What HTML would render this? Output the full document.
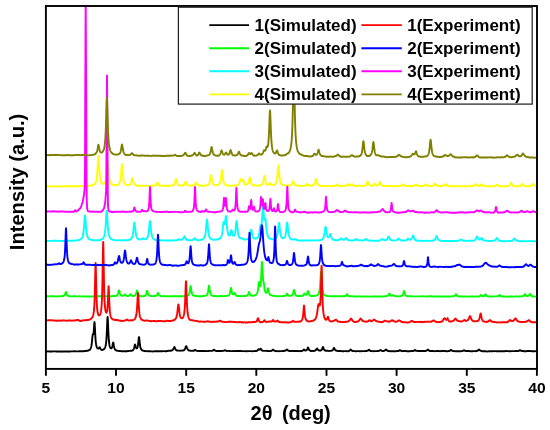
<!DOCTYPE html>
<html><head><meta charset="utf-8"><title>XRD patterns</title>
<style>html,body{margin:0;padding:0;background:#fff}body{width:550px;height:430px;overflow:hidden}</style>
</head><body>
<svg width="550" height="430" viewBox="0 0 550 430" style="display:block">
<rect width="550" height="430" fill="#fff"/>
<defs><clipPath id="pc"><rect x="44.9" y="6.0" width="493.1" height="362.9"/></clipPath></defs>
<g clip-path="url(#pc)" fill="none" stroke-width="1.9" stroke-linejoin="round" stroke-linecap="butt">
<polyline stroke="#000000" points="45.90,351.5 46.15,351.5 46.40,351.5 46.65,351.5 46.90,351.5 47.15,351.4 47.40,351.4 47.65,351.4 47.90,351.4 48.15,351.4 48.40,351.4 48.65,351.4 48.90,351.4 49.15,351.5 49.40,351.4 49.65,351.4 49.90,351.4 50.15,351.5 50.40,351.4 50.65,351.5 50.90,351.5 51.15,351.5 51.40,351.4 51.65,351.5 51.90,351.5 52.15,351.5 52.40,351.5 52.65,351.4 52.90,351.4 53.15,351.4 53.40,351.4 53.65,351.3 53.90,351.4 54.15,351.4 54.40,351.4 54.65,351.4 54.90,351.4 55.15,351.4 55.40,351.4 55.65,351.4 55.90,351.4 56.15,351.5 56.40,351.5 56.65,351.5 56.90,351.6 57.15,351.6 57.40,351.5 57.65,351.5 57.90,351.5 58.15,351.5 58.40,351.5 58.65,351.5 58.90,351.5 59.15,351.6 59.40,351.5 59.65,351.5 59.90,351.5 60.15,351.5 60.40,351.5 60.65,351.5 60.90,351.6 61.15,351.6 61.40,351.7 61.65,351.6 61.90,351.6 62.15,351.5 62.40,351.5 62.65,351.5 62.90,351.5 63.15,351.5 63.40,351.4 63.65,351.5 63.90,351.5 64.15,351.5 64.40,351.5 64.65,351.4 64.90,351.4 65.15,351.4 65.40,351.4 65.65,351.5 65.90,351.4 66.15,351.4 66.40,351.4 66.65,351.5 66.90,351.5 67.15,351.5 67.40,351.5 67.65,351.5 67.90,351.5 68.15,351.5 68.40,351.5 68.65,351.5 68.90,351.4 69.15,351.4 69.40,351.4 69.65,351.5 69.90,351.5 70.15,351.5 70.40,351.4 70.65,351.4 70.90,351.4 71.15,351.4 71.40,351.4 71.65,351.4 71.90,351.4 72.15,351.4 72.40,351.4 72.65,351.4 72.90,351.4 73.15,351.3 73.40,351.3 73.65,351.3 73.90,351.3 74.15,351.3 74.40,351.3 74.65,351.3 74.90,351.3 75.15,351.4 75.40,351.3 75.65,351.4 75.90,351.4 76.15,351.4 76.40,351.4 76.65,351.4 76.90,351.4 77.15,351.4 77.40,351.4 77.65,351.4 77.90,351.4 78.15,351.4 78.40,351.4 78.65,351.3 78.90,351.3 79.15,351.3 79.40,351.3 79.65,351.2 79.90,351.3 80.15,351.3 80.40,351.3 80.65,351.3 80.90,351.3 81.15,351.3 81.40,351.3 81.65,351.3 81.90,351.3 82.15,351.2 82.40,351.2 82.65,351.3 82.90,351.3 83.15,351.3 83.40,351.2 83.65,351.2 83.90,351.2 84.15,351.1 84.40,351.1 84.65,351.0 84.90,351.0 85.15,351.0 85.40,351.0 85.65,351.0 85.90,351.0 86.15,350.9 86.40,350.9 86.65,350.8 86.90,350.8 87.15,350.7 87.40,350.7 87.65,350.7 87.90,350.6 88.15,350.6 88.40,350.5 88.65,350.4 88.90,350.3 89.15,350.2 89.40,349.9 89.65,349.8 89.90,349.5 90.15,349.3 90.40,348.9 90.65,348.4 90.90,347.8 91.15,347.0 91.40,345.9 91.65,344.5 91.90,342.5 92.15,339.9 92.40,337.0 92.65,334.9 92.70,334.7 92.90,334.2 93.15,334.5 93.40,334.2 93.65,332.6 93.90,329.4 94.15,325.2 94.40,322.3 94.50,322.1 94.65,323.3 94.90,327.6 95.15,332.9 95.40,337.3 95.65,340.6 95.90,342.9 96.15,344.7 96.40,345.9 96.65,346.7 96.90,347.4 97.15,347.8 97.40,348.1 97.65,348.4 97.90,348.5 98.15,348.5 98.40,348.5 98.65,348.4 98.90,348.1 99.15,347.6 99.40,347.3 99.60,347.1 99.65,347.1 99.90,347.6 100.15,348.1 100.40,348.7 100.65,349.2 100.90,349.4 101.15,349.6 101.40,349.8 101.65,349.9 101.90,350.0 102.15,349.9 102.40,349.9 102.65,349.8 102.90,349.7 103.15,349.6 103.40,349.5 103.65,349.4 103.90,349.2 104.15,349.0 104.40,348.7 104.65,348.3 104.90,347.9 105.15,347.3 105.40,346.5 105.65,345.5 105.90,344.1 106.15,342.3 106.40,339.6 106.65,335.8 106.90,330.7 107.15,324.4 107.40,318.7 107.60,317.0 107.65,317.1 107.90,320.8 108.15,327.0 108.40,333.0 108.65,337.5 108.90,340.7 109.15,343.0 109.40,344.7 109.65,345.9 109.90,346.8 110.15,347.4 110.40,347.8 110.65,348.1 110.90,348.2 111.15,348.3 111.40,348.3 111.65,348.1 111.90,347.7 112.15,347.0 112.40,346.0 112.65,344.7 112.90,343.3 113.15,342.5 113.20,342.5 113.40,342.9 113.65,344.3 113.90,345.9 114.15,347.2 114.40,348.1 114.65,348.8 114.90,349.2 115.15,349.6 115.40,349.9 115.65,350.1 115.90,350.2 116.15,350.4 116.40,350.5 116.65,350.6 116.90,350.6 117.15,350.7 117.40,350.8 117.65,350.8 117.90,350.8 118.15,350.9 118.40,350.9 118.65,350.9 118.90,350.9 119.15,351.0 119.40,351.0 119.65,351.0 119.90,351.0 120.15,351.1 120.40,351.1 120.65,351.1 120.90,351.1 121.15,351.2 121.40,351.1 121.65,351.2 121.90,351.2 122.15,351.3 122.40,351.3 122.65,351.3 122.90,351.3 123.15,351.3 123.40,351.3 123.65,351.2 123.90,351.2 124.15,351.2 124.40,351.3 124.65,351.2 124.90,351.2 125.15,351.2 125.40,351.2 125.65,351.2 125.90,351.2 126.15,351.2 126.40,351.2 126.65,351.2 126.90,351.2 127.15,351.2 127.40,351.2 127.65,351.1 127.90,351.0 128.15,351.0 128.40,351.0 128.65,351.0 128.90,350.9 129.15,350.9 129.40,350.9 129.65,350.9 129.90,350.9 130.15,350.8 130.40,350.8 130.65,350.8 130.90,350.8 131.15,350.9 131.40,350.9 131.65,350.8 131.90,350.7 132.15,350.6 132.40,350.5 132.65,350.4 132.90,350.2 133.15,349.9 133.40,349.7 133.65,349.2 133.90,348.6 134.15,347.8 134.40,346.7 134.65,345.5 134.90,344.6 135.00,344.5 135.15,344.7 135.40,345.5 135.65,346.5 135.90,347.4 136.15,348.0 136.40,348.3 136.65,348.4 136.90,348.4 137.15,348.1 137.40,347.6 137.65,346.8 137.90,345.6 138.15,344.0 138.40,341.6 138.65,339.0 138.90,337.2 139.00,337.1 139.15,337.5 139.40,339.6 139.65,342.2 139.90,344.5 140.15,346.1 140.40,347.3 140.65,348.2 140.90,348.8 141.15,349.2 141.40,349.6 141.65,349.9 141.90,350.1 142.15,350.2 142.40,350.4 142.65,350.5 142.90,350.6 143.15,350.7 143.40,350.8 143.65,350.9 143.90,350.9 144.15,350.9 144.40,350.9 144.65,351.0 144.90,351.0 145.15,351.1 145.40,351.1 145.65,351.2 145.90,351.2 146.15,351.2 146.40,351.1 146.65,351.1 146.90,351.1 147.15,351.1 147.40,351.1 147.65,351.2 147.90,351.2 148.15,351.2 148.40,351.2 148.65,351.2 148.90,351.2 149.15,351.1 149.40,351.2 149.65,351.2 149.90,351.3 150.15,351.3 150.40,351.3 150.65,351.3 150.90,351.4 151.15,351.4 151.40,351.4 151.65,351.4 151.90,351.4 152.15,351.4 152.40,351.4 152.65,351.5 152.90,351.4 153.15,351.4 153.40,351.4 153.65,351.4 153.90,351.4 154.15,351.3 154.40,351.4 154.65,351.3 154.90,351.3 155.15,351.3 155.40,351.3 155.65,351.3 155.90,351.3 156.15,351.3 156.40,351.3 156.65,351.3 156.90,351.3 157.15,351.3 157.40,351.2 157.65,351.3 157.90,351.2 158.15,351.2 158.40,351.2 158.65,351.2 158.90,351.2 159.15,351.2 159.40,351.2 159.65,351.2 159.90,351.2 160.15,351.3 160.40,351.2 160.65,351.2 160.90,351.3 161.15,351.3 161.40,351.3 161.65,351.2 161.90,351.2 162.15,351.2 162.40,351.2 162.65,351.2 162.90,351.1 163.15,351.1 163.40,351.1 163.65,351.1 163.90,351.1 164.15,351.1 164.40,351.1 164.65,351.2 164.90,351.1 165.15,351.2 165.40,351.2 165.65,351.2 165.90,351.2 166.15,351.2 166.40,351.2 166.65,351.2 166.90,351.1 167.15,351.0 167.40,351.0 167.65,350.9 167.90,350.9 168.15,350.8 168.40,350.8 168.65,350.8 168.90,350.8 169.15,350.8 169.40,350.7 169.65,350.7 169.90,350.7 170.15,350.7 170.40,350.8 170.65,350.7 170.90,350.7 171.15,350.7 171.40,350.6 171.65,350.5 171.90,350.4 172.15,350.3 172.40,350.2 172.65,350.0 172.90,349.7 173.15,349.4 173.40,349.0 173.65,348.4 173.90,347.8 174.15,347.3 174.40,347.1 174.65,347.3 174.90,347.9 175.15,348.5 175.40,349.0 175.65,349.5 175.90,349.8 176.15,350.0 176.40,350.2 176.65,350.4 176.90,350.5 177.15,350.5 177.40,350.6 177.65,350.6 177.90,350.6 178.15,350.6 178.40,350.6 178.65,350.6 178.90,350.6 179.15,350.6 179.40,350.6 179.65,350.7 179.90,350.6 180.15,350.6 180.40,350.6 180.65,350.7 180.90,350.6 181.15,350.6 181.40,350.6 181.65,350.6 181.90,350.6 182.15,350.6 182.40,350.6 182.65,350.6 182.90,350.5 183.15,350.4 183.40,350.4 183.65,350.2 183.90,350.2 184.15,350.0 184.40,349.8 184.65,349.5 184.90,349.1 185.15,348.5 185.40,347.8 185.65,347.1 185.90,346.5 186.15,346.2 186.20,346.2 186.40,346.3 186.65,346.8 186.90,347.6 187.15,348.2 187.40,348.8 187.65,349.3 187.90,349.6 188.15,349.9 188.40,350.1 188.65,350.3 188.90,350.5 189.15,350.5 189.40,350.6 189.65,350.6 189.90,350.6 190.15,350.6 190.40,350.7 190.65,350.7 190.90,350.7 191.15,350.8 191.40,350.9 191.65,350.9 191.90,350.9 192.15,350.9 192.40,350.8 192.65,350.9 192.90,350.8 193.15,350.9 193.40,350.8 193.65,350.7 193.90,350.7 194.15,350.5 194.40,350.3 194.65,350.1 194.90,350.0 195.00,350.0 195.15,350.0 195.40,350.1 195.65,350.3 195.90,350.4 196.15,350.6 196.40,350.7 196.65,350.8 196.90,350.8 197.15,350.9 197.40,350.9 197.65,350.9 197.90,350.9 198.15,351.0 198.40,350.9 198.65,351.0 198.90,351.0 199.15,351.0 199.40,351.0 199.65,351.0 199.90,351.0 200.15,351.0 200.40,351.0 200.65,351.0 200.90,351.1 201.15,351.0 201.40,351.1 201.65,351.0 201.90,351.0 202.15,351.0 202.40,351.0 202.65,351.0 202.90,351.0 203.15,351.1 203.40,351.1 203.65,351.0 203.90,351.0 204.15,351.0 204.40,351.0 204.65,351.0 204.90,351.0 205.15,351.1 205.40,351.1 205.65,351.1 205.90,351.1 206.15,351.1 206.40,351.1 206.65,351.1 206.90,351.1 207.15,351.1 207.40,351.1 207.65,351.1 207.90,351.0 208.15,351.0 208.40,351.0 208.65,350.9 208.90,350.9 209.15,350.9 209.40,350.9 209.65,350.9 209.90,350.8 210.15,350.9 210.40,350.9 210.65,350.9 210.90,350.9 211.15,350.9 211.40,350.9 211.65,350.9 211.90,350.9 212.15,350.8 212.40,350.7 212.65,350.6 212.90,350.5 213.15,350.4 213.40,350.2 213.65,349.9 213.90,349.7 214.00,349.7 214.15,349.7 214.40,349.9 214.65,350.2 214.90,350.4 215.15,350.6 215.40,350.7 215.65,350.8 215.90,350.9 216.15,350.9 216.40,350.9 216.65,351.0 216.90,351.0 217.15,351.0 217.40,351.0 217.65,351.0 217.90,351.0 218.15,351.0 218.40,351.0 218.65,351.1 218.90,351.1 219.15,351.0 219.40,351.0 219.65,350.9 219.90,350.9 220.15,351.0 220.40,351.0 220.65,351.0 220.90,351.0 221.15,351.0 221.40,351.0 221.65,351.0 221.90,350.9 222.15,350.9 222.40,350.9 222.65,350.9 222.90,350.9 223.15,350.9 223.40,350.9 223.65,350.8 223.90,350.7 224.15,350.6 224.40,350.5 224.65,350.3 224.90,350.3 225.00,350.3 225.15,350.3 225.40,350.4 225.65,350.6 225.90,350.7 226.15,350.8 226.40,350.8 226.65,350.9 226.90,351.0 227.15,351.0 227.40,350.9 227.65,350.9 227.90,350.9 228.15,350.9 228.40,350.9 228.65,350.9 228.90,350.9 229.15,350.9 229.40,351.0 229.65,351.1 229.90,351.1 230.15,351.1 230.40,351.1 230.65,351.1 230.90,351.1 231.15,351.1 231.40,351.1 231.65,351.1 231.90,351.1 232.15,351.1 232.40,351.1 232.65,351.1 232.90,351.1 233.15,351.0 233.40,351.1 233.65,351.0 233.90,351.0 234.15,351.0 234.40,351.1 234.65,351.1 234.90,351.1 235.15,351.1 235.40,351.1 235.65,351.1 235.90,351.0 236.15,351.0 236.40,351.0 236.65,351.0 236.90,351.0 237.15,351.1 237.40,351.1 237.65,351.1 237.90,351.0 238.15,351.0 238.40,351.0 238.65,351.0 238.90,351.0 239.15,351.0 239.40,351.0 239.65,351.0 239.90,351.0 240.15,351.0 240.40,351.0 240.65,351.1 240.90,351.0 241.15,351.0 241.40,351.1 241.65,351.1 241.90,351.1 242.15,351.1 242.40,351.1 242.65,351.1 242.90,351.1 243.15,351.1 243.40,351.1 243.65,351.1 243.90,351.2 244.15,351.1 244.40,351.1 244.65,351.1 244.90,351.1 245.15,351.1 245.40,351.1 245.65,351.2 245.90,351.2 246.15,351.2 246.40,351.2 246.65,351.2 246.90,351.2 247.15,351.2 247.40,351.1 247.65,351.1 247.90,351.1 248.15,351.1 248.40,351.2 248.65,351.1 248.90,351.1 249.15,351.1 249.40,351.1 249.65,351.1 249.90,351.1 250.15,351.1 250.40,351.1 250.65,351.1 250.90,351.1 251.15,351.1 251.40,351.1 251.65,351.2 251.90,351.2 252.15,351.2 252.40,351.1 252.65,351.1 252.90,351.2 253.15,351.2 253.40,351.1 253.65,351.1 253.90,351.1 254.15,351.1 254.40,351.1 254.65,351.1 254.90,351.1 255.15,351.0 255.40,351.1 255.65,351.1 255.90,351.1 256.15,351.0 256.40,350.9 256.65,350.9 256.90,350.8 257.15,350.7 257.40,350.5 257.65,350.3 257.90,350.0 258.15,349.7 258.40,349.4 258.60,349.2 258.65,349.2 258.90,349.3 259.15,349.4 259.40,349.6 259.65,349.7 259.90,349.6 260.15,349.3 260.40,349.0 260.65,348.7 260.80,348.7 260.90,348.8 261.15,349.1 261.40,349.6 261.65,350.0 261.90,350.3 262.15,350.4 262.40,350.6 262.65,350.7 262.90,350.8 263.15,350.9 263.40,350.9 263.65,350.9 263.90,350.9 264.15,350.9 264.40,350.9 264.65,350.9 264.90,350.9 265.15,350.9 265.40,350.8 265.65,350.9 265.90,350.9 266.15,350.9 266.40,350.8 266.65,350.8 266.90,350.9 267.15,350.9 267.40,350.9 267.65,351.0 267.90,351.0 268.15,351.0 268.40,351.0 268.65,351.1 268.90,351.1 269.15,351.1 269.40,351.1 269.65,351.1 269.90,351.1 270.15,351.1 270.40,351.1 270.65,351.0 270.90,351.0 271.15,350.9 271.40,350.8 271.65,350.7 271.90,350.6 272.15,350.4 272.40,350.1 272.65,349.8 272.90,349.6 273.00,349.6 273.15,349.6 273.40,349.9 273.65,350.2 273.90,350.4 274.15,350.6 274.40,350.7 274.65,350.8 274.90,350.8 275.15,350.9 275.40,351.0 275.65,351.0 275.90,351.0 276.15,351.1 276.40,351.1 276.65,351.2 276.90,351.1 277.15,351.1 277.40,351.1 277.65,351.1 277.90,351.2 278.15,351.2 278.40,351.2 278.65,351.1 278.90,351.1 279.15,351.2 279.40,351.1 279.65,351.1 279.90,351.1 280.15,351.1 280.40,351.1 280.65,351.1 280.90,351.2 281.15,351.1 281.40,351.1 281.65,351.1 281.90,351.1 282.15,351.1 282.40,351.0 282.65,351.0 282.90,351.0 283.15,351.0 283.40,351.0 283.65,351.0 283.90,350.9 284.15,350.8 284.40,350.8 284.65,350.8 284.90,350.7 285.15,350.7 285.40,350.6 285.65,350.5 285.90,350.4 286.15,350.2 286.40,350.0 286.65,349.7 286.90,349.5 287.00,349.5 287.15,349.6 287.40,349.9 287.65,350.1 287.90,350.3 288.15,350.6 288.40,350.7 288.65,350.8 288.90,350.9 289.15,350.9 289.40,351.0 289.65,351.0 289.90,351.0 290.15,351.0 290.40,351.0 290.65,351.0 290.90,351.0 291.15,351.0 291.40,351.0 291.65,351.0 291.90,350.9 292.15,350.9 292.40,350.9 292.65,350.9 292.90,350.9 293.15,351.0 293.40,351.0 293.65,350.9 293.90,351.0 294.15,351.0 294.40,351.1 294.65,351.1 294.90,351.0 295.15,351.0 295.40,351.0 295.65,351.0 295.90,351.0 296.15,351.0 296.40,350.9 296.65,350.9 296.90,351.0 297.15,351.0 297.40,351.1 297.65,351.0 297.90,351.0 298.15,351.0 298.40,351.0 298.65,351.1 298.90,351.1 299.15,351.1 299.40,351.1 299.65,351.2 299.90,351.2 300.15,351.2 300.40,351.1 300.65,351.0 300.90,351.0 301.15,351.0 301.40,351.0 301.65,350.9 301.90,350.9 302.15,350.8 302.40,350.8 302.65,350.7 302.90,350.5 303.15,350.3 303.40,350.0 303.65,349.7 303.90,349.5 304.00,349.5 304.15,349.6 304.40,349.8 304.65,350.0 304.90,350.3 305.15,350.4 305.40,350.5 305.65,350.5 305.90,350.4 306.15,350.3 306.40,350.2 306.65,350.0 306.90,349.8 307.15,349.4 307.40,348.8 307.65,348.1 307.90,347.6 308.00,347.5 308.15,347.6 308.40,348.2 308.65,348.9 308.90,349.4 309.15,349.9 309.40,350.2 309.65,350.3 309.90,350.5 310.15,350.6 310.40,350.8 310.65,350.8 310.90,350.9 311.15,351.0 311.40,351.0 311.65,351.0 311.90,351.0 312.15,350.9 312.40,350.9 312.65,350.9 312.90,350.9 313.15,351.0 313.40,350.9 313.65,350.9 313.90,350.9 314.15,350.8 314.40,350.8 314.65,350.7 314.90,350.7 315.15,350.6 315.40,350.5 315.65,350.3 315.90,350.1 316.15,349.8 316.40,349.3 316.65,348.8 316.90,348.4 317.00,348.4 317.15,348.5 317.40,348.8 317.65,349.3 317.90,349.7 318.15,350.0 318.40,350.2 318.65,350.3 318.90,350.4 319.15,350.5 319.40,350.5 319.65,350.6 319.90,350.6 320.15,350.6 320.40,350.5 320.65,350.5 320.90,350.4 321.15,350.3 321.40,350.1 321.65,349.8 321.90,349.5 322.15,349.0 322.40,348.3 322.65,347.5 322.90,347.1 323.00,347.0 323.15,347.1 323.40,347.7 323.65,348.5 323.90,349.2 324.15,349.6 324.40,350.0 324.65,350.2 324.90,350.4 325.15,350.5 325.40,350.6 325.65,350.7 325.90,350.8 326.15,350.8 326.40,350.8 326.65,350.8 326.90,350.8 327.15,350.8 327.40,350.8 327.65,350.8 327.90,350.9 328.15,350.9 328.40,350.9 328.65,350.9 328.90,350.9 329.15,351.0 329.40,350.9 329.65,350.9 329.90,350.9 330.15,350.9 330.40,350.9 330.65,350.9 330.90,350.9 331.15,350.8 331.40,350.7 331.65,350.6 331.90,350.6 332.15,350.5 332.40,350.4 332.65,350.1 332.90,349.9 333.15,349.5 333.40,349.0 333.65,348.4 333.90,347.9 334.00,347.8 334.15,348.0 334.40,348.4 334.65,349.0 334.90,349.6 335.15,349.9 335.40,350.2 335.65,350.3 335.90,350.5 336.15,350.6 336.40,350.7 336.65,350.7 336.90,350.8 337.15,350.9 337.40,350.9 337.65,350.9 337.90,351.0 338.15,351.0 338.40,351.0 338.65,351.0 338.90,351.0 339.15,351.0 339.40,351.0 339.65,351.0 339.90,351.0 340.15,351.0 340.40,351.1 340.65,351.0 340.90,351.1 341.15,351.1 341.40,351.1 341.65,351.1 341.90,351.2 342.15,351.2 342.40,351.2 342.65,351.2 342.90,351.2 343.15,351.2 343.40,351.2 343.65,351.1 343.90,351.2 344.15,351.1 344.40,351.1 344.65,351.1 344.90,351.1 345.15,351.1 345.40,351.1 345.65,351.1 345.90,351.1 346.15,351.1 346.40,351.1 346.65,351.2 346.90,351.2 347.15,351.3 347.40,351.3 347.65,351.2 347.90,351.3 348.15,351.2 348.40,351.2 348.65,351.1 348.90,351.0 349.15,350.9 349.40,350.8 349.65,350.6 349.90,350.3 350.15,350.0 350.40,349.7 350.60,349.7 350.65,349.6 350.90,349.8 351.15,350.0 351.40,350.3 351.65,350.5 351.90,350.7 352.15,350.8 352.40,350.9 352.65,350.9 352.90,351.0 353.15,351.0 353.40,351.1 353.65,351.1 353.90,351.1 354.15,351.1 354.40,351.1 354.65,351.1 354.90,351.1 355.15,351.2 355.40,351.2 355.65,351.2 355.90,351.2 356.15,351.2 356.40,351.2 356.65,351.2 356.90,351.1 357.15,351.1 357.40,351.1 357.65,351.1 357.90,351.1 358.15,351.1 358.40,351.1 358.65,351.1 358.90,351.2 359.15,351.2 359.40,351.2 359.65,351.2 359.90,351.1 360.15,351.1 360.40,351.1 360.65,351.2 360.90,351.1 361.15,351.2 361.40,351.2 361.65,351.2 361.90,351.2 362.15,351.1 362.40,351.1 362.65,351.1 362.90,351.1 363.15,351.1 363.40,351.1 363.65,351.1 363.90,351.1 364.15,351.1 364.40,351.2 364.65,351.1 364.90,351.1 365.15,351.1 365.40,351.0 365.65,351.0 365.90,351.0 366.15,351.0 366.40,351.0 366.65,350.9 366.90,350.9 367.15,350.9 367.40,350.8 367.65,350.7 367.90,350.5 368.15,350.4 368.40,350.2 368.65,349.9 368.90,349.7 369.00,349.7 369.15,349.7 369.40,350.0 369.65,350.3 369.90,350.6 370.15,350.7 370.40,350.8 370.65,350.9 370.90,351.0 371.15,351.0 371.40,351.1 371.65,351.1 371.90,351.1 372.15,351.1 372.40,351.1 372.65,351.2 372.90,351.2 373.15,351.2 373.40,351.1 373.65,351.1 373.90,351.1 374.15,351.1 374.40,351.1 374.65,351.2 374.90,351.2 375.15,351.1 375.40,351.1 375.65,351.1 375.90,351.1 376.15,351.1 376.40,351.1 376.65,351.1 376.90,351.1 377.15,351.1 377.40,351.0 377.65,351.0 377.90,351.0 378.15,350.9 378.40,350.9 378.65,350.9 378.90,350.9 379.15,350.8 379.40,350.7 379.65,350.6 379.90,350.4 380.15,350.2 380.40,350.1 380.60,350.0 380.65,350.0 380.90,350.2 381.15,350.4 381.40,350.6 381.65,350.8 381.90,350.8 382.15,350.9 382.40,351.0 382.65,351.0 382.90,351.0 383.15,351.0 383.40,351.0 383.65,351.0 383.90,350.9 384.15,350.8 384.40,350.7 384.65,350.6 384.90,350.5 385.15,350.2 385.40,350.1 385.65,349.7 385.90,349.6 386.00,349.5 386.15,349.6 386.40,349.8 386.65,350.0 386.90,350.3 387.15,350.5 387.40,350.7 387.65,350.8 387.90,350.9 388.15,351.0 388.40,351.0 388.65,351.0 388.90,351.1 389.15,351.1 389.40,351.2 389.65,351.1 389.90,351.1 390.15,351.2 390.40,351.2 390.65,351.2 390.90,351.2 391.15,351.1 391.40,351.2 391.65,351.2 391.90,351.1 392.15,351.1 392.40,351.1 392.65,351.2 392.90,351.2 393.15,351.2 393.40,351.3 393.65,351.2 393.90,351.2 394.15,351.2 394.40,351.2 394.65,351.2 394.90,351.3 395.15,351.3 395.40,351.3 395.65,351.3 395.90,351.3 396.15,351.2 396.40,351.1 396.65,351.1 396.90,351.1 397.15,351.1 397.40,351.0 397.65,351.0 397.90,351.0 398.15,351.0 398.40,351.0 398.65,350.9 398.90,350.8 399.15,350.6 399.40,350.5 399.65,350.3 399.90,350.2 400.00,350.1 400.15,350.2 400.40,350.4 400.65,350.6 400.90,350.8 401.15,350.9 401.40,351.0 401.65,351.0 401.90,351.1 402.15,351.1 402.40,351.1 402.65,351.2 402.90,351.1 403.15,351.0 403.40,351.1 403.65,351.1 403.90,351.0 404.15,351.0 404.40,351.0 404.65,351.1 404.90,351.1 405.15,351.1 405.40,351.0 405.65,351.0 405.90,351.0 406.15,351.0 406.40,351.1 406.65,351.2 406.90,351.1 407.15,351.2 407.40,351.3 407.65,351.3 407.90,351.3 408.15,351.2 408.40,351.2 408.65,351.2 408.90,351.3 409.15,351.3 409.40,351.2 409.65,351.2 409.90,351.2 410.15,351.2 410.40,351.1 410.65,351.1 410.90,351.1 411.15,351.0 411.40,351.0 411.65,351.1 411.90,351.1 412.15,351.0 412.40,351.0 412.65,351.0 412.90,351.0 413.15,351.0 413.40,350.9 413.65,350.8 413.90,350.8 414.15,350.7 414.40,350.5 414.65,350.2 414.90,350.1 415.00,350.0 415.15,350.1 415.40,350.3 415.65,350.5 415.90,350.6 416.15,350.8 416.40,350.9 416.65,350.9 416.90,350.9 417.15,350.9 417.40,350.9 417.65,350.9 417.90,351.0 418.15,351.0 418.40,351.0 418.65,351.0 418.90,351.0 419.15,351.0 419.40,351.0 419.65,351.1 419.90,351.1 420.15,351.0 420.40,351.1 420.65,351.1 420.90,351.1 421.15,351.0 421.40,351.0 421.65,351.0 421.90,351.0 422.15,351.0 422.40,351.0 422.65,351.1 422.90,351.1 423.15,351.0 423.40,351.1 423.65,351.0 423.90,351.0 424.15,351.0 424.40,351.1 424.65,351.1 424.90,351.1 425.15,351.1 425.40,351.0 425.65,350.9 425.90,350.8 426.15,350.8 426.40,350.7 426.65,350.6 426.90,350.4 427.15,350.3 427.40,350.1 427.65,349.8 427.90,349.6 428.00,349.6 428.15,349.7 428.40,349.9 428.65,350.3 428.90,350.5 429.15,350.7 429.40,350.8 429.65,350.9 429.90,351.0 430.15,351.0 430.40,351.0 430.65,351.0 430.90,351.0 431.15,351.0 431.40,351.0 431.65,351.0 431.90,351.0 432.15,351.0 432.40,351.0 432.65,351.0 432.90,351.0 433.15,351.0 433.40,351.1 433.65,351.1 433.90,351.1 434.15,351.1 434.40,351.1 434.65,351.1 434.90,351.2 435.15,351.1 435.40,351.2 435.65,351.1 435.90,351.1 436.15,351.1 436.40,351.1 436.65,351.1 436.90,351.0 437.15,351.0 437.40,351.0 437.65,351.0 437.90,351.1 438.15,351.0 438.40,351.0 438.65,351.0 438.90,351.0 439.15,351.1 439.40,351.1 439.65,351.1 439.90,351.2 440.15,351.2 440.40,351.2 440.65,351.1 440.90,351.1 441.15,351.1 441.40,351.0 441.65,351.0 441.90,351.0 442.15,351.0 442.40,351.0 442.65,350.9 442.90,350.9 443.15,350.9 443.40,350.9 443.65,350.9 443.90,350.9 444.15,351.0 444.40,350.9 444.65,351.0 444.90,351.0 445.15,351.1 445.40,351.1 445.65,351.1 445.90,351.2 446.15,351.1 446.40,351.2 446.65,351.2 446.90,351.2 447.15,351.2 447.40,351.1 447.65,351.1 447.90,351.2 448.15,351.1 448.40,351.1 448.65,351.1 448.90,351.0 449.15,351.0 449.40,350.9 449.65,350.8 449.90,350.7 450.15,350.5 450.40,350.3 450.65,350.1 450.90,350.0 451.00,349.9 451.15,350.0 451.40,350.1 451.65,350.4 451.90,350.6 452.15,350.7 452.40,350.8 452.65,350.9 452.90,351.0 453.15,351.0 453.40,351.0 453.65,351.0 453.90,351.1 454.15,351.1 454.40,351.2 454.65,351.2 454.90,351.2 455.15,351.2 455.40,351.1 455.65,351.1 455.90,351.2 456.15,351.2 456.40,351.2 456.65,351.2 456.90,351.2 457.15,351.3 457.40,351.2 457.65,351.2 457.90,351.2 458.15,351.2 458.40,351.2 458.65,351.2 458.90,351.2 459.15,351.2 459.40,351.2 459.65,351.2 459.90,351.2 460.15,351.2 460.40,351.2 460.65,351.2 460.90,351.2 461.15,351.2 461.40,351.1 461.65,351.1 461.90,351.1 462.15,351.1 462.40,351.0 462.65,351.0 462.90,350.8 463.15,350.7 463.40,350.6 463.65,350.4 463.90,350.3 464.00,350.3 464.15,350.2 464.40,350.4 464.65,350.6 464.90,350.8 465.15,350.9 465.40,350.9 465.65,351.0 465.90,351.0 466.15,351.0 466.40,351.0 466.65,351.0 466.90,351.0 467.15,351.0 467.40,351.0 467.65,351.1 467.90,351.0 468.15,351.0 468.40,351.0 468.65,351.0 468.90,351.0 469.15,351.1 469.40,351.1 469.65,351.1 469.90,351.2 470.15,351.2 470.40,351.2 470.65,351.2 470.90,351.3 471.15,351.2 471.40,351.3 471.65,351.3 471.90,351.2 472.15,351.2 472.40,351.2 472.65,351.2 472.90,351.2 473.15,351.1 473.40,351.1 473.65,351.1 473.90,351.1 474.15,351.1 474.40,351.1 474.65,351.1 474.90,351.1 475.15,351.1 475.40,351.2 475.65,351.2 475.90,351.1 476.15,351.0 476.40,351.0 476.65,351.0 476.90,351.0 477.15,350.9 477.40,350.8 477.65,350.7 477.90,350.5 478.15,350.3 478.40,350.1 478.65,349.8 478.90,349.5 479.00,349.5 479.15,349.6 479.40,349.8 479.65,350.1 479.90,350.3 480.15,350.5 480.40,350.7 480.65,350.8 480.90,350.9 481.15,350.9 481.40,350.9 481.65,351.0 481.90,351.0 482.15,351.1 482.40,351.2 482.65,351.2 482.90,351.2 483.15,351.2 483.40,351.2 483.65,351.2 483.90,351.3 484.15,351.3 484.40,351.3 484.65,351.3 484.90,351.3 485.15,351.3 485.40,351.3 485.65,351.3 485.90,351.3 486.15,351.4 486.40,351.4 486.65,351.4 486.90,351.4 487.15,351.5 487.40,351.4 487.65,351.4 487.90,351.4 488.15,351.4 488.40,351.3 488.65,351.4 488.90,351.4 489.15,351.3 489.40,351.3 489.65,351.3 489.90,351.2 490.15,351.2 490.40,351.2 490.65,351.2 490.90,351.1 491.15,351.2 491.40,351.2 491.65,351.2 491.90,351.3 492.15,351.2 492.40,351.2 492.65,351.2 492.90,351.1 493.15,351.1 493.40,351.1 493.65,351.1 493.90,351.1 494.15,351.2 494.40,351.2 494.65,351.2 494.90,351.1 495.15,351.1 495.40,351.1 495.65,351.1 495.90,351.1 496.15,351.1 496.40,351.2 496.65,351.2 496.90,351.2 497.15,351.2 497.40,351.2 497.65,351.3 497.90,351.3 498.15,351.3 498.40,351.3 498.65,351.4 498.90,351.4 499.15,351.3 499.40,351.3 499.65,351.3 499.90,351.3 500.15,351.2 500.40,351.2 500.65,351.2 500.90,351.3 501.15,351.3 501.40,351.3 501.65,351.2 501.90,351.3 502.15,351.2 502.40,351.3 502.65,351.3 502.90,351.3 503.15,351.3 503.40,351.3 503.65,351.3 503.90,351.3 504.15,351.3 504.40,351.2 504.65,351.2 504.90,351.2 505.15,351.1 505.40,351.1 505.65,351.1 505.90,351.0 506.15,351.0 506.40,351.0 506.65,351.1 506.90,351.1 507.15,351.1 507.40,351.1 507.65,351.1 507.90,351.1 508.15,351.1 508.40,351.1 508.65,351.2 508.90,351.2 509.15,351.2 509.40,351.2 509.65,351.2 509.90,351.2 510.15,351.2 510.40,351.1 510.65,351.1 510.90,351.1 511.15,351.1 511.40,351.2 511.65,351.2 511.90,351.1 512.15,351.1 512.40,351.1 512.65,351.1 512.90,351.1 513.15,351.1 513.40,351.1 513.65,351.1 513.90,351.1 514.15,351.1 514.40,351.1 514.65,351.1 514.90,351.1 515.15,351.1 515.40,351.0 515.65,351.1 515.90,351.1 516.15,351.1 516.40,351.1 516.65,351.1 516.90,351.0 517.15,351.1 517.40,351.1 517.65,351.1 517.90,351.1 518.15,351.0 518.40,351.0 518.65,350.9 518.90,350.8 519.15,350.7 519.40,350.5 519.65,350.3 519.90,350.1 520.00,350.1 520.15,350.2 520.40,350.3 520.65,350.5 520.90,350.7 521.15,350.8 521.40,350.9 521.65,351.0 521.90,351.0 522.15,351.0 522.40,351.1 522.65,351.0 522.90,351.0 523.15,351.0 523.40,351.1 523.65,351.2 523.90,351.1 524.15,351.2 524.40,351.2 524.65,351.2 524.90,351.2 525.15,351.2 525.40,351.2 525.65,351.2 525.90,351.2 526.15,351.2 526.40,351.2 526.65,351.2 526.90,351.1 527.15,351.0 527.40,351.0 527.65,351.0 527.90,351.0 528.15,351.0 528.40,350.9 528.65,350.9 528.90,351.0 529.15,350.9 529.40,351.0 529.65,351.0 529.90,351.0 530.15,351.0 530.40,351.1 530.65,351.1 530.90,351.1 531.15,351.1 531.40,351.2 531.65,351.2 531.90,351.2 532.15,351.3 532.40,351.3 532.65,351.3 532.90,351.3 533.15,351.3 533.40,351.3 533.65,351.2 533.90,351.2 534.15,351.2 534.40,351.2 534.65,351.2 534.90,351.2 535.15,351.2 535.40,351.1 535.65,351.1 535.90,351.1 536.15,351.1 536.40,351.1 536.65,351.1 536.90,351.1"/>
<polyline stroke="#00ff00" points="45.90,296.3 46.15,296.3 46.40,296.3 46.65,296.2 46.90,296.3 47.15,296.3 47.40,296.3 47.65,296.3 47.90,296.3 48.15,296.3 48.40,296.3 48.65,296.3 48.90,296.4 49.15,296.4 49.40,296.3 49.65,296.4 49.90,296.4 50.15,296.4 50.40,296.4 50.65,296.3 50.90,296.3 51.15,296.3 51.40,296.2 51.65,296.3 51.90,296.2 52.15,296.3 52.40,296.2 52.65,296.2 52.90,296.3 53.15,296.3 53.40,296.3 53.65,296.3 53.90,296.3 54.15,296.3 54.40,296.3 54.65,296.4 54.90,296.4 55.15,296.4 55.40,296.5 55.65,296.4 55.90,296.5 56.15,296.5 56.40,296.4 56.65,296.4 56.90,296.4 57.15,296.4 57.40,296.4 57.65,296.4 57.90,296.4 58.15,296.4 58.40,296.4 58.65,296.4 58.90,296.4 59.15,296.3 59.40,296.3 59.65,296.3 59.90,296.3 60.15,296.3 60.40,296.2 60.65,296.2 60.90,296.2 61.15,296.2 61.40,296.1 61.65,296.1 61.90,296.1 62.15,296.1 62.40,296.0 62.65,296.1 62.90,296.0 63.15,296.0 63.40,295.9 63.65,295.8 63.90,295.7 64.15,295.5 64.40,295.3 64.65,295.1 64.90,294.7 65.15,294.2 65.40,293.4 65.65,292.5 65.90,292.0 66.00,292.0 66.15,292.1 66.40,292.8 66.65,293.7 66.90,294.4 67.15,294.9 67.40,295.3 67.65,295.6 67.90,295.8 68.15,295.9 68.40,296.0 68.65,296.1 68.90,296.1 69.15,296.2 69.40,296.2 69.65,296.2 69.90,296.2 70.15,296.2 70.40,296.3 70.65,296.4 70.90,296.4 71.15,296.4 71.40,296.4 71.65,296.4 71.90,296.4 72.15,296.3 72.40,296.4 72.65,296.3 72.90,296.3 73.15,296.3 73.40,296.3 73.65,296.4 73.90,296.3 74.15,296.2 74.40,296.2 74.65,296.2 74.90,296.3 75.15,296.3 75.40,296.3 75.65,296.4 75.90,296.4 76.15,296.4 76.40,296.4 76.65,296.4 76.90,296.4 77.15,296.3 77.40,296.4 77.65,296.4 77.90,296.4 78.15,296.4 78.40,296.4 78.65,296.4 78.90,296.3 79.15,296.3 79.40,296.3 79.65,296.2 79.90,296.2 80.15,296.3 80.40,296.4 80.65,296.4 80.90,296.4 81.15,296.4 81.40,296.4 81.65,296.5 81.90,296.4 82.15,296.4 82.40,296.4 82.65,296.4 82.90,296.4 83.15,296.5 83.40,296.5 83.65,296.5 83.90,296.5 84.15,296.4 84.40,296.4 84.65,296.4 84.90,296.4 85.15,296.4 85.40,296.4 85.65,296.4 85.90,296.4 86.15,296.5 86.40,296.5 86.65,296.5 86.90,296.5 87.15,296.5 87.40,296.5 87.65,296.5 87.90,296.5 88.15,296.5 88.40,296.5 88.65,296.5 88.90,296.5 89.15,296.5 89.40,296.5 89.65,296.4 89.90,296.4 90.15,296.4 90.40,296.5 90.65,296.4 90.90,296.4 91.15,296.4 91.40,296.4 91.65,296.5 91.90,296.5 92.15,296.5 92.40,296.4 92.65,296.4 92.90,296.4 93.15,296.4 93.40,296.4 93.65,296.4 93.90,296.4 94.15,296.4 94.40,296.4 94.65,296.4 94.90,296.4 95.15,296.4 95.40,296.4 95.65,296.4 95.90,296.4 96.15,296.5 96.40,296.4 96.65,296.4 96.90,296.4 97.15,296.3 97.40,296.3 97.65,296.3 97.90,296.3 98.15,296.3 98.40,296.3 98.65,296.3 98.90,296.3 99.15,296.3 99.40,296.3 99.65,296.3 99.90,296.3 100.15,296.3 100.40,296.3 100.65,296.3 100.90,296.4 101.15,296.4 101.40,296.4 101.65,296.5 101.90,296.5 102.15,296.5 102.40,296.5 102.65,296.4 102.90,296.4 103.15,296.3 103.40,296.4 103.65,296.3 103.90,296.4 104.15,296.3 104.40,296.3 104.65,296.2 104.90,296.2 105.15,296.2 105.40,296.2 105.65,296.2 105.90,296.2 106.15,296.2 106.40,296.2 106.65,296.3 106.90,296.2 107.15,296.3 107.40,296.3 107.65,296.3 107.90,296.3 108.15,296.3 108.40,296.3 108.65,296.3 108.90,296.3 109.15,296.4 109.40,296.4 109.65,296.3 109.90,296.3 110.15,296.3 110.40,296.3 110.65,296.3 110.90,296.2 111.15,296.3 111.40,296.2 111.65,296.2 111.90,296.2 112.15,296.1 112.40,296.1 112.65,296.0 112.90,296.0 113.15,296.0 113.40,296.1 113.65,296.1 113.90,296.1 114.15,296.1 114.40,296.1 114.65,296.0 114.90,296.0 115.15,296.0 115.40,296.0 115.65,296.0 115.90,295.9 116.15,295.8 116.40,295.8 116.65,295.6 116.90,295.4 117.15,295.3 117.40,295.0 117.65,294.6 117.90,294.1 118.15,293.3 118.40,292.3 118.65,291.2 118.90,290.4 119.00,290.4 119.15,290.6 119.40,291.5 119.65,292.5 119.90,293.5 120.15,294.2 120.40,294.6 120.65,295.0 120.90,295.2 121.15,295.4 121.40,295.6 121.65,295.6 121.90,295.7 122.15,295.7 122.40,295.7 122.65,295.7 122.90,295.7 123.15,295.7 123.40,295.6 123.65,295.5 123.90,295.3 124.15,295.2 124.40,294.9 124.65,294.5 124.90,294.3 125.00,294.3 125.15,294.5 125.40,294.7 125.65,295.1 125.90,295.4 126.15,295.6 126.40,295.7 126.65,295.8 126.90,295.9 127.15,296.0 127.40,296.0 127.65,296.0 127.90,296.0 128.15,296.0 128.40,295.9 128.65,295.8 128.90,295.7 129.15,295.6 129.40,295.3 129.65,295.0 129.90,294.7 130.15,294.3 130.40,294.2 130.65,294.3 130.90,294.7 131.15,295.1 131.40,295.4 131.65,295.6 131.90,295.8 132.15,295.9 132.40,296.0 132.65,296.0 132.90,296.0 133.15,295.9 133.40,296.0 133.65,296.0 133.90,295.9 134.15,295.8 134.40,295.7 134.65,295.6 134.90,295.5 135.15,295.3 135.40,295.0 135.65,294.6 135.90,294.1 136.15,293.4 136.40,292.4 136.65,291.4 136.90,290.5 137.00,290.4 137.15,290.7 137.40,291.5 137.65,292.7 137.90,293.6 138.15,294.4 138.40,294.8 138.65,295.2 138.90,295.4 139.15,295.6 139.40,295.7 139.65,295.9 139.90,295.9 140.15,296.0 140.40,296.0 140.65,296.0 140.90,296.1 141.15,296.2 141.40,296.2 141.65,296.2 141.90,296.2 142.15,296.3 142.40,296.2 142.65,296.2 142.90,296.2 143.15,296.2 143.40,296.2 143.65,296.2 143.90,296.2 144.15,296.1 144.40,296.0 144.65,295.9 144.90,295.7 145.15,295.5 145.40,295.3 145.65,295.0 145.90,294.6 146.15,294.1 146.40,293.3 146.65,292.3 146.90,291.3 147.15,290.7 147.20,290.7 147.40,291.0 147.65,291.9 147.90,293.0 148.15,293.8 148.40,294.5 148.65,294.8 148.90,295.2 149.15,295.4 149.40,295.5 149.65,295.6 149.90,295.7 150.15,295.8 150.40,295.9 150.65,295.9 150.90,296.0 151.15,296.0 151.40,296.1 151.65,296.1 151.90,296.1 152.15,296.1 152.40,296.1 152.65,296.1 152.90,296.2 153.15,296.2 153.40,296.2 153.65,296.2 153.90,296.2 154.15,296.1 154.40,296.1 154.65,296.0 154.90,296.0 155.15,295.9 155.40,295.9 155.65,295.9 155.90,295.9 156.15,295.7 156.40,295.6 156.65,295.3 156.90,295.0 157.15,294.6 157.40,294.0 157.65,293.4 157.90,293.0 158.00,292.9 158.15,293.0 158.40,293.6 158.65,294.1 158.90,294.7 159.15,295.1 159.40,295.3 159.65,295.5 159.90,295.6 160.15,295.8 160.40,295.9 160.65,296.0 160.90,296.0 161.15,296.1 161.40,296.1 161.65,296.2 161.90,296.1 162.15,296.1 162.40,296.1 162.65,296.1 162.90,296.2 163.15,296.2 163.40,296.2 163.65,296.2 163.90,296.2 164.15,296.2 164.40,296.2 164.65,296.2 164.90,296.1 165.15,296.1 165.40,296.2 165.65,296.2 165.90,296.2 166.15,296.2 166.40,296.2 166.65,296.2 166.90,296.3 167.15,296.2 167.40,296.3 167.65,296.3 167.90,296.3 168.15,296.3 168.40,296.4 168.65,296.3 168.90,296.4 169.15,296.4 169.40,296.4 169.65,296.4 169.90,296.4 170.15,296.3 170.40,296.3 170.65,296.3 170.90,296.3 171.15,296.3 171.40,296.3 171.65,296.3 171.90,296.2 172.15,296.2 172.40,296.2 172.65,296.2 172.90,296.2 173.15,296.1 173.40,296.1 173.65,296.2 173.90,296.2 174.15,296.2 174.40,296.2 174.65,296.2 174.90,296.2 175.15,296.2 175.40,296.3 175.65,296.2 175.90,296.2 176.15,296.3 176.40,296.3 176.65,296.3 176.90,296.4 177.15,296.3 177.40,296.3 177.65,296.3 177.90,296.2 178.15,296.2 178.40,296.2 178.65,296.2 178.90,296.2 179.15,296.2 179.40,296.2 179.65,296.3 179.90,296.3 180.15,296.2 180.40,296.2 180.65,296.2 180.90,296.2 181.15,296.2 181.40,296.3 181.65,296.3 181.90,296.3 182.15,296.2 182.40,296.2 182.65,296.2 182.90,296.2 183.15,296.1 183.40,296.1 183.65,296.1 183.90,296.1 184.15,296.1 184.40,296.1 184.65,296.1 184.90,296.1 185.15,296.0 185.40,296.0 185.65,296.0 185.90,295.9 186.15,295.9 186.40,295.9 186.65,295.9 186.90,295.8 187.15,295.8 187.40,295.7 187.65,295.5 187.90,295.4 188.15,295.2 188.40,295.0 188.65,294.7 188.90,294.4 189.15,293.8 189.40,293.0 189.65,291.8 189.90,290.2 190.15,288.3 190.40,286.6 190.60,286.0 190.65,286.1 190.90,287.2 191.15,289.1 191.40,290.9 191.65,292.3 191.90,293.3 192.15,293.9 192.40,294.4 192.65,294.8 192.90,295.0 193.15,295.3 193.40,295.4 193.65,295.5 193.90,295.5 194.15,295.6 194.40,295.7 194.65,295.7 194.90,295.8 195.15,295.8 195.40,295.8 195.65,295.9 195.90,296.0 196.15,296.0 196.40,296.0 196.65,296.0 196.90,296.1 197.15,296.1 197.40,296.2 197.65,296.2 197.90,296.1 198.15,296.2 198.40,296.2 198.65,296.2 198.90,296.2 199.15,296.2 199.40,296.2 199.65,296.2 199.90,296.2 200.15,296.3 200.40,296.3 200.65,296.3 200.90,296.3 201.15,296.3 201.40,296.3 201.65,296.3 201.90,296.2 202.15,296.2 202.40,296.2 202.65,296.2 202.90,296.1 203.15,296.0 203.40,296.0 203.65,295.9 203.90,295.9 204.15,295.9 204.40,295.9 204.65,295.8 204.90,295.8 205.15,295.8 205.40,295.8 205.65,295.6 205.90,295.6 206.15,295.4 206.40,295.4 206.65,295.2 206.90,294.9 207.15,294.5 207.40,294.0 207.65,293.3 207.90,292.4 208.15,291.0 208.40,289.2 208.65,287.2 208.90,285.8 209.00,285.7 209.15,285.9 209.40,287.6 209.65,289.5 209.90,291.3 210.15,292.6 210.40,293.5 210.65,294.2 210.90,294.6 211.15,294.9 211.40,295.2 211.65,295.4 211.90,295.5 212.15,295.7 212.40,295.8 212.65,295.9 212.90,295.9 213.15,296.0 213.40,296.0 213.65,296.0 213.90,296.0 214.15,296.0 214.40,296.0 214.65,296.0 214.90,296.0 215.15,296.1 215.40,296.1 215.65,296.1 215.90,296.1 216.15,296.1 216.40,296.2 216.65,296.2 216.90,296.2 217.15,296.2 217.40,296.2 217.65,296.2 217.90,296.3 218.15,296.2 218.40,296.2 218.65,296.2 218.90,296.2 219.15,296.2 219.40,296.2 219.65,296.2 219.90,296.2 220.15,296.1 220.40,296.1 220.65,296.0 220.90,296.0 221.15,296.0 221.40,296.1 221.65,296.1 221.90,296.2 222.15,296.2 222.40,296.2 222.65,296.1 222.90,296.1 223.15,296.1 223.40,296.1 223.65,296.1 223.90,296.1 224.15,296.1 224.40,296.1 224.65,296.1 224.90,296.0 225.15,296.0 225.40,296.0 225.65,296.0 225.90,296.0 226.15,295.9 226.40,295.9 226.65,295.9 226.90,295.9 227.15,295.8 227.40,295.8 227.65,295.7 227.90,295.7 228.15,295.5 228.40,295.4 228.65,295.3 228.90,295.0 229.15,294.8 229.40,294.4 229.65,293.9 229.90,293.1 230.15,292.1 230.40,290.7 230.65,289.2 230.90,288.0 231.00,287.9 231.15,288.2 231.40,289.4 231.65,291.0 231.90,292.2 232.15,293.1 232.40,293.7 232.65,294.1 232.90,294.3 233.15,294.4 233.40,294.4 233.65,294.2 233.90,293.9 234.15,293.5 234.40,293.1 234.60,293.0 234.65,292.9 234.90,293.2 235.15,293.9 235.40,294.5 235.65,294.9 235.90,295.2 236.15,295.5 236.40,295.6 236.65,295.8 236.90,295.8 237.15,295.9 237.40,296.0 237.65,296.0 237.90,296.0 238.15,296.0 238.40,296.1 238.65,296.1 238.90,296.1 239.15,296.0 239.40,296.0 239.65,296.0 239.90,296.0 240.15,296.0 240.40,296.0 240.65,296.1 240.90,296.1 241.15,296.2 241.40,296.2 241.65,296.2 241.90,296.1 242.15,296.1 242.40,296.1 242.65,296.1 242.90,296.1 243.15,296.1 243.40,296.1 243.65,296.0 243.90,296.1 244.15,296.1 244.40,296.0 244.65,296.0 244.90,296.0 245.15,296.0 245.40,296.0 245.65,296.0 245.90,296.0 246.15,295.9 246.40,295.8 246.65,295.7 246.90,295.6 247.15,295.5 247.40,295.2 247.65,295.0 247.90,294.6 248.15,294.0 248.40,293.3 248.65,292.5 248.90,291.9 249.00,291.9 249.15,292.0 249.40,292.7 249.65,293.4 249.90,294.2 250.15,294.6 250.40,295.0 250.65,295.2 250.90,295.4 251.15,295.5 251.40,295.6 251.65,295.7 251.90,295.7 252.15,295.8 252.40,295.7 252.65,295.7 252.90,295.7 253.15,295.7 253.40,295.6 253.65,295.6 253.90,295.6 254.15,295.5 254.40,295.5 254.65,295.4 254.90,295.3 255.15,295.3 255.40,295.1 255.65,294.9 255.90,294.8 256.15,294.6 256.40,294.3 256.65,294.1 256.90,293.7 257.15,293.1 257.40,292.5 257.65,291.6 257.90,290.4 258.15,288.8 258.40,286.6 258.65,284.1 258.90,282.2 259.00,282.0 259.15,282.1 259.40,283.4 259.65,284.9 259.90,286.0 260.15,286.3 260.40,285.7 260.65,284.3 260.90,281.8 261.15,278.0 261.40,272.8 261.65,266.8 261.90,262.5 262.00,262.0 262.15,262.9 262.40,267.4 262.65,272.9 262.90,277.3 263.15,280.0 263.40,281.4 263.65,282.3 263.80,283.0 263.90,283.6 264.15,285.5 264.40,287.5 264.65,289.3 264.90,290.5 265.15,291.5 265.40,292.1 265.65,292.5 265.90,292.8 266.15,292.8 266.40,292.8 266.65,292.6 266.90,292.1 267.15,291.3 267.40,290.3 267.65,289.1 267.90,288.2 268.00,288.2 268.15,288.4 268.40,289.6 268.65,291.0 268.90,292.2 269.15,293.1 269.40,293.7 269.65,294.2 269.90,294.5 270.15,294.8 270.40,295.0 270.65,295.1 270.90,295.2 271.15,295.3 271.40,295.4 271.65,295.5 271.90,295.5 272.15,295.6 272.40,295.7 272.65,295.7 272.90,295.8 273.15,295.8 273.40,295.9 273.65,295.9 273.90,295.9 274.15,295.9 274.40,296.0 274.65,296.0 274.90,296.0 275.15,296.0 275.40,296.0 275.65,296.1 275.90,296.1 276.15,296.1 276.40,296.1 276.65,296.2 276.90,296.1 277.15,296.2 277.40,296.1 277.65,296.2 277.90,296.2 278.15,296.1 278.40,296.1 278.65,296.1 278.90,296.2 279.15,296.2 279.40,296.1 279.65,296.1 279.90,296.1 280.15,296.1 280.40,296.1 280.65,296.1 280.90,296.1 281.15,296.1 281.40,296.1 281.65,296.1 281.90,296.1 282.15,296.1 282.40,296.1 282.65,296.1 282.90,296.1 283.15,296.1 283.40,296.1 283.65,296.0 283.90,296.0 284.15,296.0 284.40,296.0 284.65,295.9 284.90,295.9 285.15,295.8 285.40,295.7 285.65,295.5 285.90,295.3 286.15,295.0 286.40,294.5 286.65,294.0 286.90,293.7 287.00,293.7 287.15,293.7 287.40,294.1 287.65,294.6 287.90,295.0 288.15,295.3 288.40,295.5 288.65,295.7 288.90,295.8 289.15,295.9 289.40,295.9 289.65,295.9 289.90,295.9 290.15,295.9 290.40,295.9 290.65,295.9 290.90,295.8 291.15,295.8 291.40,295.6 291.65,295.6 291.90,295.4 292.15,295.2 292.40,294.9 292.65,294.5 292.90,293.9 293.15,293.1 293.40,292.1 293.65,290.9 293.90,290.1 294.00,290.0 294.15,290.2 294.40,291.1 294.65,292.3 294.90,293.4 295.15,294.2 295.40,294.6 295.65,295.0 295.90,295.3 296.15,295.5 296.40,295.7 296.65,295.8 296.90,295.9 297.15,295.9 297.40,296.0 297.65,296.0 297.90,296.0 298.15,296.1 298.40,296.1 298.65,296.0 298.90,296.1 299.15,296.0 299.40,296.0 299.65,296.0 299.90,296.0 300.15,296.1 300.40,296.1 300.65,296.0 300.90,296.0 301.15,296.0 301.40,296.0 301.65,295.9 301.90,296.0 302.15,295.9 302.40,295.8 302.65,295.8 302.90,295.6 303.15,295.4 303.40,295.1 303.65,294.7 303.90,294.2 304.15,293.7 304.40,293.5 304.65,293.7 304.90,294.1 305.15,294.4 305.40,294.7 305.65,294.8 305.90,294.9 306.15,294.9 306.40,294.7 306.65,294.5 306.90,294.1 307.15,293.5 307.40,292.6 307.65,291.7 307.90,291.1 308.00,291.0 308.15,291.1 308.40,291.9 308.65,292.9 308.90,293.7 309.15,294.4 309.40,294.8 309.65,295.2 309.90,295.4 310.15,295.6 310.40,295.7 310.65,295.9 310.90,295.9 311.15,296.0 311.40,296.1 311.65,296.1 311.90,296.1 312.15,296.0 312.40,296.0 312.65,296.0 312.90,296.0 313.15,296.0 313.40,296.0 313.65,295.9 313.90,295.9 314.15,295.9 314.40,295.9 314.65,295.8 314.90,295.7 315.15,295.8 315.40,295.8 315.65,295.8 315.90,295.7 316.15,295.6 316.40,295.5 316.65,295.4 316.90,295.3 317.15,295.2 317.40,295.1 317.65,294.9 317.90,294.7 318.15,294.4 318.40,294.1 318.65,293.6 318.90,292.9 319.15,292.1 319.40,291.0 319.65,289.5 319.90,287.3 320.15,284.2 320.40,280.1 320.65,275.5 320.90,272.3 321.00,272.0 321.15,272.7 321.40,276.4 321.65,281.0 321.90,284.9 322.15,287.8 322.40,289.9 322.65,291.3 322.90,292.3 323.15,293.1 323.40,293.7 323.65,294.1 323.90,294.5 324.15,294.7 324.40,295.0 324.65,295.1 324.90,295.3 325.15,295.4 325.40,295.5 325.65,295.6 325.90,295.7 326.15,295.8 326.40,295.8 326.65,295.9 326.90,295.9 327.15,296.0 327.40,296.0 327.65,296.1 327.90,296.1 328.15,296.1 328.40,296.1 328.65,296.1 328.90,296.1 329.15,296.1 329.40,296.1 329.65,296.1 329.90,296.1 330.15,296.2 330.40,296.2 330.65,296.2 330.90,296.2 331.15,296.2 331.40,296.2 331.65,296.3 331.90,296.3 332.15,296.2 332.40,296.2 332.65,296.2 332.90,296.2 333.15,296.3 333.40,296.3 333.65,296.3 333.90,296.3 334.15,296.3 334.40,296.3 334.65,296.3 334.90,296.3 335.15,296.3 335.40,296.3 335.65,296.3 335.90,296.3 336.15,296.3 336.40,296.3 336.65,296.2 336.90,296.2 337.15,296.2 337.40,296.1 337.65,296.2 337.90,296.1 338.15,296.1 338.40,296.1 338.65,296.1 338.90,296.1 339.15,296.2 339.40,296.2 339.65,296.2 339.90,296.2 340.15,296.3 340.40,296.2 340.65,296.3 340.90,296.3 341.15,296.2 341.40,296.3 341.65,296.3 341.90,296.3 342.15,296.3 342.40,296.3 342.65,296.2 342.90,296.2 343.15,296.2 343.40,296.2 343.65,296.2 343.90,296.3 344.15,296.2 344.40,296.2 344.65,296.2 344.90,296.1 345.15,296.0 345.40,296.0 345.65,295.9 345.90,295.7 346.15,295.4 346.40,295.0 346.65,294.6 346.90,294.2 347.00,294.2 347.15,294.2 347.40,294.6 347.65,295.0 347.90,295.5 348.15,295.7 348.40,295.9 348.65,296.1 348.90,296.1 349.15,296.2 349.40,296.2 349.65,296.2 349.90,296.2 350.15,296.3 350.40,296.3 350.65,296.3 350.90,296.2 351.15,296.3 351.40,296.3 351.65,296.4 351.90,296.4 352.15,296.3 352.40,296.3 352.65,296.3 352.90,296.4 353.15,296.3 353.40,296.4 353.65,296.4 353.90,296.4 354.15,296.4 354.40,296.5 354.65,296.4 354.90,296.4 355.15,296.4 355.40,296.4 355.65,296.5 355.90,296.4 356.15,296.5 356.40,296.5 356.65,296.5 356.90,296.5 357.15,296.5 357.40,296.4 357.65,296.4 357.90,296.4 358.15,296.4 358.40,296.4 358.65,296.4 358.90,296.4 359.15,296.3 359.40,296.4 359.65,296.4 359.90,296.4 360.15,296.4 360.40,296.4 360.65,296.5 360.90,296.5 361.15,296.5 361.40,296.5 361.65,296.5 361.90,296.5 362.15,296.5 362.40,296.6 362.65,296.5 362.90,296.6 363.15,296.5 363.40,296.5 363.65,296.5 363.90,296.4 364.15,296.4 364.40,296.4 364.65,296.5 364.90,296.5 365.15,296.4 365.40,296.4 365.65,296.4 365.90,296.4 366.15,296.5 366.40,296.5 366.65,296.4 366.90,296.5 367.15,296.5 367.40,296.6 367.65,296.6 367.90,296.6 368.15,296.6 368.40,296.6 368.65,296.6 368.90,296.6 369.15,296.6 369.40,296.6 369.65,296.6 369.90,296.6 370.15,296.6 370.40,296.6 370.65,296.6 370.90,296.5 371.15,296.6 371.40,296.5 371.65,296.5 371.90,296.4 372.15,296.5 372.40,296.5 372.65,296.5 372.90,296.5 373.15,296.4 373.40,296.4 373.65,296.4 373.90,296.4 374.15,296.4 374.40,296.4 374.65,296.4 374.90,296.5 375.15,296.5 375.40,296.5 375.65,296.5 375.90,296.5 376.15,296.5 376.40,296.5 376.65,296.5 376.90,296.5 377.15,296.5 377.40,296.5 377.65,296.5 377.90,296.6 378.15,296.5 378.40,296.5 378.65,296.5 378.90,296.5 379.15,296.5 379.40,296.4 379.65,296.4 379.90,296.5 380.15,296.5 380.40,296.5 380.65,296.5 380.90,296.5 381.15,296.4 381.40,296.4 381.65,296.4 381.90,296.4 382.15,296.4 382.40,296.5 382.65,296.5 382.90,296.5 383.15,296.4 383.40,296.4 383.65,296.4 383.90,296.4 384.15,296.4 384.40,296.4 384.65,296.4 384.90,296.3 385.15,296.4 385.40,296.3 385.65,296.3 385.90,296.2 386.15,296.1 386.40,296.1 386.65,296.1 386.90,296.0 387.15,295.9 387.40,295.9 387.65,295.8 387.90,295.6 388.15,295.4 388.40,295.2 388.65,294.7 388.90,294.2 389.15,293.8 389.40,293.6 389.65,293.8 389.90,294.3 390.15,294.7 390.40,295.1 390.65,295.3 390.90,295.5 391.15,295.6 391.40,295.7 391.65,295.6 391.90,295.7 392.15,295.6 392.40,295.4 392.65,295.1 392.90,295.0 393.00,294.9 393.15,295.0 393.40,295.3 393.65,295.6 393.90,295.8 394.15,296.0 394.40,296.0 394.65,296.0 394.90,296.1 395.15,296.1 395.40,296.1 395.65,296.2 395.90,296.2 396.15,296.3 396.40,296.3 396.65,296.3 396.90,296.3 397.15,296.3 397.40,296.3 397.65,296.4 397.90,296.4 398.15,296.4 398.40,296.4 398.65,296.4 398.90,296.4 399.15,296.3 399.40,296.3 399.65,296.3 399.90,296.2 400.15,296.2 400.40,296.2 400.65,296.2 400.90,296.1 401.15,296.0 401.40,295.9 401.65,295.9 401.90,295.7 402.15,295.5 402.40,295.3 402.65,294.9 402.90,294.4 403.15,293.8 403.40,292.9 403.65,291.8 403.90,291.1 404.00,291.0 404.15,291.2 404.40,292.0 404.65,293.0 404.90,293.8 405.15,294.5 405.40,295.0 405.65,295.4 405.90,295.6 406.15,295.8 406.40,295.9 406.65,295.9 406.90,296.0 407.15,296.0 407.40,296.2 407.65,296.2 407.90,296.2 408.15,296.3 408.40,296.3 408.65,296.3 408.90,296.3 409.15,296.2 409.40,296.2 409.65,296.1 409.90,296.2 410.15,296.2 410.40,296.3 410.65,296.3 410.90,296.3 411.15,296.3 411.40,296.3 411.65,296.3 411.90,296.3 412.15,296.4 412.40,296.4 412.65,296.4 412.90,296.4 413.15,296.4 413.40,296.4 413.65,296.4 413.90,296.4 414.15,296.4 414.40,296.4 414.65,296.5 414.90,296.5 415.15,296.5 415.40,296.4 415.65,296.4 415.90,296.4 416.15,296.4 416.40,296.4 416.65,296.4 416.90,296.4 417.15,296.4 417.40,296.4 417.65,296.4 417.90,296.4 418.15,296.4 418.40,296.4 418.65,296.4 418.90,296.4 419.15,296.4 419.40,296.4 419.65,296.4 419.90,296.4 420.15,296.4 420.40,296.4 420.65,296.4 420.90,296.4 421.15,296.4 421.40,296.4 421.65,296.4 421.90,296.4 422.15,296.3 422.40,296.3 422.65,296.3 422.90,296.4 423.15,296.3 423.40,296.4 423.65,296.3 423.90,296.4 424.15,296.4 424.40,296.4 424.65,296.4 424.90,296.4 425.15,296.4 425.40,296.4 425.65,296.4 425.90,296.5 426.15,296.5 426.40,296.4 426.65,296.5 426.90,296.5 427.15,296.5 427.40,296.5 427.65,296.5 427.90,296.4 428.15,296.4 428.40,296.4 428.65,296.4 428.90,296.3 429.15,296.3 429.40,296.3 429.65,296.3 429.90,296.3 430.15,296.3 430.40,296.3 430.65,296.3 430.90,296.3 431.15,296.3 431.40,296.3 431.65,296.3 431.90,296.3 432.15,296.4 432.40,296.4 432.65,296.4 432.90,296.5 433.15,296.5 433.40,296.5 433.65,296.5 433.90,296.6 434.15,296.6 434.40,296.5 434.65,296.6 434.90,296.5 435.15,296.6 435.40,296.5 435.65,296.5 435.90,296.5 436.15,296.5 436.40,296.5 436.65,296.5 436.90,296.5 437.15,296.5 437.40,296.4 437.65,296.4 437.90,296.4 438.15,296.4 438.40,296.5 438.65,296.5 438.90,296.5 439.15,296.5 439.40,296.5 439.65,296.5 439.90,296.5 440.15,296.5 440.40,296.5 440.65,296.5 440.90,296.5 441.15,296.5 441.40,296.5 441.65,296.5 441.90,296.4 442.15,296.4 442.40,296.4 442.65,296.5 442.90,296.5 443.15,296.5 443.40,296.5 443.65,296.5 443.90,296.4 444.15,296.4 444.40,296.4 444.65,296.5 444.90,296.5 445.15,296.5 445.40,296.6 445.65,296.5 445.90,296.5 446.15,296.5 446.40,296.5 446.65,296.5 446.90,296.5 447.15,296.5 447.40,296.6 447.65,296.6 447.90,296.6 448.15,296.6 448.40,296.5 448.65,296.5 448.90,296.5 449.15,296.5 449.40,296.5 449.65,296.5 449.90,296.5 450.15,296.4 450.40,296.5 450.65,296.4 450.90,296.4 451.15,296.4 451.40,296.3 451.65,296.4 451.90,296.4 452.15,296.4 452.40,296.4 452.65,296.3 452.90,296.3 453.15,296.3 453.40,296.2 453.65,296.2 453.90,296.1 454.15,296.0 454.40,296.0 454.65,295.8 454.90,295.7 455.15,295.3 455.40,295.0 455.65,294.5 455.90,294.2 456.00,294.2 456.15,294.3 456.40,294.6 456.65,295.1 456.90,295.5 457.15,295.7 457.40,296.0 457.65,296.1 457.90,296.2 458.15,296.3 458.40,296.4 458.65,296.4 458.90,296.4 459.15,296.5 459.40,296.5 459.65,296.5 459.90,296.5 460.15,296.5 460.40,296.5 460.65,296.5 460.90,296.5 461.15,296.6 461.40,296.5 461.65,296.5 461.90,296.5 462.15,296.4 462.40,296.5 462.65,296.5 462.90,296.5 463.15,296.5 463.40,296.5 463.65,296.5 463.90,296.5 464.15,296.5 464.40,296.5 464.65,296.5 464.90,296.5 465.15,296.5 465.40,296.6 465.65,296.6 465.90,296.6 466.15,296.6 466.40,296.6 466.65,296.5 466.90,296.6 467.15,296.6 467.40,296.6 467.65,296.6 467.90,296.6 468.15,296.6 468.40,296.6 468.65,296.6 468.90,296.6 469.15,296.6 469.40,296.6 469.65,296.6 469.90,296.6 470.15,296.6 470.40,296.5 470.65,296.5 470.90,296.5 471.15,296.5 471.40,296.5 471.65,296.5 471.90,296.5 472.15,296.5 472.40,296.5 472.65,296.5 472.90,296.5 473.15,296.4 473.40,296.4 473.65,296.5 473.90,296.6 474.15,296.6 474.40,296.6 474.65,296.6 474.90,296.6 475.15,296.6 475.40,296.5 475.65,296.5 475.90,296.5 476.15,296.5 476.40,296.5 476.65,296.5 476.90,296.5 477.15,296.5 477.40,296.6 477.65,296.5 477.90,296.5 478.15,296.5 478.40,296.5 478.65,296.5 478.90,296.4 479.15,296.4 479.40,296.3 479.65,296.3 479.90,296.1 480.15,295.9 480.40,295.6 480.65,295.3 480.90,295.1 481.00,295.0 481.15,295.1 481.40,295.4 481.65,295.6 481.90,295.8 482.15,296.0 482.40,296.1 482.65,296.2 482.90,296.2 483.15,296.3 483.40,296.2 483.65,296.2 483.90,296.1 484.15,296.0 484.40,295.8 484.65,295.5 484.90,295.2 485.15,294.8 485.40,294.4 485.60,294.3 485.65,294.3 485.90,294.5 486.15,295.0 486.40,295.4 486.65,295.7 486.90,296.0 487.15,296.1 487.40,296.2 487.65,296.3 487.90,296.4 488.15,296.4 488.40,296.4 488.65,296.4 488.90,296.5 489.15,296.5 489.40,296.5 489.65,296.4 489.90,296.5 490.15,296.5 490.40,296.5 490.65,296.5 490.90,296.6 491.15,296.6 491.40,296.6 491.65,296.5 491.90,296.5 492.15,296.5 492.40,296.4 492.65,296.4 492.90,296.4 493.15,296.5 493.40,296.4 493.65,296.4 493.90,296.4 494.15,296.4 494.40,296.4 494.65,296.4 494.90,296.4 495.15,296.4 495.40,296.4 495.65,296.4 495.90,296.4 496.15,296.4 496.40,296.4 496.65,296.3 496.90,296.3 497.15,296.3 497.40,296.2 497.65,296.2 497.90,296.1 498.15,296.0 498.40,296.0 498.65,295.8 498.90,295.6 499.15,295.3 499.40,295.1 499.60,295.0 499.65,295.0 499.90,295.2 500.15,295.5 500.40,295.8 500.65,296.1 500.90,296.2 501.15,296.3 501.40,296.4 501.65,296.4 501.90,296.4 502.15,296.5 502.40,296.5 502.65,296.6 502.90,296.5 503.15,296.5 503.40,296.5 503.65,296.5 503.90,296.6 504.15,296.5 504.40,296.5 504.65,296.6 504.90,296.6 505.15,296.6 505.40,296.6 505.65,296.6 505.90,296.6 506.15,296.6 506.40,296.7 506.65,296.7 506.90,296.7 507.15,296.7 507.40,296.7 507.65,296.7 507.90,296.7 508.15,296.6 508.40,296.6 508.65,296.6 508.90,296.6 509.15,296.6 509.40,296.5 509.65,296.5 509.90,296.5 510.15,296.5 510.40,296.5 510.65,296.5 510.90,296.4 511.15,296.4 511.40,296.5 511.65,296.5 511.90,296.5 512.15,296.5 512.40,296.6 512.65,296.6 512.90,296.6 513.15,296.6 513.40,296.7 513.65,296.7 513.90,296.6 514.15,296.6 514.40,296.6 514.65,296.6 514.90,296.6 515.15,296.5 515.40,296.5 515.65,296.4 515.90,296.4 516.15,296.3 516.40,296.4 516.65,296.3 516.90,296.4 517.15,296.4 517.40,296.4 517.65,296.4 517.90,296.4 518.15,296.5 518.40,296.5 518.65,296.5 518.90,296.5 519.15,296.6 519.40,296.5 519.65,296.5 519.90,296.5 520.15,296.4 520.40,296.4 520.65,296.3 520.90,296.4 521.15,296.4 521.40,296.3 521.65,296.3 521.90,296.3 522.15,296.3 522.40,296.2 522.65,296.1 522.90,296.1 523.15,296.1 523.40,296.0 523.65,295.9 523.90,295.6 524.15,295.4 524.40,294.9 524.65,294.4 524.90,294.1 525.00,294.1 525.15,294.2 525.40,294.5 525.65,295.1 525.90,295.5 526.15,295.8 526.40,295.9 526.65,296.0 526.90,296.1 527.15,296.1 527.40,296.1 527.65,296.1 527.90,296.0 528.15,295.9 528.40,295.8 528.65,295.6 528.90,295.4 529.15,295.0 529.40,294.6 529.65,294.2 529.90,293.8 530.00,293.8 530.15,294.0 530.40,294.3 530.65,294.8 530.90,295.2 531.15,295.5 531.40,295.7 531.65,295.9 531.90,296.0 532.15,296.1 532.40,296.2 532.65,296.3 532.90,296.3 533.15,296.4 533.40,296.4 533.65,296.4 533.90,296.5 534.15,296.5 534.40,296.6 534.65,296.6 534.90,296.6 535.15,296.6 535.40,296.6 535.65,296.6 535.90,296.6 536.15,296.6 536.40,296.6 536.65,296.6 536.90,296.6"/>
<polyline stroke="#00ffff" points="45.90,241.0 46.15,240.9 46.40,240.9 46.65,240.9 46.90,240.9 47.15,240.9 47.40,240.9 47.65,241.0 47.90,240.9 48.15,240.9 48.40,240.9 48.65,240.9 48.90,240.9 49.15,240.9 49.40,240.9 49.65,240.9 49.90,240.9 50.15,240.9 50.40,240.9 50.65,240.9 50.90,240.9 51.15,240.9 51.40,240.8 51.65,240.8 51.90,240.9 52.15,240.9 52.40,240.9 52.65,240.9 52.90,240.9 53.15,240.9 53.40,240.8 53.65,240.8 53.90,240.8 54.15,240.8 54.40,240.8 54.65,240.8 54.90,240.8 55.15,240.8 55.40,240.7 55.65,240.7 55.90,240.7 56.15,240.7 56.40,240.7 56.65,240.7 56.90,240.7 57.15,240.8 57.40,240.8 57.65,240.8 57.90,240.9 58.15,240.8 58.40,240.9 58.65,240.9 58.90,240.9 59.15,240.8 59.40,240.9 59.65,240.9 59.90,240.9 60.15,241.0 60.40,241.0 60.65,240.9 60.90,240.9 61.15,240.9 61.40,240.8 61.65,240.9 61.90,240.9 62.15,240.9 62.40,240.9 62.65,241.0 62.90,241.0 63.15,241.0 63.40,241.0 63.65,241.0 63.90,240.9 64.15,241.0 64.40,240.9 64.65,240.9 64.90,240.9 65.15,240.9 65.40,240.9 65.65,240.9 65.90,240.9 66.15,240.8 66.40,240.8 66.65,240.7 66.90,240.7 67.15,240.7 67.40,240.7 67.65,240.6 67.90,240.7 68.15,240.6 68.40,240.6 68.65,240.6 68.90,240.6 69.15,240.6 69.40,240.7 69.65,240.6 69.90,240.7 70.15,240.7 70.40,240.8 70.65,240.8 70.90,240.8 71.15,240.7 71.40,240.8 71.65,240.8 71.90,240.7 72.15,240.7 72.40,240.7 72.65,240.7 72.90,240.6 73.15,240.7 73.40,240.7 73.65,240.7 73.90,240.6 74.15,240.6 74.40,240.6 74.65,240.6 74.90,240.6 75.15,240.5 75.40,240.5 75.65,240.5 75.90,240.5 76.15,240.5 76.40,240.4 76.65,240.4 76.90,240.3 77.15,240.3 77.40,240.3 77.65,240.3 77.90,240.2 78.15,240.2 78.40,240.1 78.65,240.1 78.90,240.1 79.15,240.0 79.40,239.9 79.65,239.8 79.90,239.7 80.15,239.6 80.40,239.5 80.65,239.3 80.90,239.1 81.15,238.9 81.40,238.7 81.65,238.4 81.90,238.0 82.15,237.6 82.40,237.0 82.65,236.3 82.90,235.4 83.15,234.3 83.40,232.8 83.65,230.8 83.90,228.2 84.15,225.1 84.40,221.4 84.65,217.9 84.90,215.8 85.00,215.5 85.15,216.1 85.40,218.5 85.65,222.1 85.90,225.7 86.15,228.7 86.40,231.1 86.65,233.0 86.90,234.5 87.15,235.5 87.40,236.4 87.65,237.0 87.90,237.5 88.15,237.9 88.40,238.3 88.65,238.6 88.90,238.8 89.15,239.1 89.40,239.2 89.65,239.4 89.90,239.5 90.15,239.5 90.40,239.6 90.65,239.7 90.90,239.8 91.15,239.8 91.40,239.9 91.65,240.0 91.90,240.0 92.15,240.0 92.40,240.0 92.65,240.0 92.90,240.0 93.15,240.1 93.40,240.1 93.65,240.2 93.90,240.2 94.15,240.2 94.40,240.2 94.65,240.2 94.90,240.3 95.15,240.3 95.40,240.4 95.65,240.4 95.90,240.4 96.15,240.4 96.40,240.4 96.65,240.3 96.90,240.3 97.15,240.3 97.40,240.4 97.65,240.3 97.90,240.3 98.15,240.3 98.40,240.3 98.65,240.3 98.90,240.2 99.15,240.1 99.40,240.1 99.65,240.0 99.90,240.0 100.15,240.0 100.40,239.9 100.65,239.8 100.90,239.6 101.15,239.6 101.40,239.5 101.65,239.3 101.90,239.2 102.15,239.0 102.40,238.9 102.65,238.7 102.90,238.5 103.15,238.2 103.40,237.8 103.65,237.3 103.90,236.7 104.15,236.1 104.40,235.2 104.65,234.1 104.90,232.7 105.15,230.8 105.40,228.4 105.65,225.2 105.90,221.3 106.15,216.8 106.40,212.9 106.65,210.9 106.70,210.8 106.90,211.8 107.15,215.1 107.40,219.5 107.65,223.6 107.90,227.1 108.15,229.8 108.40,231.9 108.65,233.5 108.90,234.8 109.15,235.7 109.40,236.4 109.65,237.1 109.90,237.5 110.15,238.0 110.40,238.3 110.65,238.6 110.90,238.9 111.15,239.1 111.40,239.3 111.65,239.4 111.90,239.5 112.15,239.6 112.40,239.7 112.65,239.8 112.90,239.9 113.15,239.9 113.40,239.9 113.65,239.9 113.90,240.0 114.15,240.1 114.40,240.1 114.65,240.1 114.90,240.2 115.15,240.3 115.40,240.3 115.65,240.3 115.90,240.3 116.15,240.4 116.40,240.4 116.65,240.4 116.90,240.4 117.15,240.4 117.40,240.4 117.65,240.4 117.90,240.4 118.15,240.4 118.40,240.4 118.65,240.4 118.90,240.3 119.15,240.3 119.40,240.3 119.65,240.3 119.90,240.3 120.15,240.3 120.40,240.3 120.65,240.3 120.90,240.3 121.15,240.4 121.40,240.4 121.65,240.4 121.90,240.4 122.15,240.3 122.40,240.4 122.65,240.3 122.90,240.4 123.15,240.3 123.40,240.3 123.65,240.3 123.90,240.3 124.15,240.3 124.40,240.3 124.65,240.3 124.90,240.3 125.15,240.2 125.40,240.2 125.65,240.2 125.90,240.2 126.15,240.2 126.40,240.2 126.65,240.2 126.90,240.2 127.15,240.3 127.40,240.2 127.65,240.1 127.90,240.0 128.15,240.0 128.40,240.0 128.65,239.9 128.90,239.9 129.15,239.7 129.40,239.7 129.65,239.6 129.90,239.5 130.15,239.4 130.40,239.3 130.65,239.0 130.90,238.8 131.15,238.6 131.40,238.3 131.65,238.0 131.90,237.5 132.15,237.0 132.40,236.3 132.65,235.4 132.90,234.2 133.15,232.5 133.40,230.5 133.65,228.1 133.90,225.4 134.15,223.3 134.40,222.4 134.65,223.2 134.90,225.5 135.15,228.1 135.40,230.6 135.65,232.5 135.90,234.1 136.15,235.3 136.40,236.3 136.65,237.0 136.90,237.6 137.15,238.0 137.40,238.4 137.65,238.6 137.90,238.9 138.15,239.1 138.40,239.2 138.65,239.3 138.90,239.3 139.15,239.4 139.40,239.4 139.65,239.5 139.90,239.5 140.15,239.4 140.40,239.4 140.65,239.4 140.90,239.4 141.15,239.3 141.40,239.3 141.65,239.1 141.90,238.9 142.15,238.8 142.40,238.6 142.65,238.4 142.90,238.3 143.00,238.3 143.15,238.4 143.40,238.5 143.65,238.7 143.90,238.9 144.15,239.1 144.40,239.2 144.65,239.2 144.90,239.3 145.15,239.4 145.40,239.3 145.65,239.2 145.90,239.1 146.15,238.9 146.40,238.7 146.65,238.5 146.90,238.3 147.15,238.0 147.40,237.6 147.65,237.0 147.90,236.4 148.15,235.5 148.40,234.3 148.65,232.8 148.90,230.8 149.15,228.3 149.40,225.5 149.65,222.8 149.90,221.2 150.00,221.0 150.15,221.3 150.40,223.3 150.65,226.0 150.90,228.8 151.15,231.2 151.40,233.1 151.65,234.5 151.90,235.6 152.15,236.5 152.40,237.1 152.65,237.6 152.90,238.1 153.15,238.5 153.40,238.8 153.65,239.0 153.90,239.2 154.15,239.4 154.40,239.5 154.65,239.6 154.90,239.7 155.15,239.8 155.40,239.9 155.65,240.0 155.90,240.1 156.15,240.1 156.40,240.2 156.65,240.2 156.90,240.2 157.15,240.3 157.40,240.2 157.65,240.2 157.90,240.3 158.15,240.2 158.40,240.3 158.65,240.3 158.90,240.3 159.15,240.3 159.40,240.3 159.65,240.3 159.90,240.3 160.15,240.3 160.40,240.3 160.65,240.3 160.90,240.3 161.15,240.3 161.40,240.3 161.65,240.4 161.90,240.4 162.15,240.4 162.40,240.4 162.65,240.4 162.90,240.4 163.15,240.4 163.40,240.4 163.65,240.4 163.90,240.4 164.15,240.4 164.40,240.4 164.65,240.4 164.90,240.5 165.15,240.5 165.40,240.5 165.65,240.5 165.90,240.5 166.15,240.5 166.40,240.5 166.65,240.5 166.90,240.5 167.15,240.6 167.40,240.5 167.65,240.5 167.90,240.5 168.15,240.5 168.40,240.6 168.65,240.5 168.90,240.6 169.15,240.5 169.40,240.5 169.65,240.6 169.90,240.5 170.15,240.5 170.40,240.6 170.65,240.5 170.90,240.5 171.15,240.5 171.40,240.4 171.65,240.5 171.90,240.5 172.15,240.5 172.40,240.5 172.65,240.5 172.90,240.4 173.15,240.4 173.40,240.4 173.65,240.4 173.90,240.4 174.15,240.4 174.40,240.3 174.65,240.3 174.90,240.3 175.15,240.4 175.40,240.4 175.65,240.3 175.90,240.3 176.15,240.3 176.40,240.3 176.65,240.3 176.90,240.2 177.15,240.1 177.40,240.1 177.65,240.0 177.90,239.9 178.15,239.7 178.40,239.5 178.65,239.2 178.90,239.1 179.00,239.1 179.15,239.1 179.40,239.2 179.65,239.4 179.90,239.6 180.15,239.7 180.40,239.8 180.65,239.9 180.90,239.8 181.15,239.8 181.40,239.8 181.65,239.8 181.90,239.7 182.15,239.6 182.40,239.4 182.65,239.3 182.90,239.1 183.15,238.7 183.40,238.4 183.65,237.9 183.90,237.4 184.15,236.9 184.40,236.4 184.60,236.3 184.65,236.3 184.90,236.6 185.15,237.2 185.40,237.8 185.65,238.3 185.90,238.8 186.15,239.1 186.40,239.5 186.65,239.6 186.90,239.7 187.15,239.9 187.40,240.0 187.65,240.0 187.90,240.1 188.15,240.1 188.40,240.1 188.65,240.2 188.90,240.2 189.15,240.2 189.40,240.2 189.65,240.2 189.90,240.2 190.15,240.3 190.40,240.3 190.65,240.3 190.90,240.3 191.15,240.3 191.40,240.3 191.65,240.2 191.90,240.2 192.15,240.2 192.40,240.1 192.65,240.0 192.90,239.9 193.15,239.8 193.40,239.5 193.65,239.2 193.90,238.8 194.15,238.4 194.40,238.2 194.60,238.1 194.65,238.1 194.90,238.3 195.15,238.6 195.40,238.9 195.65,239.2 195.90,239.4 196.15,239.6 196.40,239.7 196.65,239.9 196.90,239.9 197.15,240.1 197.40,240.1 197.65,240.1 197.90,240.2 198.15,240.2 198.40,240.2 198.65,240.2 198.90,240.2 199.15,240.2 199.40,240.2 199.65,240.1 199.90,240.1 200.15,240.0 200.40,240.0 200.65,239.9 200.90,239.8 201.15,239.7 201.40,239.7 201.65,239.7 201.90,239.6 202.15,239.5 202.40,239.3 202.65,239.2 202.90,239.1 203.15,238.9 203.40,238.7 203.65,238.4 203.90,238.1 204.15,237.7 204.40,237.3 204.65,236.7 204.90,235.9 205.15,234.9 205.40,233.7 205.65,232.1 205.90,230.0 206.15,227.4 206.40,224.4 206.65,221.5 206.90,219.8 207.00,219.6 207.15,220.0 207.40,222.1 207.65,225.1 207.90,228.0 208.15,230.6 208.40,232.6 208.65,234.1 208.90,235.3 209.15,236.2 209.40,236.8 209.65,237.4 209.90,237.8 210.15,238.2 210.40,238.5 210.65,238.8 210.90,239.0 211.15,239.2 211.40,239.3 211.65,239.4 211.90,239.5 212.15,239.6 212.40,239.6 212.65,239.6 212.90,239.7 213.15,239.7 213.40,239.7 213.65,239.7 213.90,239.8 214.15,239.7 214.40,239.7 214.65,239.6 214.90,239.6 215.15,239.6 215.40,239.7 215.65,239.6 215.90,239.5 216.15,239.6 216.40,239.6 216.65,239.6 216.90,239.5 217.15,239.5 217.40,239.4 217.65,239.3 217.90,239.2 218.15,239.2 218.40,239.2 218.65,239.0 218.90,239.0 219.15,238.9 219.40,238.8 219.65,238.6 219.90,238.4 220.15,238.3 220.40,238.0 220.65,237.7 220.90,237.3 221.15,236.9 221.40,236.3 221.65,235.6 221.90,234.7 222.15,233.4 222.40,231.9 222.65,229.9 222.90,227.6 223.15,225.1 223.40,223.0 223.60,222.0 223.65,221.9 223.90,222.1 224.15,223.0 224.40,223.8 224.65,224.0 224.90,223.3 225.15,221.7 225.40,219.5 225.65,217.2 225.90,215.9 226.00,215.9 226.15,216.5 226.40,218.9 226.65,222.2 226.90,225.4 227.15,228.2 227.40,230.4 227.65,231.9 227.90,233.1 228.15,234.1 228.40,234.7 228.65,235.2 228.90,235.5 229.15,235.6 229.40,235.6 229.65,235.4 229.90,235.0 230.15,234.5 230.40,233.6 230.65,232.5 230.90,231.3 231.15,230.4 231.40,230.0 231.65,230.4 231.90,231.5 232.15,232.7 232.40,233.7 232.65,234.6 232.90,235.2 233.15,235.6 233.40,235.8 233.65,235.9 233.90,235.8 234.15,235.6 234.40,235.1 234.65,234.5 234.90,233.7 235.15,232.5 235.40,230.9 235.65,228.8 235.90,226.3 236.15,223.6 236.40,221.5 236.60,221.0 236.65,221.0 236.90,222.4 237.15,224.9 237.40,227.7 237.65,230.1 237.90,232.1 238.15,233.7 238.40,234.9 238.65,235.8 238.90,236.5 239.15,237.0 239.40,237.4 239.65,237.8 239.90,238.0 240.15,238.2 240.40,238.2 240.65,238.2 240.90,238.2 241.15,238.1 241.40,238.1 241.60,238.2 241.65,238.1 241.90,238.3 242.15,238.4 242.40,238.7 242.65,238.9 242.90,239.0 243.15,239.2 243.40,239.2 243.65,239.3 243.90,239.4 244.15,239.4 244.40,239.5 244.65,239.5 244.90,239.5 245.15,239.5 245.40,239.5 245.65,239.6 245.90,239.5 246.15,239.4 246.40,239.4 246.65,239.4 246.90,239.3 247.15,239.2 247.40,239.1 247.65,239.0 247.90,238.9 248.15,238.7 248.40,238.5 248.65,238.3 248.90,238.0 249.15,237.6 249.40,237.2 249.65,236.5 249.90,235.6 250.15,234.5 250.40,233.2 250.65,231.7 250.90,230.3 251.15,229.6 251.20,229.6 251.40,229.9 251.65,231.1 251.90,232.6 252.15,234.0 252.40,235.2 252.65,236.1 252.90,236.8 253.15,237.3 253.40,237.8 253.65,238.0 253.90,238.2 254.15,238.4 254.40,238.5 254.65,238.6 254.90,238.6 255.15,238.6 255.40,238.5 255.65,238.5 255.90,238.5 256.15,238.4 256.40,238.4 256.65,238.2 256.90,238.1 257.15,238.0 257.40,237.7 257.65,237.4 257.90,237.1 258.15,236.7 258.40,236.2 258.65,235.6 258.90,234.8 259.15,233.8 259.40,232.4 259.65,230.7 259.90,228.8 260.15,226.9 260.40,225.3 260.50,225.0 260.65,224.7 260.90,224.6 261.15,224.6 261.40,224.1 261.65,222.9 261.90,220.7 262.15,217.5 262.40,213.7 262.65,209.9 262.90,207.4 263.00,207.1 263.15,207.4 263.40,209.9 263.65,213.4 263.90,216.5 264.15,218.8 264.40,219.9 264.65,220.0 264.90,219.4 265.15,218.7 265.40,219.0 265.65,220.6 265.90,223.2 266.15,226.1 266.40,228.7 266.65,230.8 266.90,232.5 267.15,233.8 267.40,234.9 267.65,235.7 267.90,236.3 268.15,236.8 268.40,237.3 268.65,237.6 268.90,237.9 269.15,238.1 269.40,238.3 269.65,238.5 269.90,238.7 270.15,238.8 270.40,238.9 270.65,239.0 270.90,239.1 271.15,239.1 271.40,239.2 271.65,239.2 271.90,239.3 272.15,239.4 272.40,239.4 272.65,239.3 272.90,239.3 273.15,239.3 273.40,239.3 273.65,239.3 273.90,239.2 274.15,239.1 274.40,239.1 274.65,238.9 274.90,238.8 275.15,238.7 275.40,238.5 275.65,238.4 275.90,238.1 276.15,237.9 276.40,237.5 276.65,237.0 276.90,236.3 277.15,235.5 277.40,234.5 277.65,233.2 277.90,231.4 278.15,229.3 278.40,226.8 278.65,224.4 278.90,223.0 279.00,222.8 279.15,223.1 279.40,224.9 279.65,227.4 279.90,229.8 280.15,231.9 280.40,233.6 280.65,234.8 280.90,235.8 281.15,236.5 281.40,237.0 281.65,237.4 281.90,237.7 282.15,237.9 282.40,238.0 282.65,238.1 282.90,238.2 283.15,238.1 283.40,238.1 283.65,238.0 283.90,237.9 284.15,237.7 284.40,237.4 284.65,237.1 284.90,236.7 285.15,236.0 285.40,235.2 285.65,234.1 285.90,232.7 286.15,230.9 286.40,228.5 286.65,226.0 286.90,223.7 287.15,222.5 287.20,222.4 287.40,223.0 287.65,225.0 287.90,227.6 288.15,230.0 288.40,232.1 288.65,233.8 288.90,235.0 289.15,236.0 289.40,236.8 289.65,237.4 289.90,237.8 290.15,238.2 290.40,238.6 290.65,238.7 290.90,239.0 291.15,239.1 291.40,239.1 291.65,239.3 291.90,239.4 292.15,239.5 292.40,239.6 292.65,239.6 292.90,239.6 293.15,239.6 293.40,239.5 293.65,239.5 293.90,239.4 294.15,239.4 294.40,239.2 294.65,239.1 294.90,239.1 295.00,239.0 295.15,239.1 295.40,239.2 295.65,239.4 295.90,239.6 296.15,239.8 296.40,239.9 296.65,240.0 296.90,240.1 297.15,240.1 297.40,240.2 297.65,240.3 297.90,240.3 298.15,240.4 298.40,240.5 298.65,240.5 298.90,240.5 299.15,240.6 299.40,240.6 299.65,240.6 299.90,240.5 300.15,240.6 300.40,240.6 300.65,240.6 300.90,240.5 301.15,240.5 301.40,240.5 301.65,240.5 301.90,240.5 302.15,240.5 302.40,240.4 302.65,240.4 302.90,240.4 303.15,240.4 303.40,240.5 303.65,240.5 303.90,240.5 304.15,240.4 304.40,240.5 304.65,240.5 304.90,240.5 305.15,240.5 305.40,240.5 305.65,240.4 305.90,240.4 306.15,240.4 306.40,240.4 306.65,240.4 306.90,240.4 307.15,240.4 307.40,240.4 307.65,240.5 307.90,240.4 308.15,240.4 308.40,240.4 308.65,240.5 308.90,240.5 309.15,240.6 309.40,240.6 309.65,240.6 309.90,240.6 310.15,240.6 310.40,240.5 310.65,240.5 310.90,240.5 311.15,240.5 311.40,240.5 311.65,240.6 311.90,240.6 312.15,240.5 312.40,240.5 312.65,240.4 312.90,240.4 313.15,240.4 313.40,240.4 313.65,240.4 313.90,240.5 314.15,240.4 314.40,240.4 314.65,240.4 314.90,240.4 315.15,240.4 315.40,240.4 315.65,240.4 315.90,240.4 316.15,240.4 316.40,240.4 316.65,240.4 316.90,240.4 317.15,240.4 317.40,240.3 317.65,240.4 317.90,240.4 318.15,240.4 318.40,240.4 318.65,240.3 318.90,240.3 319.15,240.3 319.40,240.2 319.65,240.2 319.90,240.2 320.15,240.2 320.40,240.1 320.65,240.0 320.90,240.0 321.15,239.9 321.40,239.8 321.65,239.7 321.90,239.6 322.15,239.4 322.40,239.2 322.65,239.0 322.90,238.6 323.15,238.3 323.40,237.8 323.65,237.2 323.90,236.5 324.15,235.5 324.40,234.3 324.65,232.7 324.90,230.8 325.15,228.8 325.40,227.2 325.60,226.8 325.65,226.9 325.90,227.7 326.15,229.4 326.40,231.3 326.65,233.0 326.90,234.5 327.15,235.5 327.40,236.2 327.65,236.8 327.90,237.1 328.15,237.3 328.40,237.4 328.65,237.4 328.90,237.1 329.15,236.8 329.40,236.3 329.65,235.6 329.90,234.8 330.15,234.1 330.40,233.9 330.65,234.3 330.90,235.2 331.15,236.1 331.40,236.9 331.65,237.6 331.90,238.2 332.15,238.7 332.40,239.0 332.65,239.3 332.90,239.5 333.15,239.6 333.40,239.8 333.65,239.9 333.90,239.9 334.15,240.0 334.40,240.0 334.65,240.0 334.90,240.1 335.15,240.1 335.40,240.2 335.65,240.2 335.90,240.2 336.15,240.2 336.40,240.2 336.65,240.2 336.90,240.2 337.15,240.2 337.40,240.2 337.65,240.2 337.90,240.1 338.15,240.1 338.40,240.0 338.65,240.0 338.90,239.9 339.15,239.8 339.40,239.7 339.65,239.5 339.90,239.3 340.15,239.1 340.40,238.8 340.65,238.5 340.90,238.3 341.00,238.3 341.15,238.4 341.40,238.6 341.65,238.9 341.90,239.2 342.15,239.5 342.40,239.7 342.65,239.8 342.90,239.9 343.15,239.9 343.40,239.9 343.65,239.8 343.90,239.8 344.15,239.7 344.40,239.6 344.65,239.5 344.90,239.2 345.15,238.9 345.40,238.5 345.65,238.2 345.90,238.0 346.00,238.0 346.15,238.1 346.40,238.3 346.65,238.7 346.90,239.1 347.15,239.3 347.40,239.6 347.65,239.8 347.90,240.0 348.15,240.1 348.40,240.1 348.65,240.2 348.90,240.2 349.15,240.2 349.40,240.3 349.65,240.4 349.90,240.4 350.15,240.4 350.40,240.4 350.65,240.5 350.90,240.5 351.15,240.5 351.40,240.5 351.65,240.5 351.90,240.5 352.15,240.5 352.40,240.5 352.65,240.5 352.90,240.5 353.15,240.4 353.40,240.4 353.65,240.4 353.90,240.3 354.15,240.3 354.40,240.1 354.65,240.0 354.90,239.9 355.15,239.7 355.40,239.5 355.65,239.2 355.90,239.1 356.00,239.0 356.15,239.0 356.40,239.2 356.65,239.4 356.90,239.7 357.15,239.9 357.40,240.0 357.65,240.1 357.90,240.2 358.15,240.2 358.40,240.2 358.65,240.2 358.90,240.2 359.15,240.3 359.40,240.4 359.65,240.4 359.90,240.4 360.15,240.3 360.40,240.4 360.65,240.3 360.90,240.3 361.15,240.3 361.40,240.4 361.65,240.4 361.90,240.4 362.15,240.5 362.40,240.5 362.65,240.4 362.90,240.4 363.15,240.3 363.40,240.3 363.65,240.3 363.90,240.2 364.15,240.2 364.40,240.1 364.65,240.0 364.90,239.8 365.15,239.6 365.40,239.4 365.65,239.1 365.90,239.0 366.00,239.0 366.15,239.0 366.40,239.2 366.65,239.6 366.90,239.8 367.15,240.0 367.40,240.1 367.65,240.3 367.90,240.3 368.15,240.4 368.40,240.5 368.65,240.5 368.90,240.5 369.15,240.5 369.40,240.6 369.65,240.5 369.90,240.5 370.15,240.5 370.40,240.6 370.65,240.6 370.90,240.6 371.15,240.6 371.40,240.7 371.65,240.7 371.90,240.7 372.15,240.7 372.40,240.7 372.65,240.6 372.90,240.7 373.15,240.7 373.40,240.6 373.65,240.6 373.90,240.7 374.15,240.7 374.40,240.7 374.65,240.8 374.90,240.8 375.15,240.8 375.40,240.8 375.65,240.8 375.90,240.8 376.15,240.9 376.40,240.8 376.65,240.8 376.90,240.8 377.15,240.8 377.40,240.8 377.65,240.7 377.90,240.7 378.15,240.7 378.40,240.7 378.65,240.6 378.90,240.6 379.15,240.6 379.40,240.6 379.65,240.5 379.90,240.4 380.15,240.4 380.40,240.3 380.65,240.1 380.90,240.0 381.15,239.8 381.40,239.5 381.65,239.2 381.90,239.0 382.00,238.9 382.15,238.9 382.40,239.1 382.65,239.3 382.90,239.5 383.15,239.7 383.40,239.8 383.65,239.9 383.90,240.0 384.15,240.0 384.40,240.0 384.65,240.0 384.90,240.1 385.15,240.1 385.40,240.1 385.65,240.1 385.90,240.0 386.15,239.9 386.40,239.8 386.65,239.6 386.90,239.4 387.15,239.1 387.40,238.7 387.65,238.3 387.90,237.7 388.15,237.0 388.40,236.5 388.60,236.4 388.65,236.4 388.90,236.7 389.15,237.3 389.40,237.9 389.65,238.5 389.90,238.9 390.15,239.3 390.40,239.6 390.65,239.8 390.90,240.0 391.15,240.1 391.40,240.2 391.65,240.3 391.90,240.4 392.15,240.4 392.40,240.4 392.65,240.5 392.90,240.5 393.15,240.5 393.40,240.6 393.65,240.5 393.90,240.5 394.15,240.4 394.40,240.4 394.65,240.4 394.90,240.4 395.15,240.4 395.40,240.4 395.65,240.4 395.90,240.4 396.15,240.2 396.40,240.2 396.65,240.1 396.90,240.0 397.15,239.9 397.40,239.7 397.65,239.5 397.90,239.3 398.15,238.9 398.40,238.5 398.60,238.5 398.65,238.5 398.90,238.6 399.15,239.0 399.40,239.4 399.65,239.6 399.90,239.9 400.15,240.1 400.40,240.2 400.65,240.3 400.90,240.4 401.15,240.4 401.40,240.4 401.65,240.5 401.90,240.5 402.15,240.5 402.40,240.5 402.65,240.6 402.90,240.6 403.15,240.6 403.40,240.5 403.65,240.6 403.90,240.6 404.15,240.6 404.40,240.5 404.65,240.5 404.90,240.5 405.15,240.5 405.40,240.4 405.65,240.4 405.90,240.4 406.15,240.2 406.40,240.2 406.65,240.0 406.90,239.8 407.15,239.5 407.40,239.2 407.65,238.8 407.90,238.6 408.00,238.6 408.15,238.6 408.40,238.8 408.65,239.1 408.90,239.3 409.15,239.5 409.40,239.7 409.65,239.7 409.90,239.7 410.15,239.7 410.40,239.6 410.65,239.5 410.90,239.4 411.15,239.2 411.40,239.0 411.65,238.6 411.90,238.1 412.15,237.4 412.40,236.6 412.65,235.9 412.90,235.5 413.00,235.5 413.15,235.6 413.40,236.2 413.65,236.9 413.90,237.6 414.15,238.3 414.40,238.9 414.65,239.2 414.90,239.5 415.15,239.8 415.40,240.0 415.65,240.1 415.90,240.3 416.15,240.4 416.40,240.4 416.65,240.5 416.90,240.5 417.15,240.5 417.40,240.6 417.65,240.6 417.90,240.6 418.15,240.6 418.40,240.7 418.65,240.7 418.90,240.7 419.15,240.7 419.40,240.7 419.65,240.7 419.90,240.7 420.15,240.8 420.40,240.8 420.65,240.8 420.90,240.8 421.15,240.9 421.40,240.9 421.65,240.9 421.90,240.9 422.15,240.8 422.40,240.9 422.65,240.9 422.90,240.9 423.15,240.9 423.40,241.0 423.65,240.9 423.90,240.9 424.15,240.9 424.40,240.9 424.65,240.9 424.90,240.9 425.15,240.8 425.40,240.8 425.65,240.8 425.90,240.8 426.15,240.7 426.40,240.7 426.65,240.8 426.90,240.8 427.15,240.8 427.40,240.8 427.65,240.9 427.90,240.8 428.15,240.8 428.40,240.8 428.65,240.8 428.90,240.9 429.15,240.9 429.40,240.9 429.65,240.9 429.90,240.9 430.15,240.9 430.40,240.9 430.65,240.9 430.90,240.9 431.15,240.8 431.40,240.8 431.65,240.8 431.90,240.8 432.15,240.7 432.40,240.7 432.65,240.6 432.90,240.5 433.15,240.5 433.40,240.5 433.65,240.4 433.90,240.3 434.15,240.1 434.40,239.9 434.65,239.7 434.90,239.4 435.15,239.1 435.40,238.6 435.65,238.1 435.90,237.4 436.15,236.7 436.40,236.2 436.60,236.0 436.65,236.0 436.90,236.3 437.15,236.9 437.40,237.7 437.65,238.4 437.90,238.9 438.15,239.3 438.40,239.6 438.65,239.9 438.90,240.1 439.15,240.2 439.40,240.3 439.65,240.4 439.90,240.5 440.15,240.6 440.40,240.6 440.65,240.7 440.90,240.8 441.15,240.8 441.40,240.8 441.65,240.8 441.90,240.9 442.15,240.9 442.40,241.0 442.65,241.0 442.90,241.0 443.15,241.0 443.40,241.0 443.65,240.9 443.90,241.0 444.15,241.0 444.40,241.0 444.65,241.0 444.90,241.0 445.15,241.0 445.40,241.0 445.65,240.9 445.90,240.9 446.15,240.9 446.40,241.0 446.65,240.9 446.90,241.0 447.15,241.0 447.40,240.9 447.65,240.9 447.90,241.0 448.15,241.0 448.40,241.0 448.65,241.0 448.90,241.0 449.15,241.0 449.40,241.0 449.65,241.0 449.90,241.0 450.15,241.0 450.40,240.9 450.65,241.0 450.90,241.0 451.15,241.0 451.40,240.9 451.65,241.0 451.90,240.9 452.15,240.9 452.40,241.0 452.65,241.0 452.90,241.1 453.15,241.0 453.40,241.0 453.65,241.0 453.90,241.0 454.15,241.0 454.40,241.0 454.65,241.1 454.90,241.1 455.15,241.0 455.40,241.0 455.65,241.0 455.90,241.0 456.15,241.0 456.40,240.9 456.65,240.9 456.90,240.9 457.15,240.8 457.40,240.8 457.65,240.8 457.90,240.8 458.15,240.7 458.40,240.6 458.65,240.6 458.90,240.5 459.15,240.5 459.40,240.3 459.65,240.2 459.90,240.1 460.15,239.9 460.40,239.7 460.65,239.5 460.90,239.4 461.00,239.4 461.15,239.4 461.40,239.6 461.65,239.9 461.90,240.1 462.15,240.2 462.40,240.4 462.65,240.5 462.90,240.7 463.15,240.7 463.40,240.7 463.65,240.7 463.90,240.8 464.15,240.8 464.40,240.8 464.65,240.8 464.90,240.8 465.15,240.9 465.40,240.8 465.65,240.9 465.90,240.8 466.15,240.9 466.40,240.9 466.65,240.8 466.90,240.9 467.15,240.9 467.40,240.8 467.65,240.8 467.90,240.9 468.15,240.9 468.40,240.8 468.65,240.8 468.90,240.8 469.15,240.8 469.40,240.8 469.65,240.8 469.90,240.9 470.15,240.9 470.40,240.8 470.65,240.8 470.90,240.8 471.15,240.8 471.40,240.7 471.65,240.7 471.90,240.7 472.15,240.7 472.40,240.7 472.65,240.7 472.90,240.7 473.15,240.6 473.40,240.6 473.65,240.6 473.90,240.5 474.15,240.5 474.40,240.4 474.65,240.2 474.90,240.1 475.15,239.9 475.40,239.6 475.65,239.2 475.90,238.7 476.15,238.2 476.40,237.5 476.65,236.8 476.90,236.4 477.00,236.4 477.15,236.4 477.40,236.8 477.65,237.4 477.90,238.0 478.15,238.5 478.40,239.0 478.65,239.2 478.90,239.4 479.15,239.6 479.40,239.6 479.65,239.6 479.90,239.6 480.15,239.5 480.40,239.2 480.65,239.0 480.90,238.7 481.15,238.3 481.40,238.1 481.60,238.0 481.65,238.1 481.90,238.2 482.15,238.7 482.40,239.1 482.65,239.5 482.90,239.7 483.15,240.0 483.40,240.1 483.65,240.3 483.90,240.3 484.15,240.4 484.40,240.5 484.65,240.5 484.90,240.6 485.15,240.6 485.40,240.6 485.65,240.7 485.90,240.7 486.15,240.7 486.40,240.7 486.65,240.7 486.90,240.8 487.15,240.8 487.40,240.9 487.65,240.9 487.90,240.9 488.15,240.9 488.40,240.8 488.65,240.9 488.90,240.9 489.15,240.9 489.40,240.9 489.65,240.9 489.90,241.0 490.15,241.0 490.40,241.0 490.65,240.9 490.90,240.9 491.15,241.0 491.40,241.0 491.65,241.0 491.90,241.0 492.15,240.9 492.40,240.9 492.65,240.9 492.90,240.8 493.15,240.8 493.40,240.8 493.65,240.7 493.90,240.6 494.15,240.6 494.40,240.5 494.65,240.5 494.90,240.3 495.15,240.2 495.40,240.0 495.65,239.8 495.90,239.5 496.15,239.1 496.40,238.6 496.65,238.2 496.90,238.0 497.00,238.0 497.15,238.1 497.40,238.3 497.65,238.8 497.90,239.2 498.15,239.6 498.40,239.9 498.65,240.2 498.90,240.4 499.15,240.5 499.40,240.6 499.65,240.8 499.90,240.8 500.15,240.9 500.40,240.9 500.65,241.0 500.90,241.1 501.15,241.1 501.40,241.1 501.65,241.1 501.90,241.1 502.15,241.1 502.40,241.1 502.65,241.2 502.90,241.2 503.15,241.2 503.40,241.2 503.65,241.2 503.90,241.2 504.15,241.2 504.40,241.2 504.65,241.2 504.90,241.2 505.15,241.2 505.40,241.2 505.65,241.2 505.90,241.2 506.15,241.2 506.40,241.2 506.65,241.1 506.90,241.1 507.15,241.1 507.40,241.1 507.65,241.1 507.90,241.1 508.15,241.1 508.40,241.1 508.65,241.0 508.90,241.0 509.15,241.0 509.40,241.0 509.65,241.0 509.90,241.0 510.15,241.0 510.40,241.0 510.65,240.9 510.90,240.9 511.15,240.9 511.40,240.9 511.65,240.8 511.90,240.8 512.15,240.7 512.40,240.6 512.65,240.5 512.90,240.3 513.15,240.1 513.40,239.8 513.65,239.3 513.90,239.0 514.15,238.6 514.40,238.4 514.65,238.6 514.90,238.9 515.15,239.3 515.40,239.6 515.65,240.0 515.90,240.2 516.15,240.4 516.40,240.5 516.65,240.6 516.90,240.7 517.15,240.8 517.40,240.9 517.65,240.9 517.90,241.0 518.15,241.0 518.40,241.1 518.65,241.1 518.90,241.1 519.15,241.1 519.40,241.1 519.65,241.1 519.90,241.2 520.15,241.3 520.40,241.2 520.65,241.2 520.90,241.2 521.15,241.2 521.40,241.3 521.65,241.2 521.90,241.2 522.15,241.2 522.40,241.3 522.65,241.3 522.90,241.3 523.15,241.3 523.40,241.2 523.65,241.2 523.90,241.2 524.15,241.2 524.40,241.2 524.65,241.2 524.90,241.2 525.15,241.2 525.40,241.2 525.65,241.1 525.90,241.1 526.15,241.2 526.40,241.2 526.65,241.1 526.90,241.1 527.15,241.1 527.40,241.1 527.65,241.1 527.90,241.2 528.15,241.1 528.40,241.0 528.65,241.1 528.90,241.1 529.15,241.1 529.40,241.1 529.65,241.1 529.90,241.1 530.15,241.2 530.40,241.2 530.65,241.2 530.90,241.1 531.15,241.1 531.40,241.1 531.65,241.1 531.90,241.2 532.15,241.2 532.40,241.2 532.65,241.2 532.90,241.2 533.15,241.3 533.40,241.2 533.65,241.3 533.90,241.2 534.15,241.2 534.40,241.3 534.65,241.3 534.90,241.3 535.15,241.3 535.40,241.2 535.65,241.2 535.90,241.2 536.15,241.2 536.40,241.2 536.65,241.2 536.90,241.2"/>
<polyline stroke="#ffff00" points="45.90,186.3 46.15,186.3 46.40,186.3 46.65,186.3 46.90,186.3 47.15,186.3 47.40,186.3 47.65,186.3 47.90,186.3 48.15,186.3 48.40,186.3 48.65,186.3 48.90,186.4 49.15,186.4 49.40,186.4 49.65,186.4 49.90,186.4 50.15,186.4 50.40,186.4 50.65,186.4 50.90,186.4 51.15,186.4 51.40,186.5 51.65,186.4 51.90,186.4 52.15,186.4 52.40,186.4 52.65,186.3 52.90,186.3 53.15,186.3 53.40,186.4 53.65,186.4 53.90,186.4 54.15,186.4 54.40,186.3 54.65,186.3 54.90,186.3 55.15,186.3 55.40,186.3 55.65,186.3 55.90,186.3 56.15,186.4 56.40,186.4 56.65,186.4 56.90,186.4 57.15,186.3 57.40,186.3 57.65,186.3 57.90,186.3 58.15,186.3 58.40,186.3 58.65,186.3 58.90,186.3 59.15,186.3 59.40,186.4 59.65,186.3 59.90,186.4 60.15,186.3 60.40,186.3 60.65,186.3 60.90,186.3 61.15,186.3 61.40,186.4 61.65,186.4 61.90,186.5 62.15,186.4 62.40,186.5 62.65,186.5 62.90,186.4 63.15,186.4 63.40,186.4 63.65,186.4 63.90,186.4 64.15,186.4 64.40,186.4 64.65,186.4 64.90,186.3 65.15,186.3 65.40,186.2 65.65,186.2 65.90,186.2 66.15,186.2 66.40,186.2 66.65,186.1 66.90,186.2 67.15,186.2 67.40,186.1 67.65,186.1 67.90,186.2 68.15,186.2 68.40,186.3 68.65,186.3 68.90,186.3 69.15,186.2 69.40,186.2 69.65,186.3 69.90,186.3 70.15,186.3 70.40,186.3 70.65,186.3 70.90,186.3 71.15,186.3 71.40,186.3 71.65,186.3 71.90,186.3 72.15,186.3 72.40,186.3 72.65,186.3 72.90,186.2 73.15,186.2 73.40,186.3 73.65,186.2 73.90,186.2 74.15,186.2 74.40,186.2 74.65,186.3 74.90,186.3 75.15,186.2 75.40,186.2 75.65,186.2 75.90,186.3 76.15,186.3 76.40,186.3 76.65,186.2 76.90,186.2 77.15,186.2 77.40,186.2 77.65,186.1 77.90,186.2 78.15,186.1 78.40,186.1 78.65,186.2 78.90,186.1 79.15,186.1 79.40,186.1 79.65,186.0 79.90,186.0 80.15,186.0 80.40,186.0 80.65,186.0 80.90,186.0 81.15,186.1 81.40,186.1 81.65,186.1 81.90,186.1 82.15,186.1 82.40,186.1 82.65,186.1 82.90,186.1 83.15,186.2 83.40,186.2 83.65,186.2 83.90,186.2 84.15,186.2 84.40,186.2 84.65,186.2 84.90,186.1 85.15,186.0 85.40,186.0 85.65,186.0 85.90,186.0 86.15,185.9 86.40,185.9 86.65,185.8 86.90,185.8 87.15,185.8 87.40,185.8 87.65,185.9 87.90,185.9 88.15,185.9 88.40,185.9 88.65,185.9 88.90,185.9 89.15,185.9 89.40,185.8 89.65,185.9 89.90,185.8 90.15,185.8 90.40,185.8 90.65,185.7 90.90,185.6 91.15,185.5 91.40,185.5 91.65,185.4 91.90,185.3 92.15,185.2 92.40,185.2 92.65,185.1 92.90,185.0 93.15,184.9 93.40,184.8 93.65,184.7 93.90,184.6 94.15,184.4 94.40,184.2 94.65,184.0 94.90,183.7 95.15,183.5 95.40,183.1 95.65,182.5 95.90,181.8 96.15,181.1 96.40,180.0 96.65,178.6 96.90,176.8 97.15,174.3 97.40,171.0 97.65,166.8 97.90,162.0 98.15,157.8 98.40,156.0 98.65,157.7 98.90,161.9 99.15,166.7 99.40,170.9 99.65,174.1 99.90,176.6 100.15,178.3 100.40,179.6 100.65,180.7 100.90,181.5 101.15,182.1 101.40,182.6 101.65,183.0 101.90,183.2 102.15,183.5 102.40,183.7 102.65,183.8 102.90,183.9 103.15,183.9 103.40,183.9 103.65,183.9 103.90,183.8 104.15,183.7 104.40,183.5 104.65,183.2 104.90,182.9 105.15,182.5 105.40,182.0 105.65,181.3 105.90,180.3 106.15,179.1 106.40,177.4 106.65,175.2 106.90,172.3 107.15,168.8 107.40,165.0 107.65,162.1 107.80,161.6 107.90,161.8 108.15,164.2 108.40,168.0 108.65,171.7 108.90,174.8 109.15,177.2 109.40,179.0 109.65,180.3 109.90,181.3 110.15,182.1 110.40,182.7 110.65,183.1 110.90,183.5 111.15,183.8 111.40,184.1 111.65,184.3 111.90,184.4 112.15,184.5 112.40,184.7 112.65,184.8 112.90,184.9 113.15,184.9 113.40,185.0 113.65,185.0 113.90,185.0 114.15,185.1 114.40,185.1 114.65,185.1 114.90,185.1 115.15,185.1 115.40,185.1 115.65,185.1 115.90,185.1 116.15,185.0 116.40,185.1 116.65,185.0 116.90,185.0 117.15,185.0 117.40,184.9 117.65,184.8 117.90,184.7 118.15,184.6 118.40,184.4 118.65,184.2 118.90,184.0 119.15,183.6 119.40,183.2 119.65,182.7 119.90,182.0 120.15,181.1 120.40,179.9 120.65,178.3 120.90,176.2 121.15,173.4 121.40,170.0 121.65,166.6 121.90,164.4 122.00,164.2 122.15,164.6 122.40,167.1 122.65,170.6 122.90,173.9 123.15,176.5 123.40,178.6 123.65,180.1 123.90,181.2 124.15,182.1 124.40,182.7 124.65,183.3 124.90,183.7 125.15,184.0 125.40,184.2 125.65,184.4 125.90,184.6 126.15,184.7 126.40,184.8 126.65,184.9 126.90,184.9 127.15,185.0 127.40,185.0 127.65,185.0 127.90,185.0 128.15,184.9 128.40,184.9 128.65,185.0 128.90,184.9 129.15,184.9 129.40,184.8 129.65,184.7 129.90,184.5 130.15,184.3 130.40,184.2 130.65,183.8 130.90,183.4 131.15,182.7 131.40,181.9 131.65,180.8 131.90,179.6 132.15,178.4 132.40,178.0 132.65,178.5 132.90,179.6 133.15,180.8 133.40,182.0 133.65,182.8 133.90,183.4 134.15,183.9 134.40,184.2 134.65,184.5 134.90,184.7 135.15,184.9 135.40,185.1 135.65,185.2 135.90,185.2 136.15,185.4 136.40,185.4 136.65,185.5 136.90,185.5 137.15,185.6 137.40,185.7 137.65,185.7 137.90,185.7 138.15,185.8 138.40,185.8 138.65,185.8 138.90,185.8 139.15,185.8 139.40,185.8 139.65,185.8 139.90,185.8 140.15,185.8 140.40,185.8 140.65,185.7 140.90,185.7 141.15,185.7 141.40,185.7 141.65,185.6 141.90,185.6 142.15,185.6 142.40,185.7 142.65,185.7 142.90,185.7 143.15,185.7 143.40,185.8 143.65,185.7 143.90,185.7 144.15,185.8 144.40,185.9 144.65,185.9 144.90,185.9 145.15,185.9 145.40,185.9 145.65,185.9 145.90,185.9 146.15,185.9 146.40,185.9 146.65,185.8 146.90,185.9 147.15,185.9 147.40,185.9 147.65,185.9 147.90,185.8 148.15,185.8 148.40,185.9 148.65,185.9 148.90,185.9 149.15,185.9 149.40,185.9 149.65,185.9 149.90,185.9 150.15,185.9 150.40,185.9 150.65,185.8 150.90,185.8 151.15,185.8 151.40,185.8 151.65,185.8 151.90,185.8 152.15,185.7 152.40,185.7 152.65,185.7 152.90,185.7 153.15,185.7 153.40,185.7 153.65,185.6 153.90,185.6 154.15,185.6 154.40,185.6 154.65,185.5 154.90,185.4 155.15,185.4 155.40,185.3 155.65,185.1 155.90,184.9 156.15,184.6 156.40,184.2 156.65,183.7 156.90,183.1 157.15,182.6 157.40,182.4 157.65,182.7 157.90,183.2 158.15,183.8 158.40,184.2 158.65,184.6 158.90,184.9 159.15,185.1 159.40,185.3 159.65,185.5 159.90,185.6 160.15,185.7 160.40,185.7 160.65,185.8 160.90,185.9 161.15,185.8 161.40,185.8 161.65,185.8 161.90,185.9 162.15,185.8 162.40,185.9 162.65,185.9 162.90,185.8 163.15,185.8 163.40,185.8 163.65,185.8 163.90,185.8 164.15,185.7 164.40,185.7 164.65,185.8 164.90,185.7 165.15,185.8 165.40,185.8 165.65,185.8 165.90,185.8 166.15,185.8 166.40,185.8 166.65,185.8 166.90,185.8 167.15,185.7 167.40,185.8 167.65,185.8 167.90,185.8 168.15,185.8 168.40,185.8 168.65,185.7 168.90,185.7 169.15,185.7 169.40,185.7 169.65,185.8 169.90,185.7 170.15,185.7 170.40,185.7 170.65,185.7 170.90,185.6 171.15,185.6 171.40,185.6 171.65,185.6 171.90,185.5 172.15,185.5 172.40,185.5 172.65,185.4 172.90,185.4 173.15,185.2 173.40,185.1 173.65,185.0 173.90,184.8 174.15,184.5 174.40,184.1 174.65,183.6 174.90,183.0 175.15,182.0 175.40,181.0 175.65,179.8 175.90,179.1 176.00,179.0 176.15,179.1 176.40,179.9 176.65,181.0 176.90,182.1 177.15,182.9 177.40,183.6 177.65,184.1 177.90,184.5 178.15,184.7 178.40,184.9 178.65,185.1 178.90,185.2 179.15,185.4 179.40,185.4 179.65,185.5 179.90,185.6 180.15,185.6 180.40,185.6 180.65,185.6 180.90,185.6 181.15,185.6 181.40,185.6 181.65,185.5 181.90,185.5 182.15,185.5 182.40,185.4 182.65,185.4 182.90,185.4 183.15,185.2 183.40,185.1 183.65,185.0 183.90,184.8 184.15,184.5 184.40,184.2 184.65,183.7 184.90,183.0 185.15,182.4 185.40,181.9 185.60,181.7 185.65,181.7 185.90,182.1 186.15,182.6 186.40,183.4 186.65,183.9 186.90,184.4 187.15,184.7 187.40,185.0 187.65,185.1 187.90,185.4 188.15,185.4 188.40,185.5 188.65,185.5 188.90,185.5 189.15,185.6 189.40,185.6 189.65,185.6 189.90,185.6 190.15,185.6 190.40,185.6 190.65,185.6 190.90,185.6 191.15,185.6 191.40,185.6 191.65,185.5 191.90,185.6 192.15,185.6 192.40,185.6 192.65,185.5 192.90,185.5 193.15,185.4 193.40,185.4 193.65,185.3 193.90,185.2 194.15,185.1 194.40,184.9 194.65,184.7 194.90,184.3 195.15,183.9 195.40,183.3 195.65,182.8 195.90,182.5 196.00,182.4 196.15,182.5 196.40,182.9 196.65,183.4 196.90,183.9 197.15,184.4 197.40,184.7 197.65,184.8 197.90,185.0 198.15,185.2 198.40,185.3 198.65,185.4 198.90,185.4 199.15,185.4 199.40,185.5 199.65,185.5 199.90,185.5 200.15,185.6 200.40,185.6 200.65,185.7 200.90,185.7 201.15,185.7 201.40,185.7 201.65,185.6 201.90,185.6 202.15,185.7 202.40,185.7 202.65,185.7 202.90,185.7 203.15,185.7 203.40,185.7 203.65,185.7 203.90,185.7 204.15,185.7 204.40,185.7 204.65,185.7 204.90,185.7 205.15,185.7 205.40,185.6 205.65,185.6 205.90,185.6 206.15,185.5 206.40,185.5 206.65,185.4 206.90,185.3 207.15,185.2 207.40,185.1 207.65,185.0 207.90,184.9 208.15,184.7 208.40,184.5 208.65,184.2 208.90,183.9 209.15,183.4 209.40,182.8 209.65,182.0 209.90,181.0 210.15,179.6 210.40,178.0 210.65,176.3 210.90,175.2 211.00,175.1 211.15,175.4 211.40,176.6 211.65,178.3 211.90,179.9 212.15,181.3 212.40,182.3 212.65,183.0 212.90,183.6 213.15,183.9 213.40,184.2 213.65,184.4 213.90,184.6 214.15,184.7 214.40,184.8 214.65,184.9 214.90,185.0 215.15,185.0 215.40,185.0 215.65,185.1 215.90,185.0 216.15,184.9 216.40,184.9 216.65,184.9 216.90,184.9 217.15,184.9 217.40,184.9 217.65,184.9 217.90,184.9 218.15,184.7 218.40,184.6 218.65,184.5 218.90,184.3 219.15,184.1 219.40,183.8 219.65,183.5 219.90,183.1 220.15,182.4 220.40,181.5 220.65,180.3 220.90,178.7 221.15,176.7 221.40,174.2 221.65,171.8 221.90,170.2 222.00,170.0 222.15,170.4 222.40,172.2 222.65,174.8 222.90,177.1 223.15,179.1 223.40,180.6 223.65,181.7 223.90,182.6 224.15,183.2 224.40,183.7 224.65,184.0 224.90,184.3 225.15,184.6 225.40,184.8 225.65,184.9 225.90,185.1 226.15,185.2 226.40,185.3 226.65,185.3 226.90,185.4 227.15,185.4 227.40,185.4 227.65,185.4 227.90,185.5 228.15,185.6 228.40,185.6 228.65,185.6 228.90,185.6 229.15,185.6 229.40,185.6 229.65,185.6 229.90,185.7 230.15,185.6 230.40,185.6 230.65,185.7 230.90,185.7 231.15,185.7 231.40,185.7 231.65,185.6 231.90,185.7 232.15,185.7 232.40,185.6 232.65,185.6 232.90,185.6 233.15,185.6 233.40,185.5 233.65,185.6 233.90,185.5 234.15,185.5 234.40,185.5 234.65,185.5 234.90,185.5 235.15,185.5 235.40,185.5 235.65,185.4 235.90,185.4 236.15,185.4 236.40,185.4 236.65,185.3 236.90,185.3 237.15,185.2 237.40,185.1 237.65,185.1 237.90,184.9 238.15,184.8 238.40,184.6 238.65,184.3 238.90,184.0 239.15,183.5 239.40,182.9 239.65,182.2 239.90,181.2 240.15,180.1 240.40,179.3 240.60,178.9 240.65,178.9 240.90,179.3 241.15,179.9 241.40,180.6 241.65,180.9 241.90,181.1 242.15,180.9 242.40,180.4 242.65,179.8 242.90,179.4 243.00,179.4 243.15,179.7 243.40,180.4 243.65,181.4 243.90,182.2 244.15,182.9 244.40,183.5 244.65,183.9 244.90,184.2 245.15,184.3 245.40,184.5 245.65,184.6 245.90,184.6 246.15,184.7 246.40,184.6 246.65,184.6 246.90,184.5 247.15,184.4 247.40,184.2 247.65,184.0 247.90,183.7 248.15,183.3 248.40,182.8 248.65,182.1 248.90,181.1 249.15,179.9 249.40,178.6 249.65,177.7 249.80,177.6 249.90,177.7 250.15,178.5 250.40,179.8 250.65,181.2 250.90,182.2 251.15,183.1 251.40,183.7 251.65,184.1 251.90,184.4 252.15,184.7 252.40,184.9 252.65,185.0 252.90,185.1 253.15,185.1 253.40,185.2 253.65,185.2 253.90,185.3 254.15,185.3 254.40,185.3 254.65,185.3 254.90,185.3 255.15,185.3 255.40,185.4 255.65,185.4 255.90,185.4 256.15,185.5 256.40,185.5 256.65,185.6 256.90,185.6 257.15,185.6 257.40,185.6 257.65,185.6 257.90,185.7 258.15,185.6 258.40,185.6 258.65,185.7 258.90,185.6 259.15,185.6 259.40,185.5 259.65,185.5 259.90,185.4 260.15,185.3 260.40,185.2 260.65,185.1 260.90,185.1 261.15,185.0 261.40,184.8 261.65,184.7 261.90,184.5 262.15,184.3 262.40,183.8 262.65,183.4 262.90,182.8 263.15,181.9 263.40,180.9 263.65,179.6 263.90,178.0 264.15,176.6 264.40,176.1 264.65,176.6 264.90,177.9 265.15,179.5 265.40,180.8 265.65,181.9 265.90,182.8 266.15,183.3 266.40,183.8 266.65,184.1 266.90,184.4 267.15,184.5 267.40,184.7 267.65,184.7 267.90,184.8 268.15,184.7 268.40,184.6 268.65,184.5 268.90,184.3 269.15,184.0 269.40,183.7 269.65,183.3 269.90,183.0 270.00,183.0 270.15,183.1 270.40,183.4 270.65,183.8 270.90,184.1 271.15,184.4 271.40,184.6 271.65,184.8 271.90,184.9 272.15,185.0 272.40,185.1 272.65,185.0 272.90,185.1 273.15,185.1 273.40,185.0 273.65,185.0 273.90,184.9 274.15,184.8 274.40,184.7 274.65,184.6 274.90,184.4 275.15,184.1 275.40,183.8 275.65,183.5 275.90,183.1 276.15,182.5 276.40,181.8 276.65,180.9 276.90,179.6 277.15,177.9 277.40,175.7 277.65,172.8 277.90,169.5 278.15,166.7 278.40,165.5 278.65,166.7 278.90,169.6 279.15,172.9 279.40,175.8 279.65,178.0 279.90,179.6 280.15,180.9 280.40,181.8 280.65,182.5 280.90,183.0 281.15,183.5 281.40,183.9 281.65,184.2 281.90,184.3 282.15,184.5 282.40,184.6 282.65,184.8 282.90,184.9 283.15,185.0 283.40,185.1 283.65,185.2 283.90,185.3 284.15,185.3 284.40,185.4 284.65,185.4 284.90,185.4 285.15,185.4 285.40,185.5 285.65,185.5 285.90,185.5 286.15,185.5 286.40,185.6 286.65,185.7 286.90,185.6 287.15,185.6 287.40,185.6 287.65,185.6 287.90,185.5 288.15,185.5 288.40,185.5 288.65,185.5 288.90,185.4 289.15,185.5 289.40,185.5 289.65,185.5 289.90,185.4 290.15,185.2 290.40,185.2 290.65,185.1 290.90,185.0 291.15,184.8 291.40,184.5 291.65,184.1 291.90,183.6 292.15,183.0 292.40,182.2 292.65,181.4 292.90,180.9 293.00,180.9 293.15,181.0 293.40,181.6 293.65,182.4 293.90,183.1 294.15,183.7 294.40,184.1 294.65,184.5 294.90,184.8 295.15,185.0 295.40,185.2 295.65,185.3 295.90,185.4 296.15,185.4 296.40,185.5 296.65,185.6 296.90,185.6 297.15,185.6 297.40,185.6 297.65,185.7 297.90,185.8 298.15,185.8 298.40,185.8 298.65,185.8 298.90,185.8 299.15,185.9 299.40,185.8 299.65,185.9 299.90,186.0 300.15,186.0 300.40,186.0 300.65,186.0 300.90,186.0 301.15,186.0 301.40,185.9 301.65,185.9 301.90,185.9 302.15,185.9 302.40,185.9 302.65,185.9 302.90,185.9 303.15,185.9 303.40,185.9 303.65,185.9 303.90,185.8 304.15,185.8 304.40,185.7 304.65,185.7 304.90,185.6 305.15,185.6 305.40,185.5 305.65,185.3 305.90,185.1 306.15,184.9 306.40,184.6 306.65,184.2 306.90,183.9 307.00,183.9 307.15,184.0 307.40,184.2 307.65,184.5 307.90,184.8 308.15,185.1 308.40,185.2 308.65,185.3 308.90,185.3 309.15,185.4 309.40,185.4 309.65,185.5 309.90,185.5 310.15,185.6 310.40,185.6 310.65,185.5 310.90,185.5 311.15,185.5 311.40,185.5 311.65,185.5 311.90,185.4 312.15,185.4 312.40,185.4 312.65,185.3 312.90,185.2 313.15,185.2 313.40,185.0 313.65,184.9 313.90,184.7 314.15,184.4 314.40,184.0 314.65,183.5 314.90,182.8 315.15,181.9 315.40,180.8 315.65,179.7 315.90,179.0 316.00,178.9 316.15,179.1 316.40,179.8 316.65,181.0 316.90,182.1 317.15,182.9 317.40,183.6 317.65,184.1 317.90,184.4 318.15,184.7 318.40,185.0 318.65,185.2 318.90,185.3 319.15,185.4 319.40,185.5 319.65,185.6 319.90,185.7 320.15,185.8 320.40,185.8 320.65,185.9 320.90,185.9 321.15,186.0 321.40,186.0 321.65,186.0 321.90,186.0 322.15,186.1 322.40,186.1 322.65,186.1 322.90,186.2 323.15,186.2 323.40,186.2 323.65,186.1 323.90,186.1 324.15,186.2 324.40,186.2 324.65,186.2 324.90,186.2 325.15,186.2 325.40,186.2 325.65,186.1 325.90,186.1 326.15,186.1 326.40,186.1 326.65,186.0 326.90,186.0 327.15,186.0 327.40,186.0 327.65,186.0 327.90,185.9 328.15,185.9 328.40,185.9 328.65,185.9 328.90,185.9 329.15,185.9 329.40,186.0 329.65,186.0 329.90,186.0 330.15,186.0 330.40,185.9 330.65,186.0 330.90,186.0 331.15,185.9 331.40,185.9 331.65,185.9 331.90,185.9 332.15,185.9 332.40,186.0 332.65,186.0 332.90,186.0 333.15,185.9 333.40,185.9 333.65,186.0 333.90,185.9 334.15,185.9 334.40,185.9 334.65,185.9 334.90,185.8 335.15,185.8 335.40,185.7 335.65,185.5 335.90,185.3 336.15,185.0 336.40,184.8 336.65,184.6 336.90,184.4 337.00,184.4 337.15,184.5 337.40,184.7 337.65,185.0 337.90,185.2 338.15,185.4 338.40,185.6 338.65,185.7 338.90,185.8 339.15,185.8 339.40,185.9 339.65,186.0 339.90,186.0 340.15,186.0 340.40,186.0 340.65,186.0 340.90,186.0 341.15,186.0 341.40,185.9 341.65,185.9 341.90,185.9 342.15,185.9 342.40,185.9 342.65,186.0 342.90,186.0 343.15,186.0 343.40,185.9 343.65,185.9 343.90,185.9 344.15,185.9 344.40,185.9 344.65,185.9 344.90,186.0 345.15,186.0 345.40,186.0 345.65,185.8 345.90,185.7 346.15,185.6 346.40,185.5 346.65,185.3 346.90,185.1 347.15,184.9 347.40,184.6 347.65,184.3 347.90,184.1 348.00,184.0 348.15,184.0 348.40,184.3 348.65,184.6 348.90,184.9 349.15,185.1 349.40,185.3 349.65,185.3 349.90,185.5 350.15,185.5 350.40,185.4 350.65,185.3 350.90,185.1 351.15,185.0 351.40,184.7 351.65,184.5 351.90,184.3 352.00,184.3 352.15,184.4 352.40,184.5 352.65,184.8 352.90,185.0 353.15,185.2 353.40,185.4 353.65,185.5 353.90,185.7 354.15,185.8 354.40,185.8 354.65,185.9 354.90,186.0 355.15,186.0 355.40,186.0 355.65,186.0 355.90,186.0 356.15,186.0 356.40,186.0 356.65,186.1 356.90,186.0 357.15,186.0 357.40,186.0 357.65,186.0 357.90,185.9 358.15,185.9 358.40,185.8 358.65,185.8 358.90,185.8 359.15,185.8 359.40,185.8 359.65,185.9 359.90,185.9 360.15,185.8 360.40,185.9 360.65,185.9 360.90,185.9 361.15,185.9 361.40,186.0 361.65,186.0 361.90,186.0 362.15,186.0 362.40,186.0 362.65,186.0 362.90,186.0 363.15,185.9 363.40,185.9 363.65,185.9 363.90,185.8 364.15,185.7 364.40,185.7 364.65,185.6 364.90,185.6 365.15,185.5 365.40,185.4 365.65,185.2 365.90,185.0 366.15,184.7 366.40,184.3 366.65,183.8 366.90,183.2 367.15,182.4 367.40,181.9 367.60,181.7 367.65,181.6 367.90,182.0 368.15,182.6 368.40,183.3 368.65,183.9 368.90,184.4 369.15,184.7 369.40,185.0 369.65,185.2 369.90,185.3 370.15,185.4 370.40,185.6 370.65,185.6 370.90,185.6 371.15,185.7 371.40,185.8 371.65,185.8 371.90,185.8 372.15,185.7 372.40,185.6 372.65,185.5 372.90,185.4 373.15,185.2 373.40,185.0 373.65,184.7 373.90,184.4 374.15,184.0 374.40,183.7 374.60,183.7 374.65,183.6 374.90,183.8 375.15,184.1 375.40,184.5 375.65,184.8 375.90,185.0 376.15,185.2 376.40,185.3 376.65,185.4 376.90,185.3 377.15,185.3 377.40,185.2 377.65,185.2 377.90,185.1 378.15,185.0 378.40,184.8 378.65,184.5 378.90,184.1 379.15,183.6 379.40,183.0 379.65,182.4 379.90,182.0 380.00,181.9 380.15,182.1 380.40,182.6 380.65,183.3 380.90,183.9 381.15,184.4 381.40,184.8 381.65,185.0 381.90,185.2 382.15,185.4 382.40,185.5 382.65,185.7 382.90,185.8 383.15,185.8 383.40,185.9 383.65,186.0 383.90,186.0 384.15,186.0 384.40,186.0 384.65,186.0 384.90,186.0 385.15,186.0 385.40,186.0 385.65,186.0 385.90,186.0 386.15,186.0 386.40,186.1 386.65,186.0 386.90,186.0 387.15,186.0 387.40,186.0 387.65,186.1 387.90,186.1 388.15,186.0 388.40,186.0 388.65,186.0 388.90,186.1 389.15,186.1 389.40,186.1 389.65,186.1 389.90,186.1 390.15,186.1 390.40,186.1 390.65,186.0 390.90,186.0 391.15,186.0 391.40,186.1 391.65,186.1 391.90,186.1 392.15,186.2 392.40,186.2 392.65,186.2 392.90,186.2 393.15,186.2 393.40,186.1 393.65,186.2 393.90,186.2 394.15,186.2 394.40,186.2 394.65,186.2 394.90,186.1 395.15,186.1 395.40,186.1 395.65,186.1 395.90,186.1 396.15,186.1 396.40,186.1 396.65,186.0 396.90,186.0 397.15,186.0 397.40,185.9 397.65,186.0 397.90,186.0 398.15,185.9 398.40,186.0 398.65,186.0 398.90,185.9 399.15,185.9 399.40,185.9 399.65,185.8 399.90,185.8 400.15,185.8 400.40,185.8 400.65,185.8 400.90,185.7 401.15,185.6 401.40,185.5 401.65,185.4 401.90,185.2 402.15,185.0 402.40,184.7 402.65,184.5 402.90,184.4 403.00,184.3 403.15,184.3 403.40,184.5 403.65,184.8 403.90,185.1 404.15,185.3 404.40,185.5 404.65,185.6 404.90,185.8 405.15,185.8 405.40,185.9 405.65,185.9 405.90,186.0 406.15,186.0 406.40,186.0 406.65,186.1 406.90,186.1 407.15,186.1 407.40,186.1 407.65,186.2 407.90,186.1 408.15,186.1 408.40,186.1 408.65,186.0 408.90,186.1 409.15,186.1 409.40,186.1 409.65,186.0 409.90,186.0 410.15,186.0 410.40,186.0 410.65,186.0 410.90,186.0 411.15,186.0 411.40,186.0 411.65,186.1 411.90,186.0 412.15,186.1 412.40,186.0 412.65,186.0 412.90,185.9 413.15,185.9 413.40,185.8 413.65,185.8 413.90,185.8 414.15,185.7 414.40,185.6 414.65,185.5 414.90,185.3 415.15,185.1 415.40,184.8 415.65,184.6 415.90,184.4 416.00,184.4 416.15,184.5 416.40,184.7 416.65,185.0 416.90,185.2 417.15,185.4 417.40,185.6 417.65,185.7 417.90,185.7 418.15,185.8 418.40,185.8 418.65,185.8 418.90,185.9 419.15,185.9 419.40,185.9 419.65,186.0 419.90,186.0 420.15,186.0 420.40,186.0 420.65,186.0 420.90,186.0 421.15,186.0 421.40,186.1 421.65,186.1 421.90,186.1 422.15,186.1 422.40,186.0 422.65,186.0 422.90,186.0 423.15,185.8 423.40,185.8 423.65,185.8 423.90,185.7 424.15,185.7 424.40,185.6 424.65,185.4 424.90,185.2 425.15,185.0 425.40,184.7 425.65,184.4 425.90,184.3 426.00,184.4 426.15,184.4 426.40,184.6 426.65,184.9 426.90,185.2 427.15,185.3 427.40,185.5 427.65,185.6 427.90,185.8 428.15,185.8 428.40,185.9 428.65,185.9 428.90,185.9 429.15,185.9 429.40,185.9 429.65,186.0 429.90,186.0 430.15,186.1 430.40,186.0 430.65,186.1 430.90,186.1 431.15,186.0 431.40,186.0 431.65,186.0 431.90,186.0 432.15,186.0 432.40,186.0 432.65,185.9 432.90,185.8 433.15,185.7 433.40,185.5 433.65,185.3 433.90,185.0 434.15,184.6 434.40,184.3 434.65,183.9 434.90,183.7 435.00,183.6 435.15,183.7 435.40,183.9 435.65,184.4 435.90,184.7 436.15,185.1 436.40,185.3 436.65,185.5 436.90,185.7 437.15,185.8 437.40,185.9 437.65,185.9 437.90,186.0 438.15,186.0 438.40,186.0 438.65,186.0 438.90,186.0 439.15,186.0 439.40,186.0 439.65,186.0 439.90,185.9 440.15,186.0 440.40,186.0 440.65,186.0 440.90,186.0 441.15,186.0 441.40,185.9 441.65,185.9 441.90,185.9 442.15,185.9 442.40,185.9 442.65,185.9 442.90,185.8 443.15,185.8 443.40,185.8 443.65,185.7 443.90,185.6 444.15,185.5 444.40,185.3 444.65,185.1 444.90,184.7 445.15,184.4 445.40,184.1 445.60,184.0 445.65,184.1 445.90,184.3 446.15,184.6 446.40,184.9 446.65,185.2 446.90,185.4 447.15,185.6 447.40,185.6 447.65,185.8 447.90,185.9 448.15,185.9 448.40,186.0 448.65,186.0 448.90,186.0 449.15,186.0 449.40,186.0 449.65,186.0 449.90,186.0 450.15,186.1 450.40,186.1 450.65,186.2 450.90,186.2 451.15,186.2 451.40,186.2 451.65,186.2 451.90,186.2 452.15,186.1 452.40,186.2 452.65,186.1 452.90,186.2 453.15,186.3 453.40,186.3 453.65,186.3 453.90,186.3 454.15,186.3 454.40,186.3 454.65,186.3 454.90,186.3 455.15,186.3 455.40,186.3 455.65,186.3 455.90,186.3 456.15,186.3 456.40,186.3 456.65,186.3 456.90,186.2 457.15,186.2 457.40,186.1 457.65,186.1 457.90,186.1 458.15,186.1 458.40,186.1 458.65,186.1 458.90,186.1 459.15,186.1 459.40,186.1 459.65,186.1 459.90,186.1 460.15,186.1 460.40,186.1 460.65,186.2 460.90,186.2 461.15,186.1 461.40,186.2 461.65,186.2 461.90,186.2 462.15,186.3 462.40,186.3 462.65,186.2 462.90,186.3 463.15,186.2 463.40,186.2 463.65,186.3 463.90,186.3 464.15,186.3 464.40,186.3 464.65,186.4 464.90,186.4 465.15,186.3 465.40,186.3 465.65,186.3 465.90,186.3 466.15,186.3 466.40,186.3 466.65,186.4 466.90,186.4 467.15,186.3 467.40,186.2 467.65,186.3 467.90,186.2 468.15,186.2 468.40,186.2 468.65,186.1 468.90,186.1 469.15,186.0 469.40,186.0 469.65,186.0 469.90,186.0 470.15,186.0 470.40,186.1 470.65,186.1 470.90,186.1 471.15,186.0 471.40,186.0 471.65,186.0 471.90,186.0 472.15,186.0 472.40,186.1 472.65,186.0 472.90,186.0 473.15,185.9 473.40,185.9 473.65,185.8 473.90,185.6 474.15,185.5 474.40,185.3 474.65,185.1 474.90,184.8 475.15,184.4 475.40,184.1 475.60,184.0 475.65,184.0 475.90,184.2 476.15,184.5 476.40,184.9 476.65,185.2 476.90,185.4 477.15,185.5 477.40,185.7 477.65,185.8 477.90,185.8 478.15,185.9 478.40,185.9 478.65,185.9 478.90,185.8 479.15,185.8 479.40,185.7 479.65,185.7 479.90,185.6 480.15,185.4 480.40,185.3 480.65,185.0 480.90,184.7 481.15,184.4 481.40,184.3 481.65,184.4 481.90,184.7 482.15,185.0 482.40,185.3 482.65,185.5 482.90,185.7 483.15,185.8 483.40,185.9 483.65,185.9 483.90,186.0 484.15,186.0 484.40,186.0 484.65,186.1 484.90,186.1 485.15,186.1 485.40,186.2 485.65,186.2 485.90,186.2 486.15,186.2 486.40,186.2 486.65,186.2 486.90,186.2 487.15,186.2 487.40,186.2 487.65,186.2 487.90,186.2 488.15,186.2 488.40,186.2 488.65,186.2 488.90,186.2 489.15,186.2 489.40,186.3 489.65,186.3 489.90,186.3 490.15,186.4 490.40,186.4 490.65,186.4 490.90,186.4 491.15,186.4 491.40,186.4 491.65,186.4 491.90,186.4 492.15,186.3 492.40,186.3 492.65,186.3 492.90,186.2 493.15,186.2 493.40,186.2 493.65,186.1 493.90,186.1 494.15,186.1 494.40,186.0 494.65,186.0 494.90,186.0 495.15,185.9 495.40,185.8 495.65,185.8 495.90,185.6 496.15,185.4 496.40,185.1 496.65,184.8 496.90,184.6 497.00,184.6 497.15,184.6 497.40,184.8 497.65,185.1 497.90,185.3 498.15,185.5 498.40,185.7 498.65,185.8 498.90,185.9 499.15,185.9 499.40,186.0 499.65,186.1 499.90,186.1 500.15,186.2 500.40,186.2 500.65,186.1 500.90,186.2 501.15,186.2 501.40,186.2 501.65,186.2 501.90,186.3 502.15,186.3 502.40,186.3 502.65,186.3 502.90,186.3 503.15,186.3 503.40,186.3 503.65,186.3 503.90,186.3 504.15,186.3 504.40,186.3 504.65,186.3 504.90,186.3 505.15,186.3 505.40,186.2 505.65,186.2 505.90,186.2 506.15,186.2 506.40,186.1 506.65,186.2 506.90,186.2 507.15,186.1 507.40,186.2 507.65,186.2 507.90,186.1 508.15,186.0 508.40,186.0 508.65,185.9 508.90,185.8 509.15,185.6 509.40,185.4 509.65,185.1 509.90,184.7 510.15,184.2 510.40,183.6 510.65,183.1 510.90,182.6 511.00,182.5 511.15,182.6 511.40,183.1 511.65,183.8 511.90,184.3 512.15,184.8 512.40,185.2 512.65,185.5 512.90,185.7 513.15,185.9 513.40,186.0 513.65,186.1 513.90,186.1 514.15,186.2 514.40,186.2 514.65,186.2 514.90,186.3 515.15,186.2 515.40,186.3 515.65,186.3 515.90,186.3 516.15,186.3 516.40,186.3 516.65,186.2 516.90,186.2 517.15,186.2 517.40,186.2 517.65,186.2 517.90,186.2 518.15,186.2 518.40,186.2 518.65,186.2 518.90,186.1 519.15,186.1 519.40,186.1 519.65,186.0 519.90,186.0 520.15,185.9 520.40,185.7 520.65,185.6 520.90,185.4 521.15,185.0 521.40,184.6 521.65,184.2 521.90,184.0 522.00,184.0 522.15,184.1 522.40,184.3 522.65,184.7 522.90,185.0 523.15,185.3 523.40,185.5 523.65,185.7 523.90,185.8 524.15,185.9 524.40,186.0 524.65,186.0 524.90,186.1 525.15,186.1 525.40,186.1 525.65,186.1 525.90,186.1 526.15,186.1 526.40,186.2 526.65,186.2 526.90,186.3 527.15,186.3 527.40,186.4 527.65,186.3 527.90,186.3 528.15,186.4 528.40,186.4 528.65,186.4 528.90,186.4 529.15,186.4 529.40,186.4 529.65,186.4 529.90,186.3 530.15,186.2 530.40,186.2 530.65,186.0 530.90,185.9 531.15,185.9 531.40,185.7 531.65,185.5 531.90,185.2 532.15,184.9 532.40,184.5 532.65,184.1 532.90,183.9 533.00,183.9 533.15,183.9 533.40,184.2 533.65,184.6 533.90,185.0 534.15,185.3 534.40,185.6 534.65,185.7 534.90,185.8 535.15,185.9 535.40,186.0 535.65,186.1 535.90,186.1 536.15,186.2 536.40,186.2 536.65,186.2 536.90,186.3"/>
<polyline stroke="#ff0000" points="45.90,320.5 46.15,320.5 46.40,320.5 46.65,320.5 46.90,320.4 47.15,320.4 47.40,320.4 47.65,320.4 47.90,320.3 48.15,320.3 48.40,320.2 48.65,320.4 48.90,320.3 49.15,320.2 49.40,320.2 49.65,320.2 49.90,320.1 50.15,320.1 50.40,320.3 50.65,320.3 50.90,320.3 51.15,320.3 51.40,320.4 51.65,320.4 51.90,320.4 52.15,320.3 52.40,320.3 52.65,320.3 52.90,320.4 53.15,320.4 53.40,320.5 53.65,320.6 53.90,320.5 54.15,320.6 54.40,320.5 54.65,320.5 54.90,320.6 55.15,320.6 55.40,320.6 55.65,320.7 55.90,320.7 56.15,320.8 56.40,320.7 56.65,320.7 56.90,320.8 57.15,320.7 57.40,320.7 57.65,320.5 57.90,320.5 58.15,320.6 58.40,320.6 58.65,320.7 58.90,320.7 59.15,320.7 59.40,320.6 59.65,320.6 59.90,320.6 60.15,320.6 60.40,320.5 60.65,320.5 60.90,320.7 61.15,320.7 61.40,320.6 61.65,320.6 61.90,320.5 62.15,320.4 62.40,320.5 62.65,320.5 62.90,320.4 63.15,320.3 63.40,320.4 63.65,320.4 63.90,320.3 64.15,320.3 64.40,320.4 64.65,320.4 64.90,320.6 65.15,320.6 65.40,320.7 65.65,320.7 65.90,320.6 66.15,320.6 66.40,320.6 66.65,320.7 66.90,320.7 67.15,320.7 67.40,320.7 67.65,320.7 67.90,320.5 68.15,320.5 68.40,320.5 68.65,320.4 68.90,320.4 69.15,320.3 69.40,320.4 69.65,320.5 69.90,320.4 70.15,320.5 70.40,320.4 70.65,320.5 70.90,320.5 71.15,320.7 71.40,320.6 71.65,320.6 71.90,320.6 72.15,320.6 72.40,320.7 72.65,320.6 72.90,320.4 73.15,320.4 73.40,320.5 73.65,320.6 73.90,320.5 74.15,320.4 74.40,320.5 74.65,320.4 74.90,320.5 75.15,320.4 75.40,320.3 75.65,320.2 75.90,320.2 76.15,320.1 76.40,320.1 76.65,320.2 76.90,320.1 77.15,320.0 77.40,320.0 77.65,320.0 77.90,319.9 78.15,320.0 78.40,320.1 78.65,320.2 78.90,320.4 79.15,320.5 79.40,320.6 79.65,320.8 79.90,321.0 80.15,320.9 80.40,320.8 80.65,320.9 80.90,320.9 81.15,321.0 81.40,320.9 81.65,320.7 81.90,320.6 82.15,320.6 82.40,320.5 82.65,320.5 82.90,320.4 83.15,320.3 83.40,320.3 83.65,320.4 83.90,320.4 84.15,320.3 84.40,320.3 84.65,320.3 84.90,320.3 85.15,320.4 85.40,320.3 85.65,320.3 85.90,320.3 86.15,320.3 86.40,320.2 86.65,320.1 86.90,320.0 87.15,319.9 87.40,320.0 87.65,320.0 87.90,320.0 88.15,320.0 88.40,319.9 88.65,319.7 88.90,319.7 89.15,319.6 89.40,319.6 89.65,319.5 89.90,319.4 90.15,319.4 90.40,319.2 90.65,319.1 90.90,318.9 91.15,318.6 91.40,318.4 91.65,318.1 91.90,317.8 92.15,317.7 92.40,317.2 92.65,316.8 92.90,316.0 93.15,315.3 93.40,314.2 93.65,312.8 93.90,311.0 94.15,308.2 94.40,304.2 94.65,298.3 94.90,289.7 95.15,278.2 95.40,266.9 95.60,263.0 95.65,263.2 95.90,270.8 96.15,282.8 96.40,293.2 96.65,300.4 96.90,305.3 97.15,308.5 97.40,310.8 97.65,312.3 97.90,313.5 98.15,314.2 98.40,315.0 98.65,315.3 98.90,315.4 99.15,315.4 99.40,315.3 99.65,315.2 99.90,314.8 100.15,314.4 100.40,313.8 100.65,313.0 100.90,311.7 101.15,310.2 101.40,308.0 101.65,304.8 101.90,300.1 102.15,293.3 102.40,283.3 102.65,269.2 102.90,252.8 103.15,242.3 103.20,241.9 103.40,247.0 103.65,262.3 103.90,277.8 104.15,289.5 104.40,297.4 104.65,302.6 104.90,306.2 105.15,308.7 105.40,310.3 105.65,311.4 105.90,312.1 106.15,312.5 106.40,312.7 106.65,312.4 106.90,311.9 107.15,310.8 107.40,308.9 107.65,305.7 107.90,301.0 108.15,294.6 108.40,288.2 108.60,286.1 108.65,286.4 108.90,291.0 109.15,298.2 109.40,304.3 109.65,308.7 109.90,311.7 110.15,313.7 110.40,315.2 110.65,316.2 110.90,317.0 111.15,317.6 111.40,318.0 111.65,318.4 111.90,318.6 112.15,318.9 112.40,319.1 112.65,319.2 112.90,319.4 113.15,319.6 113.40,319.7 113.65,319.7 113.90,319.6 114.15,319.7 114.40,319.8 114.65,319.8 114.90,319.9 115.15,319.9 115.40,320.0 115.65,319.8 115.90,320.0 116.15,319.9 116.40,320.0 116.65,319.9 116.90,319.9 117.15,320.0 117.40,320.1 117.65,320.2 117.90,320.1 118.15,320.2 118.40,320.2 118.65,320.2 118.90,320.4 119.15,320.6 119.40,320.6 119.65,320.6 119.90,320.7 120.15,320.9 120.40,320.8 120.65,320.7 120.90,320.9 121.15,320.8 121.40,320.9 121.65,320.9 121.90,321.0 122.15,321.0 122.40,320.9 122.65,320.9 122.90,320.9 123.15,320.9 123.40,320.8 123.65,320.7 123.90,320.8 124.15,320.8 124.40,320.7 124.65,320.5 124.90,320.5 125.15,320.4 125.40,320.4 125.65,320.2 125.90,320.1 126.15,319.9 126.40,319.8 126.65,319.5 126.90,319.5 127.00,319.5 127.15,319.6 127.40,319.8 127.65,320.0 127.90,320.3 128.15,320.4 128.40,320.5 128.65,320.4 128.90,320.5 129.15,320.5 129.40,320.4 129.65,320.4 129.90,320.4 130.15,320.3 130.40,320.3 130.65,320.3 130.90,320.3 131.15,320.3 131.40,320.4 131.65,320.5 131.90,320.3 132.15,320.4 132.40,320.3 132.65,320.3 132.90,320.2 133.15,320.1 133.40,320.1 133.65,319.9 133.90,319.8 134.15,319.6 134.40,319.4 134.65,319.3 134.90,318.9 135.15,318.5 135.40,318.0 135.65,317.4 135.90,316.6 136.15,315.5 136.40,314.3 136.65,312.4 136.90,309.8 137.15,306.3 137.40,301.7 137.65,296.8 137.90,293.4 138.00,292.9 138.15,293.7 138.40,297.7 138.65,302.7 138.90,307.1 139.15,310.6 139.40,313.2 139.65,314.9 139.90,316.2 140.15,317.0 140.40,317.7 140.65,318.4 140.90,318.7 141.15,319.1 141.40,319.5 141.65,319.6 141.90,319.8 142.15,320.0 142.40,320.1 142.65,320.1 142.90,320.3 143.15,320.3 143.40,320.4 143.65,320.6 143.90,320.6 144.15,320.6 144.40,320.7 144.65,320.7 144.90,320.6 145.15,320.7 145.40,320.7 145.65,320.6 145.90,320.6 146.15,320.5 146.40,320.5 146.65,320.6 146.90,320.5 147.15,320.6 147.40,320.6 147.65,320.6 147.90,320.6 148.15,320.7 148.40,320.7 148.65,320.8 148.90,320.9 149.15,320.9 149.40,321.0 149.65,321.0 149.90,321.1 150.15,321.2 150.40,321.3 150.65,321.1 150.90,321.1 151.15,321.1 151.40,321.1 151.65,321.0 151.90,321.2 152.15,321.1 152.40,321.1 152.65,321.1 152.90,321.1 153.15,321.1 153.40,320.9 153.65,320.9 153.90,320.9 154.15,321.0 154.40,321.1 154.65,321.0 154.90,321.1 155.15,321.1 155.40,321.1 155.65,321.2 155.90,321.1 156.15,321.2 156.40,321.2 156.65,321.2 156.90,321.2 157.15,321.3 157.40,321.2 157.65,321.1 157.90,321.0 158.15,321.1 158.40,321.1 158.65,321.1 158.90,321.0 159.15,321.0 159.40,321.0 159.65,320.9 159.90,320.9 160.15,320.9 160.40,320.9 160.65,321.0 160.90,321.0 161.15,321.1 161.40,321.1 161.65,321.1 161.90,321.2 162.15,321.1 162.40,321.3 162.65,321.2 162.90,321.2 163.15,321.1 163.40,321.3 163.65,321.3 163.90,321.3 164.15,321.3 164.40,321.4 164.65,321.2 164.90,321.3 165.15,321.2 165.40,321.1 165.65,321.2 165.90,321.0 166.15,321.0 166.40,320.9 166.65,320.9 166.90,320.8 167.15,320.8 167.40,320.8 167.65,320.8 167.90,320.8 168.15,320.9 168.40,320.9 168.65,320.9 168.90,321.0 169.15,321.0 169.40,321.0 169.65,321.0 169.90,321.1 170.15,321.0 170.40,321.0 170.65,321.0 170.90,321.0 171.15,321.0 171.40,320.9 171.65,320.8 171.90,320.7 172.15,320.6 172.40,320.5 172.65,320.5 172.90,320.5 173.15,320.4 173.40,320.3 173.65,320.2 173.90,320.2 174.15,320.0 174.40,319.8 174.65,319.6 174.90,319.5 175.15,319.2 175.40,319.0 175.65,318.6 175.90,318.3 176.15,317.8 176.40,317.2 176.65,316.4 176.90,315.3 177.15,313.9 177.40,311.9 177.65,309.7 177.90,307.3 178.15,305.2 178.40,304.4 178.65,305.2 178.90,307.1 179.15,309.6 179.40,311.9 179.65,313.7 179.90,315.1 180.15,316.2 180.40,316.9 180.65,317.4 180.90,317.8 181.15,318.0 181.40,318.1 181.65,318.2 181.90,318.3 182.15,318.2 182.40,318.2 182.65,317.9 182.90,317.6 183.15,317.2 183.40,316.6 183.65,315.8 183.90,314.9 184.15,313.7 184.40,312.0 184.65,309.5 184.90,306.0 185.15,301.0 185.40,294.3 185.65,286.8 185.90,281.6 186.00,281.2 186.15,282.4 186.40,288.5 186.65,295.9 186.90,302.4 187.15,307.2 187.40,310.6 187.65,313.0 187.90,314.8 188.15,316.0 188.40,317.0 188.65,317.8 188.90,318.4 189.15,318.9 189.40,319.2 189.65,319.4 189.90,319.6 190.15,319.9 190.40,320.0 190.65,320.1 190.90,320.0 191.15,320.1 191.40,320.1 191.65,320.2 191.90,320.2 192.15,320.2 192.40,320.1 192.65,320.3 192.90,320.4 193.15,320.4 193.40,320.7 193.65,320.6 193.90,320.6 194.15,320.6 194.40,320.8 194.65,320.8 194.90,320.9 195.15,320.9 195.40,320.8 195.65,320.9 195.90,320.9 196.15,320.9 196.40,320.9 196.65,321.1 196.90,321.0 197.15,321.1 197.40,321.3 197.65,321.4 197.90,321.4 198.15,321.4 198.40,321.4 198.65,321.5 198.90,321.6 199.15,321.6 199.40,321.6 199.65,321.7 199.90,321.7 200.15,321.6 200.40,321.5 200.65,321.5 200.90,321.5 201.15,321.6 201.40,321.7 201.65,321.7 201.90,321.6 202.15,321.6 202.40,321.6 202.65,321.6 202.90,321.7 203.15,321.7 203.40,321.6 203.65,321.7 203.90,321.8 204.15,321.8 204.40,321.7 204.65,321.7 204.90,321.7 205.15,321.8 205.40,321.8 205.65,321.7 205.90,321.7 206.15,321.6 206.40,321.6 206.65,321.6 206.90,321.5 207.15,321.5 207.40,321.3 207.65,321.3 207.90,321.4 208.15,321.4 208.40,321.5 208.65,321.5 208.90,321.6 209.15,321.5 209.40,321.5 209.65,321.7 209.90,321.7 210.15,321.8 210.40,321.8 210.65,321.8 210.90,321.9 211.15,321.9 211.40,322.0 211.65,321.9 211.90,321.8 212.15,321.8 212.40,321.7 212.65,321.7 212.90,321.8 213.15,321.8 213.40,321.7 213.65,321.8 213.90,321.8 214.15,321.8 214.40,321.8 214.65,321.7 214.90,321.7 215.15,321.6 215.40,321.7 215.65,321.7 215.90,321.7 216.15,321.8 216.40,321.6 216.65,321.5 216.90,321.5 217.15,321.5 217.40,321.6 217.65,321.6 217.90,321.5 218.15,321.5 218.40,321.4 218.65,321.4 218.90,321.3 219.15,321.1 219.40,320.9 219.65,320.7 219.90,320.7 220.00,320.7 220.15,320.7 220.40,320.8 220.65,321.0 220.90,321.1 221.15,321.4 221.40,321.5 221.65,321.6 221.90,321.7 222.15,321.7 222.40,321.7 222.65,321.8 222.90,321.7 223.15,321.8 223.40,321.8 223.65,321.9 223.90,321.9 224.15,322.0 224.40,322.0 224.65,322.0 224.90,322.0 225.15,322.1 225.40,322.1 225.65,322.1 225.90,322.1 226.15,322.1 226.40,322.1 226.65,322.1 226.90,322.1 227.15,322.0 227.40,322.0 227.65,321.9 227.90,321.9 228.15,321.8 228.40,321.8 228.65,321.7 228.90,321.7 229.15,321.8 229.40,321.7 229.65,321.8 229.90,321.9 230.15,321.7 230.40,321.6 230.65,321.7 230.90,321.8 231.15,321.7 231.40,321.8 231.65,321.8 231.90,321.7 232.15,321.8 232.40,321.9 232.65,321.9 232.90,321.9 233.15,322.0 233.40,321.9 233.65,321.8 233.90,322.0 234.15,321.9 234.40,321.9 234.65,322.0 234.90,322.0 235.15,322.0 235.40,322.1 235.65,322.2 235.90,322.2 236.15,322.2 236.40,322.1 236.65,322.1 236.90,322.1 237.15,322.2 237.40,322.1 237.65,322.2 237.90,322.2 238.15,322.1 238.40,322.2 238.65,322.1 238.90,322.2 239.15,322.2 239.40,322.0 239.65,322.0 239.90,322.0 240.15,322.0 240.40,322.1 240.65,322.1 240.90,322.2 241.15,322.2 241.40,322.2 241.65,322.3 241.90,322.2 242.15,322.4 242.40,322.2 242.65,322.1 242.90,322.3 243.15,322.4 243.40,322.5 243.65,322.5 243.90,322.4 244.15,322.4 244.40,322.3 244.65,322.4 244.90,322.4 245.15,322.3 245.40,322.4 245.65,322.4 245.90,322.7 246.15,322.7 246.40,322.6 246.65,322.5 246.90,322.3 247.15,322.4 247.40,322.5 247.65,322.4 247.90,322.3 248.15,322.2 248.40,322.3 248.65,322.2 248.90,322.2 249.15,322.1 249.40,322.2 249.65,322.1 249.90,322.2 250.15,322.2 250.40,322.4 250.65,322.3 250.90,322.2 251.15,322.2 251.40,322.4 251.65,322.3 251.90,322.3 252.15,322.3 252.40,322.1 252.65,322.0 252.90,322.0 253.15,322.0 253.40,322.0 253.65,322.0 253.90,322.1 254.15,322.1 254.40,322.0 254.65,321.9 254.90,321.8 255.15,322.0 255.40,321.9 255.65,321.9 255.90,321.8 256.15,321.7 256.40,321.5 256.65,321.2 256.90,321.0 257.15,320.4 257.40,319.5 257.65,318.7 257.90,318.2 258.00,318.2 258.15,318.4 258.40,319.0 258.65,319.9 258.90,320.6 259.15,321.1 259.40,321.5 259.65,321.7 259.90,321.9 260.15,322.0 260.40,322.2 260.65,322.2 260.90,322.2 261.15,322.1 261.40,322.1 261.65,322.2 261.90,322.0 262.15,322.0 262.40,322.0 262.65,322.1 262.90,321.9 263.15,321.7 263.40,321.6 263.65,321.2 263.90,320.9 264.15,320.5 264.40,320.2 264.65,320.5 264.90,320.8 265.15,321.2 265.40,321.7 265.65,321.8 265.90,321.9 266.15,321.8 266.40,321.9 266.65,322.0 266.90,322.0 267.15,321.9 267.40,321.8 267.65,321.7 267.90,321.7 268.15,321.6 268.40,321.7 268.65,321.6 268.90,321.5 269.15,321.5 269.40,321.6 269.65,321.6 269.90,321.6 270.15,321.5 270.40,321.4 270.65,321.4 270.90,321.4 271.15,321.5 271.40,321.5 271.65,321.5 271.90,321.3 272.15,321.2 272.40,320.8 272.65,320.4 272.90,320.0 273.00,320.0 273.15,319.9 273.40,320.4 273.65,320.8 273.90,321.2 274.15,321.4 274.40,321.5 274.65,321.5 274.90,321.5 275.15,321.6 275.40,321.6 275.65,321.5 275.90,321.6 276.15,321.4 276.40,321.4 276.65,321.4 276.90,321.2 277.15,320.9 277.40,320.6 277.60,320.5 277.65,320.5 277.90,320.9 278.15,321.2 278.40,321.6 278.65,321.7 278.90,321.9 279.15,321.8 279.40,322.0 279.65,322.1 279.90,322.1 280.15,322.1 280.40,322.1 280.65,322.2 280.90,322.2 281.15,322.2 281.40,322.2 281.65,322.2 281.90,322.2 282.15,322.2 282.40,322.2 282.65,322.3 282.90,322.3 283.15,322.3 283.40,322.1 283.65,322.1 283.90,322.3 284.15,322.3 284.40,322.2 284.65,322.3 284.90,322.2 285.15,322.2 285.40,322.2 285.65,322.2 285.90,322.3 286.15,322.3 286.40,322.4 286.65,322.4 286.90,322.6 287.15,322.5 287.40,322.5 287.65,322.6 287.90,322.7 288.15,322.6 288.40,322.5 288.65,322.5 288.90,322.5 289.15,322.6 289.40,322.5 289.65,322.4 289.90,322.3 290.15,322.2 290.40,322.2 290.65,322.2 290.90,322.0 291.15,321.9 291.40,321.8 291.65,321.7 291.90,321.7 292.15,321.6 292.40,321.3 292.65,321.0 292.90,320.8 293.00,320.8 293.15,321.0 293.40,321.2 293.65,321.5 293.90,321.7 294.15,321.8 294.40,321.8 294.65,321.8 294.90,321.8 295.15,321.8 295.40,321.8 295.65,321.8 295.90,321.9 296.15,321.9 296.40,321.8 296.65,321.7 296.90,321.8 297.15,321.6 297.40,321.7 297.65,321.7 297.90,321.8 298.15,321.8 298.40,321.8 298.65,321.8 298.90,321.8 299.15,321.7 299.40,321.6 299.65,321.5 299.90,321.3 300.15,321.4 300.40,321.4 300.65,321.5 300.90,321.3 301.15,321.0 301.40,320.8 301.65,320.6 301.90,320.2 302.15,319.7 302.40,319.2 302.65,318.3 302.90,317.0 303.15,315.0 303.40,312.2 303.65,308.7 303.90,305.9 304.00,305.5 304.15,306.0 304.40,309.1 304.65,312.5 304.90,315.2 305.15,317.0 305.40,318.1 305.65,318.9 305.90,319.5 306.15,319.9 306.40,320.2 306.65,320.5 306.90,320.7 307.15,321.0 307.40,321.1 307.65,321.3 307.90,321.3 308.15,321.4 308.40,321.4 308.65,321.4 308.90,321.5 309.15,321.5 309.40,321.4 309.65,321.3 309.90,321.4 310.15,321.4 310.40,321.3 310.65,321.2 310.90,321.2 311.15,321.2 311.40,321.1 311.65,321.1 311.90,321.0 312.15,320.9 312.40,320.8 312.65,320.7 312.90,320.7 313.15,320.7 313.40,320.5 313.65,320.4 313.90,320.5 314.15,320.2 314.40,320.0 314.65,319.7 314.90,319.4 315.15,319.2 315.40,318.9 315.65,318.5 315.90,317.9 316.15,317.2 316.40,316.5 316.65,315.3 316.90,314.2 317.15,312.7 317.40,311.0 317.65,309.1 317.90,307.3 318.15,305.6 318.40,304.6 318.50,304.2 318.65,304.0 318.90,304.3 319.15,304.9 319.40,305.5 319.65,305.6 319.90,305.3 320.15,303.9 320.40,301.1 320.65,296.6 320.90,289.2 321.15,279.0 321.40,268.9 321.60,265.6 321.65,265.9 321.90,273.3 322.15,284.9 322.40,295.0 322.65,302.1 322.90,307.1 323.15,310.4 323.40,312.7 323.65,314.4 323.90,315.6 324.15,316.6 324.40,317.4 324.65,318.2 324.90,318.6 325.15,319.1 325.40,319.4 325.65,319.6 325.90,319.6 326.15,319.8 326.40,319.6 326.65,319.5 326.90,319.2 327.15,318.8 327.40,318.2 327.65,317.5 327.90,317.0 328.00,316.7 328.15,316.9 328.40,317.9 328.65,318.7 328.90,319.5 329.15,320.2 329.40,320.5 329.65,320.8 329.90,321.0 330.15,321.2 330.40,321.4 330.65,321.4 330.90,321.4 331.15,321.4 331.40,321.4 331.65,321.5 331.90,321.4 332.15,321.4 332.40,321.3 332.65,321.1 332.90,321.1 333.15,321.1 333.40,321.1 333.65,320.9 333.90,320.7 334.15,320.7 334.40,320.6 334.65,320.5 334.90,320.3 335.15,320.0 335.40,319.8 335.65,319.7 335.90,319.7 336.00,319.8 336.15,319.8 336.40,319.9 336.65,320.3 336.90,320.6 337.15,321.0 337.40,321.0 337.65,321.3 337.90,321.4 338.15,321.5 338.40,321.6 338.65,321.7 338.90,321.7 339.15,321.6 339.40,321.6 339.65,321.7 339.90,321.8 340.15,321.8 340.40,321.8 340.65,321.9 340.90,322.0 341.15,321.9 341.40,321.9 341.65,322.0 341.90,322.1 342.15,322.1 342.40,322.1 342.65,322.2 342.90,322.1 343.15,322.0 343.40,322.0 343.65,321.9 343.90,322.0 344.15,321.9 344.40,321.9 344.65,322.0 344.90,321.9 345.15,321.9 345.40,321.8 345.65,321.8 345.90,321.7 346.15,321.7 346.40,321.8 346.65,321.8 346.90,321.8 347.15,321.8 347.40,321.7 347.65,321.7 347.90,321.6 348.15,321.4 348.40,321.3 348.65,321.2 348.90,320.9 349.15,320.8 349.40,320.6 349.65,320.3 349.90,320.0 350.15,319.6 350.40,319.2 350.65,318.9 350.90,318.8 351.00,318.6 351.15,318.7 351.40,319.0 351.65,319.4 351.90,319.7 352.15,320.2 352.40,320.5 352.65,320.8 352.90,321.1 353.15,321.2 353.40,321.4 353.65,321.6 353.90,321.7 354.15,321.6 354.40,321.9 354.65,322.0 354.90,322.0 355.15,322.0 355.40,322.0 355.65,322.0 355.90,321.8 356.15,321.7 356.40,321.6 356.65,321.7 356.90,321.8 357.15,321.8 357.40,321.7 357.65,321.7 357.90,321.5 358.15,321.3 358.40,321.1 358.65,321.0 358.90,320.7 359.15,320.4 359.40,320.1 359.65,319.8 359.90,319.4 360.15,319.0 360.40,318.6 360.60,318.5 360.65,318.5 360.90,318.7 361.15,319.0 361.40,319.2 361.65,319.6 361.90,319.9 362.15,320.4 362.40,320.6 362.65,320.8 362.90,320.9 363.15,321.2 363.40,321.2 363.65,321.4 363.90,321.4 364.15,321.4 364.40,321.4 364.65,321.5 364.90,321.5 365.15,321.6 365.40,321.6 365.65,321.6 365.90,321.6 366.15,321.7 366.40,321.8 366.65,321.7 366.90,321.6 367.15,321.5 367.40,321.5 367.65,321.4 367.90,321.3 368.15,321.2 368.40,321.0 368.65,320.7 368.90,320.6 369.15,320.3 369.40,320.3 369.65,320.3 369.90,320.5 370.15,320.6 370.40,320.8 370.65,321.0 370.90,321.1 371.15,321.2 371.40,321.3 371.65,321.2 371.90,321.2 372.15,321.1 372.40,320.9 372.65,320.7 372.90,320.5 373.15,320.2 373.40,319.9 373.65,319.7 373.90,319.7 374.00,319.6 374.15,319.6 374.40,319.8 374.65,319.8 374.90,320.1 375.15,320.3 375.40,320.5 375.65,320.7 375.90,321.0 376.15,321.1 376.40,321.2 376.65,321.4 376.90,321.4 377.15,321.3 377.40,321.5 377.65,321.6 377.90,321.5 378.15,321.6 378.40,321.6 378.65,321.7 378.90,321.8 379.15,321.8 379.40,321.8 379.65,321.9 379.90,322.0 380.15,322.0 380.40,322.0 380.65,322.2 380.90,322.0 381.15,322.0 381.40,321.9 381.65,321.9 381.90,322.0 382.15,321.9 382.40,321.8 382.65,322.0 382.90,321.9 383.15,321.6 383.40,321.6 383.65,321.5 383.90,321.2 384.15,321.0 384.40,320.9 384.65,320.7 384.90,320.9 385.00,320.9 385.15,320.7 385.40,320.8 385.65,320.8 385.90,320.9 386.15,320.9 386.40,321.1 386.65,321.1 386.90,321.2 387.15,321.3 387.40,321.4 387.65,321.5 387.90,321.5 388.15,321.5 388.40,321.4 388.65,321.6 388.90,321.7 389.15,321.7 389.40,321.5 389.65,321.6 389.90,321.5 390.15,321.4 390.40,321.2 390.65,321.1 390.90,320.9 391.15,320.7 391.40,320.6 391.65,320.3 391.90,320.4 392.00,320.4 392.15,320.2 392.40,320.3 392.65,320.5 392.90,320.7 393.15,320.9 393.40,321.0 393.65,321.2 393.90,321.3 394.15,321.4 394.40,321.5 394.65,321.5 394.90,321.6 395.15,321.6 395.40,321.5 395.65,321.7 395.90,321.7 396.15,321.7 396.40,321.6 396.65,321.7 396.90,321.6 397.15,321.5 397.40,321.5 397.65,321.2 397.90,321.0 398.15,320.8 398.40,320.6 398.65,320.5 398.90,320.4 399.00,320.3 399.15,320.4 399.40,320.4 399.65,320.6 399.90,320.6 400.15,320.9 400.40,321.0 400.65,321.2 400.90,321.5 401.15,321.6 401.40,321.8 401.65,321.8 401.90,321.9 402.15,322.0 402.40,322.0 402.65,322.0 402.90,322.1 403.15,322.2 403.40,322.3 403.65,322.3 403.90,322.3 404.15,322.2 404.40,322.2 404.65,322.3 404.90,322.3 405.15,322.4 405.40,322.4 405.65,322.3 405.90,322.4 406.15,322.4 406.40,322.4 406.65,322.4 406.90,322.5 407.15,322.4 407.40,322.5 407.65,322.5 407.90,322.4 408.15,322.5 408.40,322.5 408.65,322.3 408.90,322.2 409.15,322.1 409.40,322.1 409.65,322.1 409.90,321.9 410.15,321.9 410.40,321.7 410.65,321.5 410.90,321.3 411.15,321.1 411.40,321.1 411.65,321.0 411.90,320.9 412.00,320.9 412.15,321.0 412.40,321.2 412.65,321.3 412.90,321.4 413.15,321.6 413.40,321.7 413.65,321.8 413.90,322.0 414.15,321.9 414.40,322.0 414.65,321.9 414.90,321.9 415.15,321.9 415.40,322.0 415.65,322.0 415.90,321.9 416.15,321.9 416.40,321.9 416.65,321.9 416.90,321.9 417.15,321.9 417.40,322.0 417.65,322.1 417.90,322.0 418.15,321.9 418.40,321.9 418.65,321.9 418.90,321.9 419.15,321.9 419.40,321.9 419.65,322.0 419.90,322.0 420.15,321.8 420.40,321.8 420.65,321.8 420.90,321.9 421.15,322.0 421.40,322.1 421.65,322.3 421.90,322.1 422.15,322.0 422.40,322.0 422.65,322.0 422.90,322.0 423.15,322.0 423.40,321.9 423.65,322.1 423.90,322.0 424.15,322.0 424.40,321.8 424.65,321.9 424.90,321.8 425.15,321.7 425.40,321.8 425.65,321.9 425.90,321.9 426.15,321.9 426.40,321.8 426.65,321.7 426.90,321.7 427.15,321.7 427.40,321.6 427.65,321.6 427.90,321.6 428.15,321.6 428.40,321.6 428.65,321.7 428.90,321.7 429.15,321.7 429.40,321.7 429.65,321.7 429.90,321.7 430.15,321.7 430.40,321.7 430.65,321.7 430.90,321.7 431.15,321.7 431.40,321.5 431.65,321.5 431.90,321.3 432.15,321.1 432.40,321.0 432.65,320.6 432.90,320.6 433.15,320.5 433.40,320.4 433.60,320.4 433.65,320.4 433.90,320.4 434.15,320.6 434.40,320.8 434.65,321.1 434.90,321.1 435.15,321.4 435.40,321.5 435.65,321.5 435.90,321.7 436.15,321.7 436.40,321.9 436.65,322.0 436.90,322.0 437.15,322.1 437.40,322.1 437.65,322.2 437.90,322.2 438.15,322.2 438.40,322.1 438.65,322.0 438.90,322.1 439.15,322.1 439.40,322.2 439.65,322.2 439.90,322.1 440.15,322.0 440.40,322.0 440.65,321.8 440.90,321.8 441.15,321.7 441.40,321.7 441.65,321.5 441.90,321.5 442.15,321.3 442.40,321.1 442.65,320.7 442.90,320.3 443.15,319.9 443.40,319.4 443.65,319.0 443.90,318.7 444.15,318.4 444.40,318.2 444.65,318.3 444.90,318.4 445.15,318.8 445.40,319.2 445.65,319.4 445.90,319.7 446.15,319.8 446.40,319.9 446.65,319.8 446.90,319.4 447.15,318.9 447.40,318.3 447.60,318.1 447.65,318.3 447.90,318.8 448.15,319.6 448.40,320.3 448.65,320.8 448.90,321.0 449.15,321.3 449.40,321.5 449.65,321.5 449.90,321.6 450.15,321.6 450.40,321.6 450.65,321.5 450.90,321.5 451.15,321.4 451.40,321.4 451.65,321.4 451.90,321.3 452.15,321.3 452.40,321.3 452.65,321.2 452.90,321.0 453.15,320.9 453.40,320.7 453.65,320.6 453.90,320.4 454.15,320.1 454.40,319.7 454.65,319.3 454.90,318.9 455.15,318.7 455.40,318.6 455.65,318.7 455.90,319.0 456.15,319.3 456.40,319.6 456.65,320.0 456.90,320.3 457.15,320.4 457.40,320.5 457.65,320.7 457.90,320.8 458.15,321.0 458.40,321.1 458.65,321.1 458.90,321.2 459.15,321.2 459.40,321.2 459.65,321.3 459.90,321.4 460.15,321.4 460.40,321.4 460.65,321.5 460.90,321.5 461.15,321.5 461.40,321.5 461.65,321.4 461.90,321.4 462.15,321.2 462.40,321.2 462.65,321.1 462.90,321.0 463.15,320.7 463.40,320.6 463.65,320.4 463.90,320.2 464.15,320.2 464.40,320.0 464.65,320.1 464.90,320.2 465.15,320.4 465.40,320.6 465.65,320.8 465.90,320.8 466.15,320.9 466.40,320.9 466.65,320.9 466.90,320.7 467.15,320.5 467.40,320.4 467.65,320.2 467.90,320.0 468.15,319.6 468.40,319.4 468.65,318.9 468.90,318.4 469.15,317.7 469.40,317.1 469.65,316.5 469.90,316.1 470.00,316.2 470.15,316.3 470.40,316.7 470.65,317.2 470.90,317.9 471.15,318.7 471.40,319.3 471.65,319.6 471.90,320.0 472.15,320.3 472.40,320.5 472.65,320.7 472.90,320.9 473.15,321.1 473.40,321.2 473.65,321.3 473.90,321.3 474.15,321.3 474.40,321.4 474.65,321.3 474.90,321.4 475.15,321.4 475.40,321.4 475.65,321.2 475.90,321.3 476.15,321.2 476.40,321.2 476.65,321.1 476.90,321.1 477.15,321.1 477.40,321.2 477.65,321.0 477.90,320.9 478.15,320.8 478.40,320.5 478.65,320.1 478.90,319.8 479.15,319.3 479.40,318.6 479.65,317.6 479.90,316.4 480.15,315.1 480.40,313.9 480.60,313.5 480.65,313.4 480.90,314.1 481.15,315.3 481.40,316.6 481.65,317.8 481.90,318.8 482.15,319.6 482.40,320.1 482.65,320.5 482.90,320.8 483.15,321.1 483.40,321.2 483.65,321.3 483.90,321.4 484.15,321.5 484.40,321.5 484.65,321.7 484.90,321.7 485.15,321.9 485.40,321.9 485.65,321.9 485.90,321.8 486.15,321.8 486.40,321.8 486.65,321.8 486.90,322.0 487.15,321.8 487.40,321.8 487.65,321.7 487.90,321.6 488.15,321.4 488.40,321.3 488.65,321.0 488.90,320.8 489.15,320.6 489.40,320.5 489.65,320.3 489.90,320.3 490.00,320.1 490.15,320.1 490.40,320.3 490.65,320.5 490.90,320.9 491.15,321.1 491.40,321.3 491.65,321.6 491.90,321.6 492.15,321.7 492.40,321.7 492.65,321.7 492.90,321.7 493.15,321.7 493.40,321.8 493.65,321.8 493.90,322.0 494.15,322.0 494.40,322.0 494.65,322.0 494.90,322.0 495.15,322.1 495.40,322.2 495.65,322.3 495.90,322.4 496.15,322.4 496.40,322.4 496.65,322.5 496.90,322.5 497.15,322.3 497.40,322.3 497.65,322.4 497.90,322.4 498.15,322.4 498.40,322.4 498.65,322.4 498.90,322.4 499.15,322.4 499.40,322.4 499.65,322.4 499.90,322.3 500.15,322.3 500.40,322.4 500.65,322.5 500.90,322.4 501.15,322.4 501.40,322.4 501.65,322.4 501.90,322.4 502.15,322.3 502.40,322.3 502.65,322.3 502.90,322.1 503.15,322.2 503.40,322.2 503.65,322.3 503.90,322.3 504.15,322.1 504.40,322.1 504.65,322.3 504.90,322.2 505.15,322.3 505.40,322.3 505.65,322.4 505.90,322.3 506.15,322.3 506.40,322.4 506.65,322.3 506.90,322.3 507.15,322.2 507.40,322.1 507.65,322.1 507.90,321.9 508.15,321.6 508.40,321.4 508.65,321.3 508.90,321.0 509.15,320.7 509.40,320.4 509.65,320.2 509.90,320.0 510.00,320.1 510.15,320.1 510.40,320.1 510.65,320.3 510.90,320.5 511.15,320.8 511.40,320.9 511.65,321.0 511.90,321.0 512.15,321.0 512.40,321.0 512.65,321.0 512.90,321.0 513.15,320.8 513.40,320.6 513.65,320.4 513.90,320.3 514.15,320.0 514.40,319.7 514.65,319.2 514.90,318.9 515.15,318.6 515.40,318.5 515.60,318.4 515.65,318.4 515.90,318.6 516.15,319.0 516.40,319.3 516.65,319.8 516.90,320.3 517.15,320.5 517.40,320.8 517.65,321.1 517.90,321.3 518.15,321.5 518.40,321.5 518.65,321.4 518.90,321.6 519.15,321.8 519.40,321.8 519.65,321.9 519.90,321.9 520.15,321.9 520.40,321.9 520.65,321.9 520.90,321.9 521.15,322.0 521.40,321.9 521.65,322.0 521.90,322.0 522.15,322.1 522.40,322.1 522.65,322.0 522.90,322.0 523.15,322.0 523.40,322.1 523.65,322.1 523.90,322.1 524.15,322.1 524.40,322.1 524.65,322.0 524.90,321.9 525.15,321.8 525.40,321.9 525.65,321.8 525.90,321.6 526.15,321.7 526.40,321.6 526.65,321.4 526.90,321.3 527.15,321.2 527.40,321.2 527.65,321.0 527.90,320.7 528.15,320.6 528.40,320.5 528.65,320.3 528.90,320.4 529.00,320.3 529.15,320.3 529.40,320.5 529.65,320.6 529.90,321.0 530.15,321.3 530.40,321.5 530.65,321.6 530.90,321.8 531.15,322.1 531.40,322.1 531.65,322.1 531.90,322.2 532.15,322.2 532.40,322.3 532.65,322.4 532.90,322.3 533.15,322.4 533.40,322.2 533.65,322.2 533.90,322.2 534.15,322.2 534.40,322.3 534.65,322.2 534.90,322.2 535.15,322.3 535.40,322.3 535.65,322.3 535.90,322.4 536.15,322.3 536.40,322.4 536.65,322.4 536.90,322.5"/>
<polyline stroke="#0000ff" points="45.90,264.5 46.15,264.4 46.40,264.5 46.65,264.5 46.90,264.6 47.15,264.7 47.40,264.6 47.65,264.7 47.90,264.7 48.15,264.7 48.40,264.7 48.65,264.7 48.90,264.9 49.15,264.9 49.40,264.9 49.65,265.0 49.90,264.9 50.15,264.9 50.40,264.8 50.65,264.7 50.90,264.8 51.15,264.7 51.40,264.7 51.65,264.7 51.90,264.7 52.15,264.6 52.40,264.6 52.65,264.6 52.90,264.6 53.15,264.5 53.40,264.5 53.65,264.5 53.90,264.4 54.15,264.4 54.40,264.4 54.65,264.4 54.90,264.3 55.15,264.3 55.40,264.3 55.65,264.3 55.90,264.3 56.15,264.2 56.40,264.1 56.65,264.1 56.90,264.2 57.15,264.2 57.40,264.2 57.65,264.1 57.90,263.9 58.15,263.8 58.40,263.7 58.65,263.3 58.90,263.2 59.00,263.2 59.15,263.2 59.40,263.4 59.65,263.7 59.90,264.0 60.15,264.1 60.40,264.0 60.65,264.1 60.90,264.0 61.15,263.8 61.40,263.7 61.65,263.5 61.90,263.5 62.15,263.4 62.40,263.3 62.65,263.1 62.90,262.8 63.15,262.5 63.40,261.9 63.65,261.3 63.90,260.6 64.15,259.6 64.40,258.3 64.65,256.3 64.90,253.3 65.15,248.9 65.40,242.7 65.65,234.9 65.90,228.9 66.00,228.3 66.15,229.7 66.40,236.4 66.65,244.0 66.90,249.8 67.15,253.9 67.40,256.7 67.65,258.6 67.90,260.0 68.15,261.0 68.40,261.8 68.65,262.2 68.90,262.6 69.15,263.0 69.40,263.2 69.65,263.4 69.90,263.5 70.15,263.7 70.40,263.8 70.65,263.9 70.90,263.8 71.15,263.8 71.40,263.9 71.65,263.9 71.90,264.0 72.15,263.9 72.40,264.1 72.65,264.1 72.90,264.2 73.15,264.3 73.40,264.4 73.65,264.4 73.90,264.5 74.15,264.5 74.40,264.6 74.65,264.7 74.90,264.7 75.15,264.6 75.40,264.5 75.65,264.6 75.90,264.5 76.15,264.6 76.40,264.4 76.65,264.4 76.90,264.5 77.15,264.4 77.40,264.4 77.65,264.5 77.90,264.4 78.15,264.5 78.40,264.5 78.65,264.4 78.90,264.5 79.15,264.5 79.40,264.4 79.65,264.4 79.90,264.4 80.15,264.4 80.40,264.3 80.65,264.3 80.90,264.3 81.15,264.2 81.40,264.1 81.65,264.1 81.90,264.0 82.15,264.1 82.40,263.9 82.65,263.7 82.90,263.5 83.15,262.9 83.40,262.5 83.60,262.2 83.65,262.3 83.90,262.7 84.15,263.2 84.40,263.8 84.65,264.2 84.90,264.5 85.15,264.6 85.40,264.6 85.65,264.7 85.90,264.7 86.15,264.7 86.40,264.7 86.65,264.7 86.90,264.8 87.15,264.8 87.40,264.8 87.65,264.8 87.90,264.7 88.15,264.8 88.40,264.7 88.65,264.8 88.90,264.9 89.15,264.9 89.40,264.9 89.65,264.8 89.90,264.8 90.15,264.8 90.40,264.8 90.65,264.8 90.90,264.9 91.15,264.9 91.40,265.1 91.65,265.1 91.90,265.1 92.15,265.1 92.40,265.0 92.65,264.9 92.90,264.8 93.15,265.0 93.40,265.0 93.65,264.9 93.90,265.0 94.15,265.0 94.40,265.0 94.65,265.1 94.90,265.1 95.15,264.9 95.40,265.0 95.65,265.0 95.90,265.1 96.15,265.1 96.40,265.3 96.65,265.2 96.90,265.2 97.15,265.1 97.40,265.0 97.65,265.0 97.90,265.0 98.15,265.1 98.40,265.1 98.65,265.2 98.90,265.0 99.15,264.9 99.40,264.9 99.65,264.9 99.90,265.0 100.15,264.9 100.40,264.9 100.65,265.0 100.90,265.1 101.15,265.2 101.40,265.1 101.65,265.0 101.90,264.9 102.15,264.9 102.40,265.0 102.65,265.0 102.90,265.2 103.15,265.1 103.40,265.1 103.65,265.1 103.90,265.0 104.15,265.0 104.40,265.0 104.65,264.9 104.90,265.0 105.15,265.0 105.40,265.0 105.65,265.0 105.90,265.0 106.15,265.1 106.40,265.0 106.65,265.2 106.90,265.2 107.15,265.1 107.40,265.1 107.65,265.2 107.90,265.3 108.15,265.4 108.40,265.4 108.65,265.5 108.90,265.5 109.15,265.4 109.40,265.3 109.65,265.3 109.90,265.3 110.15,265.2 110.40,265.2 110.65,265.2 110.90,265.2 111.15,265.2 111.40,265.1 111.65,265.0 111.90,265.0 112.15,264.9 112.40,265.0 112.65,264.9 112.90,265.0 113.15,264.8 113.40,264.6 113.65,264.5 113.90,264.2 114.15,263.9 114.40,263.5 114.65,263.0 114.90,262.4 115.00,262.2 115.15,262.3 115.40,262.6 115.65,263.1 115.90,263.4 116.15,263.5 116.40,263.5 116.65,263.3 116.90,263.1 117.15,262.8 117.40,262.3 117.65,261.6 117.90,260.6 118.15,259.6 118.40,258.3 118.65,257.0 118.90,256.1 119.00,256.0 119.15,256.0 119.40,257.0 119.65,258.4 119.90,259.7 120.15,260.8 120.40,261.5 120.65,262.0 120.90,262.4 121.15,262.7 121.40,262.8 121.65,262.8 121.90,262.8 122.15,262.7 122.40,262.5 122.65,262.4 122.90,262.0 123.15,261.4 123.40,260.8 123.65,259.8 123.90,258.5 124.15,256.7 124.40,254.4 124.65,252.1 124.90,250.7 125.00,250.5 125.15,250.8 125.40,252.4 125.65,254.6 125.90,256.9 126.15,258.6 126.40,259.9 126.65,261.0 126.90,261.7 127.15,262.2 127.40,262.6 127.65,263.0 127.90,263.4 128.15,263.4 128.40,263.6 128.65,263.5 128.90,263.6 129.15,263.4 129.40,263.2 129.65,263.0 129.90,262.7 130.15,262.0 130.40,261.4 130.65,260.8 130.90,260.6 131.00,260.3 131.15,260.4 131.40,261.0 131.65,261.7 131.90,262.2 132.15,262.7 132.40,263.1 132.65,263.4 132.90,263.5 133.15,263.7 133.40,263.9 133.65,263.9 133.90,263.9 134.15,263.9 134.40,264.0 134.65,263.9 134.90,263.6 135.15,263.3 135.40,263.0 135.65,262.5 135.90,261.9 136.15,260.8 136.40,259.8 136.65,258.6 136.90,257.8 137.00,257.8 137.15,257.9 137.40,258.8 137.65,259.9 137.90,261.0 138.15,261.9 138.40,262.6 138.65,263.0 138.90,263.5 139.15,263.7 139.40,264.0 139.65,264.1 139.90,264.1 140.15,264.1 140.40,264.2 140.65,264.3 140.90,264.4 141.15,264.4 141.40,264.4 141.65,264.5 141.90,264.5 142.15,264.6 142.40,264.6 142.65,264.6 142.90,264.7 143.15,264.6 143.40,264.6 143.65,264.7 143.90,264.8 144.15,264.7 144.40,264.6 144.65,264.5 144.90,264.5 145.15,264.3 145.40,264.2 145.65,264.1 145.90,263.7 146.15,263.1 146.40,262.3 146.65,261.0 146.90,259.8 147.15,258.9 147.20,258.8 147.40,259.3 147.65,260.7 147.90,262.0 148.15,262.8 148.40,263.5 148.65,264.0 148.90,264.2 149.15,264.4 149.40,264.5 149.65,264.5 149.90,264.6 150.15,264.6 150.40,264.6 150.65,264.7 150.90,264.7 151.15,264.6 151.40,264.6 151.65,264.7 151.90,264.7 152.15,264.5 152.40,264.6 152.65,264.6 152.90,264.6 153.15,264.6 153.40,264.6 153.65,264.5 153.90,264.4 154.15,264.3 154.40,264.2 154.65,264.1 154.90,263.8 155.15,263.6 155.40,263.3 155.65,262.9 155.90,262.2 156.15,261.3 156.40,260.0 156.65,258.3 156.90,255.8 157.15,252.2 157.40,246.9 157.65,240.4 157.90,235.4 158.00,234.7 158.15,235.9 158.40,241.4 158.65,247.8 158.90,252.6 159.15,256.1 159.40,258.4 159.65,260.1 159.90,261.2 160.15,262.1 160.40,262.8 160.65,263.2 160.90,263.6 161.15,263.9 161.40,264.2 161.65,264.3 161.90,264.5 162.15,264.7 162.40,264.8 162.65,264.8 162.90,264.8 163.15,264.8 163.40,264.8 163.65,264.8 163.90,264.8 164.15,265.0 164.40,264.9 164.65,265.0 164.90,265.0 165.15,265.1 165.40,265.1 165.65,265.0 165.90,265.1 166.15,265.2 166.40,265.2 166.65,265.3 166.90,265.3 167.15,265.3 167.40,265.3 167.65,265.2 167.90,265.3 168.15,265.3 168.40,265.1 168.65,265.1 168.90,265.0 169.15,265.1 169.40,264.9 169.65,265.0 169.90,265.1 170.15,265.1 170.40,265.2 170.65,265.2 170.90,265.3 171.15,265.4 171.40,265.3 171.65,265.3 171.90,265.4 172.15,265.5 172.40,265.7 172.65,265.7 172.90,265.7 173.15,265.7 173.40,265.7 173.65,265.7 173.90,265.4 174.15,265.4 174.40,265.4 174.65,265.4 174.90,265.4 175.15,265.5 175.40,265.5 175.65,265.5 175.90,265.4 176.15,265.5 176.40,265.5 176.65,265.6 176.90,265.6 177.15,265.6 177.40,265.8 177.65,265.7 177.90,265.7 178.15,265.6 178.40,265.8 178.65,265.8 178.90,265.6 179.15,265.6 179.40,265.6 179.65,265.6 179.90,265.5 180.15,265.4 180.40,265.4 180.65,265.4 180.90,265.3 181.15,265.3 181.40,265.2 181.65,265.2 181.90,265.1 182.15,265.1 182.40,265.2 182.65,265.1 182.90,265.0 183.15,265.0 183.40,265.0 183.65,265.0 183.90,265.0 184.15,264.8 184.40,264.8 184.65,264.7 184.90,264.7 185.15,264.4 185.40,264.2 185.65,263.6 185.90,263.1 186.15,262.3 186.40,261.5 186.60,261.1 186.65,261.1 186.90,261.5 187.15,262.2 187.40,262.9 187.65,263.3 187.90,263.3 188.15,263.3 188.40,263.1 188.65,262.7 188.90,262.2 189.15,261.2 189.40,259.8 189.65,257.8 189.90,255.0 190.15,251.1 190.40,247.4 190.60,246.2 190.65,246.3 190.90,248.9 191.15,253.2 191.40,256.6 191.65,259.1 191.90,260.9 192.15,262.1 192.40,262.9 192.65,263.4 192.90,263.9 193.15,264.2 193.40,264.5 193.65,264.5 193.90,264.7 194.15,264.9 194.40,264.9 194.65,264.9 194.90,265.0 195.15,265.1 195.40,265.2 195.65,265.2 195.90,265.2 196.15,265.4 196.40,265.3 196.65,265.4 196.90,265.5 197.15,265.6 197.40,265.6 197.65,265.5 197.90,265.5 198.15,265.5 198.40,265.5 198.65,265.4 198.90,265.3 199.15,265.4 199.40,265.6 199.65,265.4 199.90,265.3 200.15,265.3 200.40,265.2 200.65,265.1 200.90,265.1 201.15,265.2 201.40,265.2 201.65,265.3 201.90,265.4 202.15,265.5 202.40,265.6 202.65,265.5 202.90,265.4 203.15,265.4 203.40,265.5 203.65,265.3 203.90,265.4 204.15,265.4 204.40,265.4 204.65,265.3 204.90,265.2 205.15,265.1 205.40,264.9 205.65,264.7 205.90,264.4 206.15,264.3 206.40,264.1 206.65,263.8 206.90,263.3 207.15,262.9 207.40,261.9 207.65,260.6 207.90,258.8 208.15,256.2 208.40,252.7 208.65,248.2 208.90,244.8 209.00,244.3 209.15,245.2 209.40,249.0 209.65,253.4 209.90,256.8 210.15,259.2 210.40,260.8 210.65,261.9 210.90,262.8 211.15,263.4 211.40,263.7 211.65,263.9 211.90,264.1 212.15,264.3 212.40,264.6 212.65,264.6 212.90,264.7 213.15,264.7 213.40,264.8 213.65,264.9 213.90,265.0 214.15,265.1 214.40,265.2 214.65,265.2 214.90,265.2 215.15,265.2 215.40,265.2 215.65,265.3 215.90,265.3 216.15,265.3 216.40,265.4 216.65,265.4 216.90,265.4 217.15,265.3 217.40,265.2 217.65,265.1 217.90,265.1 218.15,265.2 218.40,265.3 218.65,265.3 218.90,265.4 219.15,265.4 219.40,265.3 219.65,265.4 219.90,265.3 220.15,265.3 220.40,265.3 220.65,265.3 220.90,265.3 221.15,265.4 221.40,265.4 221.65,265.3 221.90,265.2 222.15,265.2 222.40,265.2 222.65,265.2 222.90,265.1 223.15,265.0 223.40,265.1 223.65,265.2 223.90,265.0 224.15,265.2 224.40,265.3 224.65,265.2 224.90,265.1 225.15,265.1 225.40,265.1 225.65,265.0 225.90,264.9 226.15,264.7 226.40,264.5 226.65,264.4 226.90,263.9 227.15,263.2 227.40,262.3 227.65,261.1 227.90,260.1 228.00,260.0 228.15,260.1 228.40,260.9 228.65,261.9 228.90,262.5 229.15,262.8 229.40,262.8 229.65,262.6 229.90,261.9 230.15,260.8 230.40,259.2 230.65,257.1 230.90,255.4 231.00,255.3 231.15,255.7 231.40,257.7 231.65,259.7 231.90,261.3 232.15,262.4 232.40,263.1 232.65,263.4 232.90,263.7 233.15,263.8 233.40,263.7 233.65,263.5 233.90,263.1 234.15,262.7 234.40,262.1 234.60,261.9 234.65,262.0 234.90,262.5 235.15,263.2 235.40,263.8 235.65,264.1 235.90,264.4 236.15,264.6 236.40,264.7 236.65,264.9 236.90,265.0 237.15,265.1 237.40,265.2 237.65,265.2 237.90,265.1 238.15,265.1 238.40,265.1 238.65,265.1 238.90,265.0 239.15,265.1 239.40,265.2 239.65,265.1 239.90,265.1 240.15,265.0 240.40,265.0 240.65,265.0 240.90,264.9 241.15,264.8 241.40,264.8 241.65,264.7 241.90,264.7 242.15,264.7 242.40,264.7 242.65,264.7 242.90,264.8 243.15,264.7 243.40,264.7 243.65,264.7 243.90,264.7 244.15,264.4 244.40,264.4 244.65,264.4 244.90,264.3 245.15,264.3 245.40,264.2 245.65,264.0 245.90,263.8 246.15,263.6 246.40,263.3 246.65,263.0 246.90,262.6 247.15,262.0 247.40,261.3 247.65,260.4 247.90,259.1 248.15,257.3 248.40,254.6 248.65,250.8 248.90,245.2 249.15,238.4 249.40,233.2 249.50,232.6 249.65,233.8 249.90,239.6 250.15,246.2 250.40,251.2 250.65,254.8 250.90,257.2 251.15,258.9 251.40,260.0 251.65,260.7 251.90,261.2 252.15,261.6 252.40,261.8 252.65,262.0 252.90,262.1 253.15,262.0 253.40,261.9 253.65,261.8 253.90,261.8 254.15,261.5 254.40,261.3 254.65,260.9 254.90,260.6 255.15,260.3 255.40,259.9 255.65,259.4 255.90,258.8 256.15,258.2 256.40,257.5 256.65,256.7 256.90,255.8 257.15,254.6 257.40,253.2 257.65,251.8 257.90,250.2 258.15,248.5 258.40,247.0 258.65,245.5 258.90,244.3 259.00,243.9 259.15,243.3 259.40,242.4 259.65,241.7 259.90,240.8 260.15,239.6 260.40,238.1 260.65,236.2 260.90,233.8 261.15,231.1 261.40,228.4 261.65,226.2 261.90,225.2 262.00,225.3 262.15,225.9 262.40,228.1 262.65,231.6 262.90,235.5 263.15,239.4 263.40,243.0 263.65,246.1 263.90,248.8 264.15,251.1 264.40,252.9 264.65,254.4 264.90,255.7 265.15,256.9 265.40,257.7 265.65,258.3 265.90,259.0 266.15,259.5 266.40,259.8 266.65,260.1 266.90,260.3 267.15,260.4 267.40,260.2 267.65,259.4 267.90,258.5 268.15,257.5 268.40,257.0 268.65,257.7 268.90,259.1 269.15,260.4 269.40,261.2 269.65,261.9 269.90,262.3 270.15,262.6 270.40,262.7 270.65,262.7 270.90,262.8 271.15,262.9 271.40,263.0 271.65,263.0 271.90,263.0 272.15,262.9 272.40,262.8 272.65,262.4 272.90,262.1 273.15,261.5 273.40,260.6 273.65,259.2 273.90,257.3 274.15,254.2 274.40,248.8 274.65,240.4 274.90,230.3 275.10,226.5 275.15,226.8 275.40,234.4 275.65,244.3 275.90,251.4 276.15,255.8 276.40,258.5 276.65,260.2 276.90,261.4 277.15,262.1 277.40,262.7 277.65,263.1 277.90,263.5 278.15,263.8 278.40,263.9 278.65,263.9 278.90,264.0 279.15,264.2 279.40,264.5 279.65,264.7 279.90,264.7 280.15,264.8 280.40,264.9 280.65,265.0 280.90,265.1 281.15,265.1 281.40,265.1 281.65,265.1 281.90,265.1 282.15,265.3 282.40,265.2 282.65,265.1 282.90,265.0 283.15,264.9 283.40,265.0 283.65,265.0 283.90,265.1 284.15,265.0 284.40,265.0 284.65,264.9 284.90,264.8 285.15,264.8 285.40,264.6 285.65,264.3 285.90,264.0 286.15,263.4 286.40,262.6 286.65,261.7 286.90,260.9 287.00,260.9 287.15,261.0 287.40,261.9 287.65,262.9 287.90,263.6 288.15,264.2 288.40,264.4 288.65,264.6 288.90,264.8 289.15,264.9 289.40,265.0 289.65,265.1 289.90,265.1 290.15,265.0 290.40,265.0 290.65,265.0 290.90,264.8 291.15,264.7 291.40,264.7 291.65,264.3 291.90,264.2 292.15,263.9 292.40,263.4 292.65,262.8 292.90,261.7 293.15,260.1 293.40,257.9 293.65,255.3 293.90,253.2 294.00,252.9 294.15,253.4 294.40,255.7 294.65,258.2 294.90,260.3 295.15,261.7 295.40,262.7 295.65,263.4 295.90,263.9 296.15,264.3 296.40,264.7 296.65,264.8 296.90,265.0 297.15,265.1 297.40,265.2 297.65,265.3 297.90,265.4 298.15,265.6 298.40,265.6 298.65,265.7 298.90,265.7 299.15,265.7 299.40,265.7 299.65,265.7 299.90,265.6 300.15,265.6 300.40,265.6 300.65,265.7 300.90,265.7 301.15,265.8 301.40,265.8 301.65,265.7 301.90,265.7 302.15,265.7 302.40,265.7 302.65,265.7 302.90,265.7 303.15,265.6 303.40,265.6 303.65,265.7 303.90,265.6 304.15,265.6 304.40,265.4 304.65,265.3 304.90,265.3 305.15,265.2 305.40,265.0 305.65,264.8 305.90,264.7 306.15,264.5 306.40,264.2 306.65,263.9 306.90,263.1 307.15,261.8 307.40,260.1 307.65,258.2 307.90,256.6 308.00,256.5 308.15,256.9 308.40,258.6 308.65,260.6 308.90,262.3 309.15,263.3 309.40,263.9 309.65,264.4 309.90,264.6 310.15,265.0 310.40,265.2 310.65,265.3 310.90,265.3 311.15,265.5 311.40,265.4 311.65,265.4 311.90,265.5 312.15,265.5 312.40,265.3 312.65,265.4 312.90,265.4 313.15,265.4 313.40,265.4 313.65,265.3 313.90,265.3 314.15,265.4 314.40,265.4 314.65,265.3 314.90,265.3 315.15,265.4 315.40,265.4 315.65,265.4 315.90,265.4 316.15,265.3 316.40,265.4 316.65,265.2 316.90,265.1 317.15,265.1 317.40,265.0 317.65,264.9 317.90,264.8 318.15,264.5 318.40,264.4 318.65,264.1 318.90,263.7 319.15,262.9 319.40,262.2 319.65,261.1 319.90,259.3 320.15,256.8 320.40,253.2 320.65,248.8 320.90,245.4 321.00,245.1 321.15,245.8 321.40,249.8 321.65,254.1 321.90,257.5 322.15,259.8 322.40,261.4 322.65,262.4 322.90,263.2 323.15,263.7 323.40,264.2 323.65,264.5 323.90,264.8 324.15,265.1 324.40,265.1 324.65,265.2 324.90,265.4 325.15,265.6 325.40,265.5 325.65,265.7 325.90,265.8 326.15,265.9 326.40,266.0 326.65,266.0 326.90,266.1 327.15,266.1 327.40,266.0 327.65,265.9 327.90,266.0 328.15,266.1 328.40,265.9 328.65,265.9 328.90,266.1 329.15,266.1 329.40,266.2 329.65,266.1 329.90,266.1 330.15,266.1 330.40,266.0 330.65,266.0 330.90,266.0 331.15,266.1 331.40,266.0 331.65,266.0 331.90,266.0 332.15,265.9 332.40,265.9 332.65,265.9 332.90,265.9 333.15,265.9 333.40,265.8 333.65,265.9 333.90,266.0 334.15,266.0 334.40,266.1 334.65,266.1 334.90,266.2 335.15,266.1 335.40,266.2 335.65,266.2 335.90,266.2 336.15,266.2 336.40,266.1 336.65,266.1 336.90,266.1 337.15,266.1 337.40,266.0 337.65,266.1 337.90,266.1 338.15,266.0 338.40,265.9 338.65,265.9 338.90,265.8 339.15,265.8 339.40,265.8 339.65,265.7 339.90,265.6 340.15,265.6 340.40,265.4 340.65,265.3 340.90,264.9 341.15,264.3 341.40,263.6 341.65,262.7 341.90,261.9 342.00,261.9 342.15,262.0 342.40,262.7 342.65,263.5 342.90,264.2 343.15,264.8 343.40,265.0 343.65,265.2 343.90,265.3 344.15,265.5 344.40,265.5 344.65,265.6 344.90,265.6 345.15,265.8 345.40,265.8 345.65,265.9 345.90,266.0 346.15,266.2 346.40,266.3 346.65,266.4 346.90,266.5 347.15,266.5 347.40,266.5 347.65,266.3 347.90,266.4 348.15,266.3 348.40,266.3 348.65,266.1 348.90,266.2 349.15,266.2 349.40,266.1 349.65,266.0 349.90,266.0 350.15,265.9 350.40,265.9 350.65,266.0 350.90,265.9 351.15,265.9 351.40,265.8 351.65,265.7 351.90,265.8 352.15,265.9 352.40,266.0 352.65,266.0 352.90,266.2 353.15,266.2 353.40,266.1 353.65,266.2 353.90,266.2 354.15,266.1 354.40,266.1 354.65,266.2 354.90,266.3 355.15,266.3 355.40,266.3 355.65,266.2 355.90,266.0 356.15,266.0 356.40,265.9 356.65,266.0 356.90,266.0 357.15,266.1 357.40,266.0 357.65,265.9 357.90,265.9 358.15,265.8 358.40,265.8 358.65,265.8 358.90,265.7 359.15,265.6 359.40,265.5 359.65,265.4 359.90,265.4 360.15,265.3 360.40,265.0 360.65,264.8 360.90,264.6 361.00,264.6 361.15,264.7 361.40,264.8 361.65,264.9 361.90,265.1 362.15,265.2 362.40,265.5 362.65,265.6 362.90,265.7 363.15,265.8 363.40,265.7 363.65,265.7 363.90,265.8 364.15,265.9 364.40,266.1 364.65,266.1 364.90,266.2 365.15,266.2 365.40,266.0 365.65,266.0 365.90,266.1 366.15,266.1 366.40,266.0 366.65,265.9 366.90,266.0 367.15,266.2 367.40,266.1 367.65,266.2 367.90,266.0 368.15,265.9 368.40,265.8 368.65,265.7 368.90,265.7 369.15,265.6 369.40,265.5 369.65,265.4 369.90,265.2 370.15,265.1 370.40,264.8 370.65,264.6 370.90,264.4 371.00,264.3 371.15,264.4 371.40,264.5 371.65,264.8 371.90,265.0 372.15,265.2 372.40,265.3 372.65,265.4 372.90,265.4 373.15,265.5 373.40,265.7 373.65,265.8 373.90,265.9 374.15,265.9 374.40,266.0 374.65,265.9 374.90,265.8 375.15,265.8 375.40,265.7 375.65,265.7 375.90,265.7 376.15,265.6 376.40,265.6 376.65,265.4 376.90,265.1 377.15,264.8 377.40,264.5 377.65,264.3 377.90,264.1 378.00,264.1 378.15,264.1 378.40,264.3 378.65,264.5 378.90,264.8 379.15,265.0 379.40,265.3 379.65,265.4 379.90,265.6 380.15,265.6 380.40,265.6 380.65,265.6 380.90,265.8 381.15,265.8 381.40,266.0 381.65,266.0 381.90,266.1 382.15,266.1 382.40,266.1 382.65,266.1 382.90,266.1 383.15,266.1 383.40,266.1 383.65,266.3 383.90,266.4 384.15,266.5 384.40,266.6 384.65,266.7 384.90,266.7 385.15,266.7 385.40,266.6 385.65,266.6 385.90,266.6 386.15,266.6 386.40,266.6 386.65,266.6 386.90,266.7 387.15,266.5 387.40,266.5 387.65,266.4 387.90,266.3 388.15,266.3 388.40,266.1 388.65,266.0 388.90,266.1 389.15,266.1 389.40,266.1 389.65,266.0 389.90,265.9 390.15,265.9 390.40,265.7 390.65,265.7 390.90,265.7 391.15,265.7 391.40,265.6 391.65,265.6 391.90,265.6 392.15,265.4 392.40,265.2 392.65,265.0 392.90,264.7 393.15,264.6 393.40,264.3 393.65,264.1 393.90,264.0 394.00,264.2 394.15,264.1 394.40,264.2 394.65,264.6 394.90,264.8 395.15,265.1 395.40,265.5 395.65,265.6 395.90,265.9 396.15,265.9 396.40,266.0 396.65,266.1 396.90,266.1 397.15,266.3 397.40,266.2 397.65,266.4 397.90,266.4 398.15,266.4 398.40,266.3 398.65,266.3 398.90,266.2 399.15,266.3 399.40,266.3 399.65,266.4 399.90,266.3 400.15,266.4 400.40,266.4 400.65,266.4 400.90,266.3 401.15,266.3 401.40,266.2 401.65,266.1 401.90,266.1 402.15,265.9 402.40,265.8 402.65,265.5 402.90,265.0 403.15,264.3 403.40,263.3 403.65,262.1 403.90,261.1 404.00,261.0 404.15,261.2 404.40,262.2 404.65,263.5 404.90,264.3 405.15,265.0 405.40,265.5 405.65,265.6 405.90,265.8 406.15,266.0 406.40,266.2 406.65,266.1 406.90,266.1 407.15,266.3 407.40,266.3 407.65,266.4 407.90,266.4 408.15,266.3 408.40,266.4 408.65,266.3 408.90,266.4 409.15,266.4 409.40,266.4 409.65,266.3 409.90,266.4 410.15,266.6 410.40,266.6 410.65,266.5 410.90,266.6 411.15,266.6 411.40,266.6 411.65,266.7 411.90,266.7 412.15,266.7 412.40,266.8 412.65,266.8 412.90,266.9 413.15,266.8 413.40,266.8 413.65,266.8 413.90,266.9 414.15,266.8 414.40,267.0 414.65,267.0 414.90,266.9 415.15,266.9 415.40,266.8 415.65,266.9 415.90,266.8 416.15,266.9 416.40,266.9 416.65,266.9 416.90,267.0 417.15,267.0 417.40,267.0 417.65,267.0 417.90,266.8 418.15,266.7 418.40,266.8 418.65,266.6 418.90,266.7 419.15,266.6 419.40,266.7 419.65,266.6 419.90,266.5 420.15,266.5 420.40,266.3 420.65,266.4 420.90,266.4 421.15,266.4 421.40,266.6 421.65,266.6 421.90,266.7 422.15,266.7 422.40,266.8 422.65,266.8 422.90,266.7 423.15,266.8 423.40,266.9 423.65,267.0 423.90,267.0 424.15,266.9 424.40,266.9 424.65,267.0 424.90,266.8 425.15,266.8 425.40,266.7 425.65,266.7 425.90,266.6 426.15,266.4 426.40,266.2 426.65,265.8 426.90,265.3 427.15,264.3 427.40,262.9 427.65,260.3 427.90,257.5 428.00,257.1 428.15,258.0 428.40,260.8 428.65,263.2 428.90,264.6 429.15,265.3 429.40,266.0 429.65,266.3 429.90,266.5 430.15,266.7 430.40,266.9 430.65,266.9 430.90,266.9 431.15,266.9 431.40,266.9 431.65,266.9 431.90,267.0 432.15,266.9 432.40,266.8 432.65,266.8 432.90,266.8 433.15,266.7 433.40,266.7 433.65,266.6 433.90,266.5 434.15,266.5 434.40,266.6 434.65,266.5 434.90,266.5 435.15,266.6 435.40,266.7 435.65,266.9 435.90,266.9 436.15,266.9 436.40,266.9 436.65,266.9 436.90,266.9 437.15,266.8 437.40,266.9 437.65,266.9 437.90,266.9 438.15,267.0 438.40,267.2 438.65,267.1 438.90,266.9 439.15,266.8 439.40,266.9 439.65,266.8 439.90,266.7 440.15,266.8 440.40,266.8 440.65,266.9 440.90,266.9 441.15,266.8 441.40,266.9 441.65,266.9 441.90,266.9 442.15,266.9 442.40,266.9 442.65,266.9 442.90,266.9 443.15,266.9 443.40,267.0 443.65,266.9 443.90,267.0 444.15,266.9 444.40,267.0 444.65,266.9 444.90,266.9 445.15,267.0 445.40,266.9 445.65,266.8 445.90,266.7 446.15,266.8 446.40,266.8 446.65,266.9 446.90,266.8 447.15,266.9 447.40,266.9 447.65,267.0 447.90,266.9 448.15,267.0 448.40,266.9 448.65,266.8 448.90,266.8 449.15,266.9 449.40,267.0 449.65,267.0 449.90,267.1 450.15,267.0 450.40,267.0 450.65,267.0 450.90,266.8 451.15,266.8 451.40,266.8 451.65,266.8 451.90,266.7 452.15,266.6 452.40,266.7 452.65,266.5 452.90,266.4 453.15,266.3 453.40,266.4 453.65,266.3 453.90,266.3 454.15,266.2 454.40,266.2 454.65,266.2 454.90,266.1 455.15,266.1 455.40,266.2 455.65,266.0 455.90,265.8 456.15,265.6 456.40,265.4 456.65,265.2 456.90,265.1 457.00,265.0 457.15,264.9 457.40,265.0 457.65,265.0 457.90,265.1 458.15,265.1 458.40,264.9 458.65,264.8 458.90,264.8 459.15,264.6 459.40,264.8 459.60,264.7 459.65,264.8 459.90,264.8 460.15,265.1 460.40,265.3 460.65,265.4 460.90,265.7 461.15,265.9 461.40,266.1 461.65,266.3 461.90,266.4 462.15,266.5 462.40,266.6 462.65,266.6 462.90,266.7 463.15,266.6 463.40,266.7 463.65,266.7 463.90,266.7 464.15,266.9 464.40,267.0 464.65,267.0 464.90,267.0 465.15,267.0 465.40,267.0 465.65,266.9 465.90,266.9 466.15,266.8 466.40,266.8 466.65,266.8 466.90,267.0 467.15,267.0 467.40,267.1 467.65,267.0 467.90,267.0 468.15,266.9 468.40,266.8 468.65,266.9 468.90,267.0 469.15,267.1 469.40,267.1 469.65,267.1 469.90,267.0 470.15,267.0 470.40,266.9 470.65,266.9 470.90,267.0 471.15,266.9 471.40,266.9 471.65,267.0 471.90,267.1 472.15,267.0 472.40,266.9 472.65,267.0 472.90,267.1 473.15,267.1 473.40,267.2 473.65,267.1 473.90,267.0 474.15,267.1 474.40,266.9 474.65,267.0 474.90,267.0 475.15,266.8 475.40,266.8 475.65,266.7 475.90,266.9 476.15,266.8 476.40,266.8 476.65,266.6 476.90,266.6 477.15,266.7 477.40,266.8 477.65,266.7 477.90,266.8 478.15,266.8 478.40,266.7 478.65,266.8 478.90,266.7 479.15,266.7 479.40,266.6 479.65,266.6 479.90,266.6 480.15,266.7 480.40,266.7 480.65,266.6 480.90,266.5 481.15,266.5 481.40,266.2 481.65,266.2 481.90,266.1 482.15,266.0 482.40,265.9 482.65,265.7 482.90,265.6 483.15,265.3 483.40,264.9 483.65,264.5 483.90,264.2 484.15,264.0 484.40,263.7 484.65,263.5 484.90,263.3 485.15,263.0 485.40,262.9 485.60,262.8 485.65,262.7 485.90,262.8 486.15,262.9 486.40,263.0 486.65,263.3 486.90,263.7 487.15,264.0 487.40,264.1 487.65,264.4 487.90,264.5 488.15,264.7 488.40,264.9 488.65,265.0 488.90,265.2 489.15,265.4 489.40,265.5 489.65,265.6 489.90,265.8 490.15,265.9 490.40,265.9 490.65,265.9 490.90,266.3 491.15,266.2 491.40,266.4 491.65,266.5 491.90,266.6 492.15,266.5 492.40,266.6 492.65,266.5 492.90,266.5 493.15,266.5 493.40,266.4 493.65,266.5 493.90,266.5 494.15,266.7 494.40,266.6 494.65,266.6 494.90,266.6 495.15,266.7 495.40,266.7 495.65,266.8 495.90,266.8 496.15,266.7 496.40,266.8 496.65,266.8 496.90,266.8 497.15,266.7 497.40,266.7 497.65,266.6 497.90,266.4 498.15,266.3 498.40,266.2 498.65,265.9 498.90,265.7 499.15,265.6 499.40,265.5 499.60,265.7 499.65,265.6 499.90,265.8 500.15,266.0 500.40,266.1 500.65,266.2 500.90,266.3 501.15,266.4 501.40,266.7 501.65,266.7 501.90,266.7 502.15,266.9 502.40,267.0 502.65,267.1 502.90,267.0 503.15,267.0 503.40,266.9 503.65,266.9 503.90,267.0 504.15,267.1 504.40,267.1 504.65,267.1 504.90,267.0 505.15,267.0 505.40,267.0 505.65,266.9 505.90,266.9 506.15,266.8 506.40,267.0 506.65,267.0 506.90,267.0 507.15,267.1 507.40,267.1 507.65,267.1 507.90,267.2 508.15,267.2 508.40,267.2 508.65,267.3 508.90,267.3 509.15,267.3 509.40,267.2 509.65,267.2 509.90,267.2 510.15,267.2 510.40,267.2 510.65,267.3 510.90,267.3 511.15,267.2 511.40,267.2 511.65,267.1 511.90,267.1 512.15,267.1 512.40,267.1 512.65,267.1 512.90,267.1 513.15,267.1 513.40,267.2 513.65,267.3 513.90,267.2 514.15,267.3 514.40,267.2 514.65,267.1 514.90,267.2 515.15,267.2 515.40,267.0 515.65,266.9 515.90,267.0 516.15,267.1 516.40,267.0 516.65,267.1 516.90,267.1 517.15,267.0 517.40,267.0 517.65,266.9 517.90,267.0 518.15,267.0 518.40,266.9 518.65,267.0 518.90,267.0 519.15,267.1 519.40,267.0 519.65,267.0 519.90,267.0 520.15,267.0 520.40,267.0 520.65,267.0 520.90,267.0 521.15,266.9 521.40,266.9 521.65,266.9 521.90,266.9 522.15,266.9 522.40,266.9 522.65,267.0 522.90,266.8 523.15,266.6 523.40,266.6 523.65,266.5 523.90,266.3 524.15,266.1 524.40,265.8 524.65,265.6 524.90,265.3 525.15,265.0 525.40,264.7 525.65,264.5 525.90,264.3 526.00,264.2 526.15,264.2 526.40,264.4 526.65,264.7 526.90,264.9 527.15,265.2 527.40,265.5 527.65,265.7 527.90,265.8 528.15,265.9 528.40,266.0 528.65,265.8 528.90,265.7 529.15,265.5 529.40,265.4 529.65,265.1 529.90,264.9 530.15,264.7 530.40,264.7 530.65,264.7 530.90,264.8 531.15,265.0 531.40,265.3 531.65,265.6 531.90,265.8 532.15,266.1 532.40,266.3 532.65,266.5 532.90,266.5 533.15,266.6 533.40,266.7 533.65,266.7 533.90,266.8 534.15,266.9 534.40,266.9 534.65,267.0 534.90,267.0 535.15,267.0 535.40,267.0 535.65,267.0 535.90,267.0 536.15,267.0 536.40,267.1 536.65,267.1 536.90,267.1"/>
<polyline stroke="#ff00ff" points="45.90,211.5 46.15,211.5 46.40,211.5 46.65,211.5 46.90,211.5 47.15,211.5 47.40,211.5 47.65,211.5 47.90,211.4 48.15,211.4 48.40,211.4 48.65,211.4 48.90,211.4 49.15,211.4 49.40,211.5 49.65,211.5 49.90,211.5 50.15,211.5 50.40,211.6 50.65,211.5 50.90,211.5 51.15,211.4 51.40,211.4 51.65,211.5 51.90,211.4 52.15,211.5 52.40,211.4 52.65,211.5 52.90,211.3 53.15,211.3 53.40,211.2 53.65,211.2 53.90,211.3 54.15,211.4 54.40,211.4 54.65,211.5 54.90,211.5 55.15,211.5 55.40,211.4 55.65,211.3 55.90,211.4 56.15,211.5 56.40,211.6 56.65,211.6 56.90,211.7 57.15,211.7 57.40,211.6 57.65,211.6 57.90,211.6 58.15,211.6 58.40,211.5 58.65,211.6 58.90,211.6 59.15,211.8 59.40,211.7 59.65,211.5 59.90,211.5 60.15,211.6 60.40,211.5 60.65,211.5 60.90,211.4 61.15,211.4 61.40,211.4 61.65,211.3 61.90,211.5 62.15,211.4 62.40,211.4 62.65,211.4 62.90,211.5 63.15,211.6 63.40,211.6 63.65,211.6 63.90,211.6 64.15,211.6 64.40,211.6 64.65,211.7 64.90,211.8 65.15,211.8 65.40,211.7 65.65,211.7 65.90,211.7 66.15,211.7 66.40,211.7 66.65,211.7 66.90,211.7 67.15,211.7 67.40,211.7 67.65,211.8 67.90,211.8 68.15,211.7 68.40,211.8 68.65,211.9 68.90,211.9 69.15,211.9 69.40,211.9 69.65,211.8 69.90,211.8 70.15,211.7 70.40,211.7 70.65,211.6 70.90,211.7 71.15,211.7 71.40,211.8 71.65,211.8 71.90,211.7 72.15,211.6 72.40,211.7 72.65,211.8 72.90,211.7 73.15,211.7 73.40,211.7 73.65,211.8 73.90,211.7 74.00,211.8 74.15,211.6 74.40,211.2 74.65,210.8 74.90,210.5 75.15,210.2 75.20,210.2 75.40,210.4 75.65,210.7 75.90,211.0 76.15,211.3 76.30,211.5 76.40,211.4 76.65,211.3 76.90,211.1 77.15,211.0 77.40,210.9 77.50,210.8 77.65,210.6 77.90,210.4 78.15,210.2 78.40,209.9 78.65,209.8 78.90,209.5 79.15,209.3 79.40,209.1 79.50,209.0 79.65,208.8 79.90,208.5 80.15,208.3 80.40,208.0 80.65,207.7 80.80,207.5 80.90,207.3 81.15,206.5 81.40,205.7 81.65,205.0 81.90,204.1 82.15,203.4 82.40,202.7 82.60,202.2 82.65,201.9 82.90,200.6 83.15,199.4 83.40,198.1 83.65,196.8 83.70,196.7 83.90,194.9 84.15,192.8 84.40,190.5 84.65,188.2 84.90,172.9 85.00,166.7 85.15,121.7 85.25,91.7 85.40,60.0 85.65,7.2 85.70,-3.4 85.90,38.9 86.15,91.6 86.40,158.3 86.45,171.6 86.65,190.3 86.75,199.7 86.90,202.9 87.15,208.2 87.20,209.2 87.40,209.6 87.65,210.3 87.90,210.9 88.00,211.2 88.15,211.2 88.40,211.2 88.65,211.4 88.90,211.4 89.15,211.4 89.40,211.5 89.65,211.5 89.90,211.5 90.00,211.6 90.15,211.7 90.40,211.7 90.65,211.7 90.90,211.6 91.15,211.5 91.40,211.5 91.65,211.6 91.90,211.5 92.15,211.6 92.40,211.7 92.65,211.6 92.90,211.6 93.15,211.6 93.40,211.6 93.65,211.5 93.90,211.7 94.15,211.6 94.40,211.6 94.65,211.7 94.90,211.7 95.15,211.7 95.40,211.7 95.65,211.7 95.90,211.7 96.15,211.7 96.40,211.7 96.65,211.8 96.90,211.8 97.15,211.7 97.40,211.7 97.65,211.8 97.90,211.8 98.15,211.8 98.40,211.8 98.65,211.8 98.90,211.8 99.15,211.8 99.40,211.9 99.65,211.9 99.90,211.9 100.15,211.9 100.40,211.9 100.65,211.8 100.90,211.9 101.00,211.8 101.15,211.8 101.40,211.6 101.65,211.5 101.90,211.3 102.15,211.1 102.30,210.9 102.40,210.7 102.65,210.3 102.90,209.9 103.15,209.5 103.40,209.1 103.65,208.8 103.90,208.4 104.10,208.0 104.15,207.7 104.40,206.5 104.65,205.1 104.90,203.9 105.15,202.5 105.20,202.3 105.40,199.9 105.65,196.8 105.90,193.7 106.05,191.9 106.15,187.9 106.30,181.8 106.40,165.9 106.55,142.0 106.65,127.2 106.90,90.2 107.00,75.4 107.15,97.6 107.40,134.6 107.45,141.9 107.65,171.8 107.75,186.8 107.90,198.2 108.00,205.7 108.15,206.9 108.40,209.0 108.60,210.8 108.65,210.8 108.90,210.9 109.15,211.0 109.40,211.1 109.65,211.2 109.90,211.4 110.00,211.5 110.15,211.7 110.40,211.6 110.65,211.6 110.90,211.8 111.15,211.9 111.40,211.9 111.65,212.0 111.90,212.0 112.15,212.0 112.40,212.0 112.65,212.0 112.90,212.0 113.15,212.0 113.40,212.0 113.65,211.9 113.90,212.0 114.15,212.0 114.40,211.9 114.65,211.8 114.90,211.7 115.15,211.7 115.40,211.7 115.65,211.7 115.90,211.6 116.15,211.9 116.40,211.8 116.65,211.7 116.90,211.8 117.15,211.8 117.40,211.7 117.65,211.8 117.90,211.8 118.15,211.8 118.40,211.9 118.65,211.8 118.90,211.8 119.15,211.9 119.40,211.9 119.65,211.7 119.90,211.8 120.15,211.8 120.40,211.7 120.65,211.7 120.90,211.6 121.15,211.7 121.40,211.7 121.65,211.6 121.90,211.6 122.15,211.8 122.40,211.7 122.65,211.6 122.90,211.6 123.15,211.5 123.40,211.5 123.65,211.5 123.90,211.6 124.15,211.7 124.40,211.7 124.65,211.8 124.90,212.0 125.15,212.0 125.40,211.9 125.65,211.8 125.90,211.9 126.15,211.8 126.40,211.9 126.65,211.9 126.90,211.9 127.15,211.9 127.40,211.9 127.65,211.8 127.90,211.9 128.15,211.7 128.40,211.6 128.65,211.6 128.90,211.7 129.15,211.7 129.40,211.6 129.65,211.7 129.90,211.6 130.15,211.6 130.40,211.7 130.65,211.7 130.90,211.6 131.15,211.5 131.40,211.5 131.65,211.5 131.90,211.6 132.15,211.6 132.40,211.5 132.65,211.4 132.90,211.3 133.15,211.0 133.40,210.7 133.65,210.2 133.90,209.2 134.15,208.1 134.40,207.4 134.65,208.2 134.90,209.4 135.15,210.2 135.40,210.6 135.65,210.8 135.90,211.1 136.15,211.2 136.40,211.3 136.65,211.6 136.90,211.8 137.15,211.8 137.40,211.9 137.65,211.8 137.90,211.8 138.15,211.8 138.40,211.7 138.65,211.8 138.90,211.8 139.15,211.9 139.40,211.9 139.65,211.9 139.90,211.9 140.15,211.8 140.40,211.6 140.65,211.5 140.90,211.4 141.15,211.3 141.40,211.0 141.65,210.5 141.90,210.0 142.00,209.8 142.15,209.9 142.40,210.4 142.65,210.8 142.90,211.0 143.15,211.0 143.40,211.1 143.65,211.2 143.90,211.2 144.15,211.2 144.40,211.1 144.65,211.2 144.90,211.2 145.15,211.3 145.40,211.3 145.65,211.3 145.90,211.3 146.15,211.3 146.40,211.3 146.65,211.2 146.90,211.2 147.15,211.1 147.40,211.0 147.65,210.8 147.90,210.5 148.15,210.1 148.40,209.5 148.65,208.6 148.90,207.2 149.15,204.7 149.40,200.6 149.65,194.2 149.90,187.8 150.00,187.0 150.15,188.7 150.40,195.6 150.65,201.5 150.90,205.0 151.15,207.1 151.40,208.5 151.65,209.3 151.90,209.8 152.15,210.1 152.40,210.5 152.65,210.7 152.90,211.0 153.15,211.1 153.40,211.2 153.65,211.4 153.90,211.4 154.15,211.4 154.40,211.6 154.65,211.6 154.90,211.6 155.15,211.6 155.40,211.7 155.65,211.8 155.90,211.8 156.15,211.8 156.40,211.7 156.65,211.8 156.90,211.9 157.15,211.9 157.40,212.0 157.65,211.9 157.90,211.9 158.15,211.9 158.40,211.9 158.65,211.9 158.90,211.9 159.15,211.8 159.40,211.9 159.65,212.0 159.90,212.0 160.15,211.9 160.40,211.9 160.65,212.0 160.90,211.9 161.15,211.9 161.40,211.9 161.65,212.0 161.90,211.9 162.15,212.0 162.40,212.0 162.65,211.9 162.90,211.9 163.15,211.8 163.40,211.9 163.65,212.0 163.90,212.0 164.15,211.9 164.40,211.8 164.65,211.8 164.90,211.7 165.15,211.7 165.40,211.8 165.65,211.7 165.90,211.7 166.15,211.7 166.40,211.6 166.65,211.6 166.90,211.7 167.15,211.6 167.40,211.6 167.65,211.6 167.90,211.8 168.15,211.9 168.40,212.0 168.65,211.9 168.90,211.9 169.15,212.0 169.40,212.1 169.65,212.1 169.90,212.0 170.15,212.1 170.40,212.0 170.65,212.1 170.90,212.1 171.15,212.0 171.40,212.0 171.65,211.9 171.90,211.9 172.15,211.9 172.40,211.9 172.65,211.7 172.90,211.7 173.15,211.8 173.40,211.9 173.65,211.9 173.90,211.9 174.15,211.9 174.40,211.8 174.65,211.9 174.90,211.9 175.15,211.8 175.40,211.9 175.65,211.9 175.90,211.8 176.15,211.9 176.40,211.9 176.65,211.9 176.90,211.9 177.15,211.9 177.40,211.8 177.65,211.9 177.90,211.9 178.15,212.0 178.40,212.1 178.65,212.1 178.90,212.1 179.15,212.1 179.40,212.2 179.65,212.3 179.90,212.3 180.15,212.2 180.40,212.2 180.65,212.3 180.90,212.4 181.15,212.3 181.40,212.2 181.65,212.2 181.90,212.1 182.15,212.1 182.40,212.1 182.65,212.2 182.90,212.2 183.15,212.1 183.40,212.1 183.65,212.1 183.90,212.1 184.15,211.9 184.40,211.6 184.65,211.2 184.90,210.8 185.00,210.8 185.15,210.8 185.40,211.2 185.65,211.6 185.90,211.8 186.15,211.9 186.40,212.0 186.65,212.0 186.90,211.8 187.15,211.7 187.40,211.8 187.65,211.7 187.90,211.8 188.15,211.8 188.40,211.8 188.65,211.9 188.90,211.9 189.15,211.9 189.40,211.8 189.65,211.8 189.90,211.8 190.15,211.8 190.40,211.9 190.65,211.9 190.90,211.9 191.15,211.9 191.40,211.7 191.65,211.6 191.90,211.6 192.15,211.3 192.40,211.1 192.65,210.9 192.90,210.5 193.15,210.1 193.40,209.5 193.65,208.6 193.90,207.1 194.15,204.8 194.40,200.7 194.65,194.3 194.90,187.9 195.00,187.0 195.15,188.7 195.40,195.6 195.65,201.6 195.90,205.2 196.15,207.4 196.40,208.8 196.65,209.6 196.90,210.1 197.15,210.5 197.40,210.8 197.65,211.0 197.90,211.1 198.15,211.2 198.40,211.4 198.65,211.5 198.90,211.7 199.15,211.7 199.40,211.7 199.65,211.8 199.90,211.8 200.15,211.9 200.40,211.9 200.65,212.0 200.90,211.8 201.15,211.7 201.40,211.5 201.65,211.3 201.90,211.1 202.00,211.1 202.15,211.0 202.40,211.3 202.65,211.6 202.90,211.6 203.15,211.6 203.40,211.5 203.65,211.6 203.90,211.5 204.15,211.6 204.40,211.6 204.65,211.5 204.90,211.3 205.15,211.0 205.40,210.6 205.65,210.1 205.90,209.4 206.00,209.3 206.15,209.5 206.40,210.3 206.65,210.9 206.90,211.1 207.15,211.3 207.40,211.5 207.65,211.6 207.90,211.7 208.15,211.7 208.40,211.8 208.65,211.8 208.90,211.8 209.15,211.8 209.40,211.8 209.65,211.8 209.90,211.7 210.15,211.8 210.40,211.9 210.65,211.9 210.90,211.9 211.15,211.9 211.40,211.9 211.65,211.9 211.90,212.0 212.15,211.9 212.40,212.1 212.65,212.1 212.90,212.2 213.15,212.1 213.40,212.2 213.65,212.2 213.90,212.3 214.15,212.4 214.40,212.4 214.65,212.3 214.90,212.3 215.15,212.3 215.40,212.3 215.65,212.2 215.90,212.1 216.15,212.0 216.40,212.0 216.65,212.0 216.90,212.0 217.15,211.9 217.40,211.9 217.65,211.8 217.90,211.7 218.15,211.7 218.40,211.6 218.65,211.6 218.90,211.5 219.15,211.6 219.40,211.7 219.65,211.7 219.90,211.6 220.15,211.6 220.40,211.6 220.65,211.6 220.90,211.4 221.15,211.3 221.40,211.2 221.65,211.1 221.90,210.9 222.15,210.7 222.40,210.4 222.65,209.8 222.90,208.9 223.15,207.7 223.40,205.5 223.65,202.0 223.90,198.4 224.00,197.8 224.15,198.7 224.40,202.0 224.65,204.7 224.90,205.9 225.15,205.9 225.40,204.4 225.65,201.4 225.90,198.4 226.00,198.1 226.15,199.0 226.40,202.8 226.65,206.1 226.90,208.2 227.15,209.4 227.40,210.0 227.65,210.5 227.90,210.8 228.15,211.1 228.40,211.2 228.65,211.2 228.90,211.3 229.15,211.4 229.40,211.4 229.65,211.5 229.90,211.6 230.15,211.5 230.40,211.5 230.65,211.5 230.90,211.5 231.15,211.4 231.40,211.3 231.65,211.1 231.90,210.8 232.15,210.4 232.40,209.8 232.60,209.5 232.65,209.5 232.90,209.9 233.15,210.3 233.40,210.5 233.65,210.6 233.90,210.5 234.15,210.4 234.40,210.1 234.65,209.8 234.90,209.2 235.15,208.2 235.40,206.4 235.65,203.6 235.90,198.9 236.15,192.1 236.40,187.9 236.65,192.0 236.90,198.8 237.15,203.6 237.40,206.4 237.65,208.1 237.90,209.2 238.15,209.8 238.40,210.3 238.65,210.6 238.90,211.0 239.15,211.2 239.40,211.4 239.65,211.5 239.90,211.6 240.15,211.6 240.40,211.7 240.65,211.7 240.90,211.7 241.15,211.7 241.40,211.8 241.65,211.8 241.90,211.8 242.15,211.8 242.40,211.7 242.65,211.7 242.90,211.7 243.15,211.7 243.40,211.6 243.65,211.7 243.90,211.7 244.15,211.7 244.40,211.8 244.65,211.8 244.90,211.8 245.15,211.8 245.40,211.8 245.65,211.8 245.90,211.8 246.15,211.9 246.40,211.9 246.65,211.8 246.90,211.8 247.15,211.7 247.40,211.5 247.65,211.3 247.90,211.1 248.15,210.4 248.40,209.4 248.65,208.0 248.90,206.4 249.00,206.2 249.15,206.5 249.40,207.7 249.65,208.7 249.90,209.1 250.15,208.8 250.40,207.7 250.65,205.8 250.90,202.8 251.15,200.2 251.20,200.0 251.40,201.3 251.65,204.7 251.90,207.3 252.15,208.7 252.40,209.5 252.65,209.8 252.90,209.8 253.15,209.5 253.40,209.0 253.65,208.0 253.90,206.9 254.00,206.7 254.15,207.1 254.40,208.5 254.65,209.8 254.90,210.4 255.15,210.9 255.40,211.2 255.65,211.4 255.90,211.5 256.15,211.5 256.40,211.6 256.65,211.6 256.90,211.5 257.15,211.5 257.40,211.5 257.65,211.5 257.90,211.3 258.15,211.3 258.40,211.1 258.65,210.9 258.90,210.8 259.15,210.5 259.40,210.2 259.65,209.6 259.90,208.7 260.15,207.4 260.40,205.1 260.65,201.4 260.90,197.6 261.00,197.0 261.15,197.8 261.40,201.3 261.65,204.1 261.90,205.2 262.15,204.6 262.40,202.5 262.65,199.8 262.80,199.1 262.90,199.5 263.15,202.6 263.40,205.6 263.65,207.4 263.90,208.5 264.15,209.0 264.40,208.8 264.65,208.1 264.90,206.5 265.15,204.3 265.40,203.0 265.65,204.5 265.90,206.9 266.15,208.7 266.40,209.7 266.65,210.3 266.90,210.6 267.15,210.9 267.40,211.0 267.65,211.0 267.90,210.9 268.15,210.9 268.40,210.8 268.65,210.7 268.90,210.4 269.15,209.8 269.40,209.0 269.65,207.5 269.90,204.8 270.15,201.1 270.40,198.8 270.65,201.0 270.90,204.7 271.15,207.5 271.40,209.0 271.65,209.9 271.90,210.5 272.15,210.8 272.40,210.9 272.65,211.0 272.90,210.9 273.15,210.6 273.40,210.0 273.65,209.1 273.90,208.2 274.00,208.2 274.15,208.6 274.40,209.6 274.65,210.5 274.90,211.1 275.15,211.3 275.40,211.5 275.65,211.6 275.90,211.5 276.15,211.4 276.40,211.2 276.65,210.9 276.90,210.5 277.15,209.7 277.40,208.4 277.65,206.3 277.90,204.2 278.00,204.0 278.15,204.6 278.40,206.9 278.65,208.7 278.90,209.9 279.15,210.6 279.40,211.2 279.65,211.5 279.90,211.8 280.15,212.0 280.40,212.0 280.65,212.1 280.90,212.1 281.15,212.2 281.40,212.2 281.65,212.1 281.90,212.1 282.15,212.2 282.40,212.2 282.65,212.1 282.90,211.9 283.15,211.9 283.40,211.7 283.65,211.6 283.90,211.6 284.15,211.6 284.40,211.6 284.65,211.3 284.90,211.0 285.15,210.7 285.40,210.3 285.65,209.6 285.90,208.8 286.15,207.5 286.40,205.3 286.65,201.6 286.90,195.6 287.15,188.6 287.30,186.7 287.40,187.5 287.65,194.0 287.90,200.5 288.15,204.6 288.40,207.0 288.65,208.5 288.90,209.5 289.15,210.2 289.40,210.6 289.65,211.0 289.90,211.2 290.15,211.4 290.40,211.6 290.65,211.9 290.90,211.9 291.15,211.9 291.40,212.1 291.65,212.3 291.90,212.3 292.15,212.3 292.40,212.3 292.65,212.3 292.90,212.3 293.15,212.2 293.40,212.1 293.65,212.0 293.90,211.7 294.15,211.4 294.40,211.0 294.65,210.4 294.90,209.7 295.00,209.6 295.15,209.7 295.40,210.4 295.65,210.8 295.90,211.2 296.15,211.5 296.40,211.6 296.65,211.7 296.90,211.7 297.15,211.8 297.40,211.8 297.65,211.9 297.90,212.0 298.15,212.1 298.40,212.1 298.65,212.1 298.90,212.2 299.15,212.3 299.40,212.1 299.65,212.1 299.90,212.2 300.15,212.3 300.40,212.3 300.65,212.3 300.90,212.3 301.15,212.4 301.40,212.4 301.65,212.2 301.90,212.3 302.15,212.2 302.40,212.2 302.65,212.1 302.90,212.1 303.15,212.0 303.40,211.9 303.65,211.8 303.90,211.9 304.15,211.9 304.40,211.8 304.65,211.8 304.90,211.8 305.15,212.0 305.40,211.9 305.65,212.0 305.90,212.1 306.15,212.2 306.40,212.4 306.65,212.5 306.90,212.5 307.15,212.6 307.40,212.7 307.65,212.8 307.90,212.7 308.15,212.7 308.40,212.5 308.65,212.5 308.90,212.5 309.15,212.5 309.40,212.4 309.65,212.4 309.90,212.3 310.15,212.4 310.40,212.4 310.65,212.4 310.90,212.3 311.15,212.3 311.40,212.3 311.65,212.4 311.90,212.6 312.15,212.5 312.40,212.5 312.65,212.6 312.90,212.5 313.15,212.5 313.40,212.5 313.65,212.4 313.90,212.3 314.15,212.3 314.40,212.2 314.65,212.3 314.90,212.3 315.15,212.3 315.40,212.4 315.65,212.4 315.90,212.3 316.15,212.2 316.40,212.3 316.65,212.4 316.90,212.4 317.15,212.5 317.40,212.4 317.65,212.5 317.90,212.5 318.15,212.6 318.40,212.5 318.65,212.5 318.90,212.5 319.15,212.5 319.40,212.5 319.65,212.5 319.90,212.5 320.15,212.4 320.40,212.3 320.65,212.3 320.90,212.4 321.15,212.3 321.40,212.2 321.65,212.1 321.90,212.0 322.15,211.9 322.40,211.7 322.65,211.7 322.90,211.7 323.15,211.6 323.40,211.4 323.65,211.3 323.90,211.1 324.15,210.9 324.40,210.4 324.65,209.8 324.90,209.0 325.15,207.6 325.40,205.1 325.65,201.2 325.90,197.3 326.00,196.8 326.15,197.8 326.40,202.1 326.65,205.7 326.90,208.0 327.15,209.4 327.40,210.1 327.65,210.7 327.90,211.1 328.15,211.5 328.40,211.5 328.65,211.8 328.90,212.0 329.15,212.0 329.40,212.1 329.65,212.1 329.90,212.1 330.15,212.2 330.40,212.1 330.65,212.1 330.90,212.1 331.15,212.1 331.40,211.9 331.65,211.9 331.90,212.1 332.15,212.0 332.40,212.0 332.65,212.0 332.90,211.9 333.15,211.9 333.40,211.9 333.65,211.9 333.90,211.9 334.15,211.7 334.40,211.7 334.65,211.7 334.90,211.6 335.15,211.4 335.40,211.2 335.65,211.0 335.90,210.9 336.15,210.6 336.40,210.4 336.65,210.2 336.90,210.0 337.00,210.0 337.15,210.0 337.40,210.2 337.65,210.4 337.90,210.5 338.15,210.8 338.40,211.0 338.65,211.2 338.90,211.3 339.15,211.4 339.40,211.6 339.65,211.7 339.90,211.8 340.15,212.0 340.40,212.0 340.65,212.0 340.90,212.0 341.15,212.1 341.40,212.1 341.65,212.1 341.90,212.2 342.15,212.2 342.40,212.1 342.65,212.0 342.90,211.9 343.15,211.7 343.40,211.7 343.65,211.5 343.90,211.3 344.15,211.1 344.40,210.9 344.65,210.7 344.90,210.7 345.00,210.6 345.15,210.6 345.40,210.7 345.65,210.8 345.90,211.0 346.15,211.3 346.40,211.4 346.65,211.5 346.90,211.7 347.15,211.9 347.40,212.1 347.65,212.1 347.90,212.1 348.15,212.1 348.40,212.2 348.65,212.2 348.90,212.1 349.15,212.3 349.40,212.2 349.65,212.2 349.90,212.3 350.15,212.2 350.40,212.2 350.65,212.1 350.90,212.2 351.15,212.1 351.40,212.2 351.65,212.2 351.90,212.2 352.15,212.3 352.40,212.4 352.65,212.4 352.90,212.4 353.15,212.4 353.40,212.3 353.65,212.3 353.90,212.4 354.15,212.3 354.40,212.3 354.65,212.3 354.90,212.2 355.15,212.2 355.40,212.2 355.65,212.2 355.90,212.2 356.15,212.2 356.40,212.2 356.65,212.3 356.90,212.4 357.15,212.3 357.40,212.3 357.65,212.4 357.90,212.4 358.15,212.4 358.40,212.5 358.65,212.5 358.90,212.5 359.15,212.4 359.40,212.3 359.65,212.4 359.90,212.5 360.15,212.5 360.40,212.5 360.65,212.5 360.90,212.4 361.15,212.5 361.40,212.5 361.65,212.5 361.90,212.4 362.15,212.5 362.40,212.5 362.65,212.4 362.90,212.4 363.15,212.3 363.40,212.3 363.65,212.3 363.90,212.2 364.15,212.2 364.40,212.3 364.65,212.3 364.90,212.4 365.15,212.4 365.40,212.4 365.65,212.5 365.90,212.4 366.15,212.5 366.40,212.4 366.65,212.5 366.90,212.4 367.15,212.5 367.40,212.6 367.65,212.6 367.90,212.6 368.15,212.6 368.40,212.6 368.65,212.6 368.90,212.6 369.15,212.5 369.40,212.5 369.65,212.5 369.90,212.5 370.15,212.6 370.40,212.5 370.65,212.6 370.90,212.5 371.15,212.4 371.40,212.4 371.65,212.2 371.90,212.2 372.15,212.3 372.40,212.3 372.65,212.2 372.90,212.1 373.15,212.3 373.40,212.2 373.65,212.3 373.90,212.2 374.15,212.2 374.40,212.2 374.65,212.2 374.90,212.2 375.15,212.2 375.40,212.2 375.65,212.1 375.90,212.1 376.15,212.2 376.40,212.2 376.65,212.1 376.90,212.1 377.15,211.9 377.40,211.9 377.65,211.8 377.90,211.8 378.15,211.7 378.40,211.7 378.65,211.7 378.90,211.7 379.15,211.7 379.40,211.6 379.65,211.5 379.90,211.4 380.15,211.4 380.40,211.2 380.65,211.2 380.90,210.9 381.15,210.6 381.40,210.2 381.65,210.0 381.90,209.6 382.15,209.3 382.40,208.9 382.60,208.9 382.65,208.9 382.90,209.1 383.15,209.5 383.40,209.8 383.65,210.3 383.90,210.5 384.15,211.0 384.40,211.3 384.65,211.6 384.90,211.7 385.15,211.8 385.40,211.9 385.65,212.0 385.90,212.0 386.15,212.2 386.40,212.2 386.65,212.2 386.90,212.2 387.15,212.2 387.40,212.3 387.65,212.2 387.90,212.2 388.15,212.1 388.40,212.1 388.65,212.1 388.90,212.1 389.15,212.1 389.40,212.2 389.65,212.0 389.90,211.7 390.15,211.3 390.40,211.0 390.65,210.3 390.90,209.0 391.15,206.9 391.40,204.2 391.60,203.0 391.65,203.1 391.90,205.2 392.15,207.8 392.40,209.2 392.65,210.1 392.90,210.9 393.15,211.3 393.40,211.6 393.65,211.7 393.90,211.8 394.15,211.9 394.40,212.0 394.65,212.0 394.90,212.2 395.15,212.3 395.40,212.4 395.65,212.4 395.90,212.5 396.15,212.6 396.40,212.6 396.65,212.7 396.90,212.8 397.15,212.7 397.40,212.8 397.65,212.8 397.90,212.8 398.15,212.8 398.40,212.8 398.65,212.8 398.90,212.8 399.15,212.8 399.40,212.6 399.65,212.6 399.90,212.5 400.15,212.5 400.40,212.4 400.65,212.5 400.90,212.4 401.15,212.4 401.40,212.4 401.65,212.4 401.90,212.4 402.15,212.3 402.40,212.3 402.65,212.2 402.90,212.3 403.15,212.3 403.40,212.2 403.65,212.3 403.90,212.2 404.15,212.1 404.40,212.0 404.65,212.0 404.90,212.1 405.15,212.0 405.40,212.0 405.65,212.0 405.90,212.0 406.15,211.9 406.40,211.7 406.65,211.5 406.90,211.2 407.15,210.9 407.40,210.8 407.65,210.6 407.90,210.4 408.00,210.3 408.15,210.4 408.40,210.5 408.65,210.7 408.90,210.8 409.15,210.9 409.40,211.1 409.65,211.1 409.90,211.2 410.15,211.4 410.40,211.4 410.65,211.3 410.90,211.4 411.15,211.3 411.40,211.3 411.65,211.1 411.90,211.0 412.15,210.9 412.40,210.8 412.65,210.7 412.90,210.7 413.00,210.8 413.15,210.8 413.40,210.8 413.65,211.1 413.90,211.3 414.15,211.5 414.40,211.6 414.65,211.8 414.90,211.9 415.15,212.0 415.40,212.0 415.65,212.1 415.90,212.1 416.15,212.0 416.40,212.0 416.65,212.1 416.90,212.2 417.15,212.3 417.40,212.3 417.65,212.2 417.90,212.3 418.15,212.4 418.40,212.4 418.65,212.3 418.90,212.4 419.15,212.4 419.40,212.5 419.65,212.4 419.90,212.5 420.15,212.4 420.40,212.3 420.65,212.3 420.90,212.3 421.15,212.3 421.40,212.2 421.65,212.3 421.90,212.3 422.15,212.3 422.40,212.4 422.65,212.4 422.90,212.4 423.15,212.6 423.40,212.5 423.65,212.6 423.90,212.7 424.15,212.7 424.40,212.8 424.65,212.7 424.90,212.8 425.15,212.7 425.40,212.7 425.65,212.8 425.90,212.6 426.15,212.5 426.40,212.4 426.65,212.4 426.90,212.7 427.15,212.6 427.40,212.6 427.65,212.6 427.90,212.6 428.15,212.7 428.40,212.6 428.65,212.6 428.90,212.6 429.15,212.6 429.40,212.6 429.65,212.6 429.90,212.6 430.15,212.5 430.40,212.4 430.65,212.4 430.90,212.4 431.15,212.4 431.40,212.3 431.65,212.3 431.90,212.3 432.15,212.2 432.40,212.4 432.65,212.3 432.90,212.4 433.15,212.5 433.40,212.4 433.65,212.4 433.90,212.3 434.15,212.3 434.40,212.1 434.65,211.9 434.90,211.7 435.15,211.5 435.40,211.5 435.65,211.3 435.90,210.9 436.15,210.6 436.40,210.4 436.60,210.3 436.65,210.3 436.90,210.3 437.15,210.5 437.40,210.7 437.65,211.0 437.90,211.3 438.15,211.6 438.40,211.8 438.65,211.8 438.90,211.9 439.15,211.9 439.40,212.1 439.65,212.1 439.90,212.2 440.15,212.2 440.40,212.4 440.65,212.4 440.90,212.5 441.15,212.5 441.40,212.5 441.65,212.4 441.90,212.4 442.15,212.4 442.40,212.3 442.65,212.4 442.90,212.4 443.15,212.4 443.40,212.5 443.65,212.5 443.90,212.4 444.15,212.4 444.40,212.4 444.65,212.3 444.90,212.2 445.15,212.1 445.40,212.2 445.65,212.3 445.90,212.3 446.15,212.4 446.40,212.2 446.65,212.3 446.90,212.1 447.15,212.1 447.40,212.2 447.65,212.2 447.90,212.2 448.15,212.3 448.40,212.5 448.65,212.5 448.90,212.5 449.15,212.4 449.40,212.4 449.65,212.5 449.90,212.6 450.15,212.6 450.40,212.8 450.65,212.7 450.90,212.7 451.15,212.7 451.40,212.7 451.65,212.8 451.90,212.8 452.15,212.8 452.40,212.8 452.65,212.9 452.90,212.8 453.15,212.8 453.40,212.8 453.65,212.8 453.90,212.8 454.15,212.8 454.40,212.9 454.65,212.8 454.90,212.9 455.15,212.8 455.40,212.8 455.65,212.7 455.90,212.7 456.15,212.8 456.40,212.7 456.65,212.5 456.90,212.6 457.15,212.5 457.40,212.6 457.65,212.5 457.90,212.4 458.15,212.5 458.40,212.4 458.65,212.4 458.90,212.4 459.15,212.4 459.40,212.3 459.65,212.2 459.90,212.3 460.15,212.5 460.40,212.4 460.65,212.4 460.90,212.3 461.15,212.2 461.40,212.3 461.65,212.3 461.90,212.3 462.15,212.3 462.40,212.3 462.65,212.3 462.90,212.4 463.15,212.5 463.40,212.6 463.65,212.4 463.90,212.5 464.15,212.5 464.40,212.7 464.65,212.6 464.90,212.6 465.15,212.5 465.40,212.5 465.65,212.5 465.90,212.5 466.15,212.6 466.40,212.5 466.65,212.5 466.90,212.5 467.15,212.5 467.40,212.5 467.65,212.5 467.90,212.3 468.15,212.5 468.40,212.4 468.65,212.4 468.90,212.3 469.15,212.3 469.40,212.3 469.65,212.2 469.90,212.2 470.15,212.1 470.40,212.1 470.65,212.2 470.90,212.2 471.15,212.2 471.40,212.3 471.65,212.2 471.90,212.3 472.15,212.2 472.40,212.3 472.65,212.3 472.90,212.3 473.15,212.3 473.40,212.3 473.65,212.3 473.90,212.2 474.15,212.1 474.40,212.0 474.65,211.9 474.90,211.8 475.15,211.6 475.40,211.5 475.65,211.3 475.90,211.1 476.15,210.8 476.40,210.6 476.65,210.4 476.90,210.4 477.00,210.4 477.15,210.3 477.40,210.4 477.65,210.6 477.90,210.8 478.15,210.9 478.40,211.2 478.65,211.2 478.90,211.3 479.15,211.3 479.40,211.3 479.65,211.1 479.90,211.0 480.15,210.7 480.40,210.6 480.65,210.7 480.90,210.5 481.00,210.5 481.15,210.6 481.40,210.7 481.65,210.9 481.90,211.1 482.15,211.3 482.40,211.4 482.65,211.6 482.90,211.8 483.15,212.1 483.40,212.1 483.65,212.1 483.90,212.1 484.15,212.2 484.40,212.2 484.65,212.3 484.90,212.3 485.15,212.3 485.40,212.3 485.65,212.3 485.90,212.5 486.15,212.4 486.40,212.4 486.65,212.2 486.90,212.2 487.15,212.2 487.40,212.2 487.65,212.3 487.90,212.3 488.15,212.3 488.40,212.3 488.65,212.3 488.90,212.4 489.15,212.4 489.40,212.3 489.65,212.4 489.90,212.4 490.15,212.5 490.40,212.5 490.65,212.5 490.90,212.6 491.15,212.6 491.40,212.6 491.65,212.7 491.90,212.6 492.15,212.8 492.40,212.7 492.65,212.6 492.90,212.6 493.15,212.7 493.40,212.6 493.65,212.5 493.90,212.4 494.15,212.2 494.40,212.0 494.65,211.7 494.90,211.5 495.15,210.9 495.40,210.0 495.65,208.5 495.90,207.1 496.00,207.0 496.15,207.3 496.40,208.8 496.65,210.2 496.90,211.2 497.15,211.7 497.40,212.1 497.65,212.4 497.90,212.6 498.15,212.5 498.40,212.5 498.65,212.6 498.90,212.6 499.15,212.5 499.40,212.6 499.65,212.7 499.90,212.7 500.15,212.6 500.40,212.5 500.65,212.6 500.90,212.6 501.15,212.5 501.40,212.5 501.65,212.5 501.90,212.5 502.15,212.6 502.40,212.5 502.65,212.6 502.90,212.5 503.15,212.3 503.40,212.3 503.65,212.4 503.90,212.3 504.15,212.3 504.40,212.1 504.65,212.0 504.90,211.9 505.15,212.0 505.40,211.8 505.65,211.6 505.90,211.5 506.15,211.2 506.40,211.0 506.65,210.8 506.90,210.7 507.00,210.7 507.15,210.7 507.40,210.7 507.65,210.9 507.90,211.1 508.15,211.4 508.40,211.5 508.65,211.7 508.90,211.8 509.15,212.0 509.40,212.1 509.65,212.2 509.90,212.3 510.15,212.3 510.40,212.4 510.65,212.5 510.90,212.4 511.15,212.5 511.40,212.5 511.65,212.5 511.90,212.4 512.15,212.4 512.40,212.4 512.65,212.4 512.90,212.4 513.15,212.4 513.40,212.3 513.65,212.4 513.90,212.5 514.15,212.4 514.40,212.4 514.65,212.5 514.90,212.5 515.15,212.4 515.40,212.4 515.65,212.4 515.90,212.3 516.15,212.4 516.40,212.4 516.65,212.5 516.90,212.6 517.15,212.5 517.40,212.5 517.65,212.5 517.90,212.5 518.15,212.4 518.40,212.4 518.65,212.3 518.90,212.3 519.15,212.2 519.40,212.1 519.65,212.0 519.90,211.8 520.15,211.7 520.40,211.5 520.65,211.4 520.90,211.2 521.15,211.0 521.40,210.9 521.60,210.8 521.65,210.8 521.90,211.0 522.15,211.1 522.40,211.3 522.65,211.6 522.90,211.9 523.15,212.0 523.40,212.1 523.65,212.1 523.90,212.1 524.15,212.1 524.40,212.1 524.65,212.1 524.90,212.0 525.15,212.0 525.40,211.9 525.65,211.9 525.90,211.8 526.15,211.8 526.40,211.6 526.65,211.4 526.90,211.3 527.15,211.2 527.40,211.1 527.60,211.2 527.65,211.2 527.90,211.4 528.15,211.6 528.40,211.8 528.65,211.8 528.90,211.9 529.15,212.0 529.40,212.1 529.65,212.0 529.90,212.2 530.15,212.2 530.40,212.3 530.65,212.4 530.90,212.4 531.15,212.4 531.40,212.2 531.65,211.9 531.90,211.8 532.15,211.6 532.40,211.4 532.65,211.3 532.90,211.2 533.00,211.2 533.15,211.3 533.40,211.4 533.65,211.5 533.90,211.5 534.15,211.6 534.40,211.7 534.65,211.8 534.90,211.9 535.15,212.0 535.40,212.1 535.65,212.2 535.90,212.3 536.15,212.4 536.40,212.4 536.65,212.3 536.90,212.3"/>
<polyline stroke="#808000" points="45.90,155.0 46.15,155.1 46.40,155.1 46.65,155.2 46.90,155.1 47.15,155.2 47.40,155.1 47.65,155.1 47.90,155.1 48.15,155.0 48.40,155.1 48.65,155.2 48.90,155.3 49.15,155.2 49.40,155.2 49.65,155.0 49.90,155.0 50.15,155.0 50.40,154.9 50.65,154.8 50.90,154.9 51.15,155.0 51.40,155.0 51.65,155.0 51.90,155.1 52.15,155.1 52.40,155.1 52.65,155.1 52.90,155.0 53.15,155.0 53.40,155.1 53.65,155.0 53.90,155.0 54.15,155.0 54.40,155.0 54.65,154.9 54.90,154.9 55.15,155.0 55.40,154.9 55.65,154.9 55.90,155.0 56.15,155.1 56.40,154.9 56.65,155.0 56.90,154.9 57.15,154.9 57.40,154.9 57.65,154.8 57.90,155.0 58.15,155.0 58.40,154.9 58.65,154.9 58.90,154.9 59.15,154.9 59.40,154.9 59.65,154.9 59.90,155.1 60.15,155.1 60.40,155.1 60.65,155.2 60.90,155.2 61.15,155.2 61.40,155.2 61.65,155.2 61.90,155.2 62.15,155.4 62.40,155.4 62.65,155.3 62.90,155.4 63.15,155.2 63.40,155.3 63.65,155.2 63.90,155.2 64.15,155.3 64.40,155.3 64.65,155.3 64.90,155.2 65.15,155.2 65.40,155.2 65.65,155.2 65.90,155.2 66.15,155.2 66.40,155.1 66.65,155.2 66.90,155.1 67.15,155.0 67.40,155.0 67.65,154.9 67.90,155.0 68.15,155.1 68.40,155.1 68.65,155.2 68.90,155.2 69.15,155.2 69.40,155.2 69.65,155.2 69.90,155.2 70.15,155.3 70.40,155.2 70.65,155.4 70.90,155.4 71.15,155.4 71.40,155.3 71.65,155.4 71.90,155.3 72.15,155.2 72.40,155.3 72.65,155.3 72.90,155.2 73.15,155.3 73.40,155.2 73.65,155.2 73.90,155.2 74.15,155.1 74.40,155.1 74.65,155.1 74.90,155.2 75.15,155.0 75.40,155.1 75.65,155.1 75.90,155.0 76.15,155.0 76.40,154.9 76.65,154.9 76.90,154.9 77.15,154.9 77.40,154.8 77.65,154.9 77.90,155.0 78.15,155.0 78.40,154.9 78.65,154.9 78.90,154.9 79.15,154.8 79.40,154.9 79.65,155.0 79.90,155.1 80.15,155.1 80.40,155.1 80.65,155.2 80.90,155.2 81.15,155.1 81.40,155.2 81.65,155.0 81.90,155.0 82.15,155.1 82.40,155.1 82.65,155.0 82.90,154.9 83.15,154.9 83.40,154.8 83.65,154.7 83.90,154.7 84.15,154.7 84.40,154.7 84.65,154.7 84.90,154.7 85.15,154.9 85.40,155.0 85.65,155.0 85.90,155.0 86.15,155.1 86.40,155.1 86.65,155.1 86.90,155.1 87.15,155.3 87.40,155.3 87.65,155.3 87.90,155.4 88.15,155.4 88.40,155.4 88.65,155.4 88.90,155.4 89.15,155.3 89.40,155.2 89.65,155.2 89.90,155.1 90.15,155.1 90.40,155.1 90.65,155.1 90.90,155.2 91.15,155.2 91.40,155.1 91.65,155.0 91.90,155.0 92.15,154.9 92.40,154.9 92.65,154.8 92.90,154.8 93.15,154.9 93.40,154.7 93.65,154.7 93.90,154.6 94.15,154.4 94.40,154.3 94.65,154.2 94.90,154.2 95.15,154.0 95.40,153.8 95.65,153.6 95.90,153.3 96.15,153.0 96.40,152.6 96.65,152.1 96.90,151.6 97.15,150.8 97.40,149.7 97.65,148.4 97.90,146.8 98.15,145.3 98.40,144.7 98.65,145.3 98.90,146.6 99.15,148.2 99.40,149.5 99.65,150.6 99.90,151.3 100.15,151.8 100.40,152.0 100.65,152.2 100.90,152.4 101.15,152.5 101.40,152.5 101.65,152.5 101.90,152.4 102.15,152.2 102.40,151.9 102.65,151.7 102.90,151.3 103.15,151.0 103.40,150.5 103.65,149.8 103.90,149.1 104.15,148.3 104.40,147.0 104.65,145.5 104.90,143.6 105.15,141.0 105.40,137.4 105.65,132.8 105.90,126.5 106.15,118.5 106.40,109.3 106.65,101.3 106.90,98.0 107.15,101.4 107.40,109.4 107.65,118.6 107.90,126.7 108.15,132.9 108.40,137.6 108.65,141.1 108.90,143.7 109.15,145.6 109.40,147.3 109.65,148.6 109.90,149.5 110.15,150.3 110.40,150.9 110.65,151.4 110.90,151.9 111.15,152.3 111.40,152.5 111.65,152.8 111.90,153.0 112.15,153.2 112.40,153.5 112.65,153.7 112.90,153.7 113.15,153.9 113.40,154.1 113.65,154.1 113.90,154.3 114.15,154.4 114.40,154.4 114.65,154.4 114.90,154.5 115.15,154.6 115.40,154.6 115.65,154.6 115.90,154.6 116.15,154.6 116.40,154.6 116.65,154.5 116.90,154.5 117.15,154.5 117.40,154.5 117.65,154.5 117.90,154.4 118.15,154.4 118.40,154.4 118.65,154.3 118.90,154.1 119.15,154.0 119.40,153.7 119.65,153.5 119.90,153.3 120.15,153.0 120.40,152.4 120.65,151.5 120.90,150.4 121.15,149.0 121.40,147.4 121.65,145.8 121.90,144.6 122.00,144.5 122.15,144.7 122.40,145.9 122.65,147.7 122.90,149.3 123.15,150.6 123.40,151.5 123.65,152.3 123.90,152.9 124.15,153.4 124.40,153.8 124.65,154.0 124.90,154.2 125.15,154.5 125.40,154.6 125.65,154.9 125.90,155.0 126.15,155.0 126.40,155.1 126.65,155.0 126.90,155.1 127.15,155.1 127.40,155.1 127.65,155.1 127.90,155.0 128.15,155.1 128.40,155.1 128.65,155.1 128.90,155.1 129.15,155.1 129.40,155.0 129.65,154.9 129.90,154.9 130.15,154.9 130.40,154.7 130.65,154.5 130.90,154.2 131.15,154.0 131.40,153.8 131.65,153.4 131.90,153.2 132.00,153.1 132.15,153.3 132.40,153.5 132.65,153.8 132.90,154.2 133.15,154.5 133.40,154.7 133.65,155.0 133.90,155.2 134.15,155.2 134.40,155.3 134.65,155.3 134.90,155.4 135.15,155.3 135.40,155.3 135.65,155.4 135.90,155.4 136.15,155.4 136.40,155.4 136.65,155.5 136.90,155.5 137.15,155.4 137.40,155.5 137.65,155.6 137.90,155.6 138.15,155.6 138.40,155.6 138.65,155.7 138.90,155.8 139.15,155.7 139.40,155.7 139.65,155.8 139.90,155.8 140.15,155.7 140.40,155.7 140.65,155.7 140.90,155.6 141.15,155.5 141.40,155.6 141.65,155.6 141.90,155.5 142.15,155.5 142.40,155.5 142.65,155.4 142.90,155.5 143.15,155.4 143.40,155.4 143.65,155.6 143.90,155.6 144.15,155.6 144.40,155.7 144.65,155.6 144.90,155.7 145.15,155.7 145.40,155.7 145.65,155.7 145.90,155.6 146.15,155.6 146.40,155.6 146.65,155.7 146.90,155.7 147.15,155.7 147.40,155.7 147.65,155.7 147.90,155.7 148.15,155.7 148.40,155.8 148.65,155.7 148.90,155.8 149.15,155.8 149.40,155.9 149.65,155.9 149.90,155.9 150.15,155.8 150.40,155.9 150.65,155.9 150.90,155.9 151.15,155.9 151.40,155.9 151.65,156.0 151.90,155.9 152.15,155.9 152.40,155.8 152.65,155.7 152.90,155.7 153.15,155.7 153.40,155.6 153.65,155.6 153.90,155.5 154.15,155.6 154.40,155.7 154.65,155.7 154.90,155.7 155.15,155.7 155.40,155.6 155.65,155.6 155.90,155.7 156.15,155.8 156.40,155.7 156.65,155.8 156.90,155.7 157.15,155.8 157.40,155.9 157.65,155.7 157.90,155.7 158.15,155.7 158.40,155.8 158.65,155.7 158.90,155.8 159.15,155.8 159.40,155.8 159.65,155.9 159.90,155.8 160.15,155.8 160.40,155.8 160.65,155.8 160.90,155.8 161.15,155.9 161.40,156.0 161.65,155.9 161.90,155.9 162.15,155.9 162.40,156.0 162.65,156.0 162.90,156.1 163.15,156.1 163.40,156.1 163.65,156.1 163.90,156.1 164.15,156.1 164.40,156.0 164.65,156.0 164.90,156.0 165.15,155.9 165.40,156.0 165.65,155.9 165.90,155.8 166.15,155.8 166.40,155.7 166.65,155.7 166.90,155.8 167.15,155.8 167.40,155.8 167.65,155.6 167.90,155.7 168.15,155.7 168.40,155.7 168.65,155.7 168.90,155.7 169.15,155.7 169.40,155.8 169.65,155.8 169.90,155.7 170.15,155.7 170.40,155.6 170.65,155.5 170.90,155.6 171.15,155.7 171.40,155.7 171.65,155.6 171.90,155.6 172.15,155.7 172.40,155.6 172.65,155.6 172.90,155.6 173.15,155.6 173.40,155.4 173.65,155.4 173.90,155.4 174.15,155.3 174.40,155.2 174.65,155.0 174.90,154.8 175.10,154.8 175.15,154.9 175.40,154.9 175.65,155.2 175.90,155.4 176.15,155.6 176.40,155.7 176.65,155.9 176.90,156.0 177.15,156.1 177.40,156.1 177.65,156.1 177.90,156.0 178.15,156.1 178.40,156.0 178.65,156.0 178.90,156.0 179.15,156.1 179.40,156.1 179.65,156.0 179.90,156.0 180.15,156.1 180.40,156.1 180.65,156.1 180.90,156.0 181.15,156.0 181.40,156.0 181.65,155.8 181.90,155.7 182.15,155.7 182.40,155.6 182.65,155.5 182.90,155.4 183.15,155.3 183.40,155.2 183.65,155.0 183.90,154.7 184.15,154.3 184.40,153.9 184.65,153.4 184.90,152.9 185.15,152.8 185.30,152.7 185.40,152.7 185.65,153.1 185.90,153.6 186.15,154.1 186.40,154.5 186.65,154.9 186.90,155.2 187.15,155.4 187.40,155.7 187.65,155.8 187.90,155.9 188.15,156.0 188.40,155.9 188.65,156.1 188.90,156.1 189.15,156.1 189.40,156.0 189.65,156.0 189.90,156.0 190.15,156.0 190.40,156.0 190.65,155.8 190.90,155.7 191.15,155.7 191.40,155.6 191.65,155.6 191.90,155.5 192.15,155.4 192.40,155.2 192.65,155.1 192.90,154.9 193.15,154.7 193.40,154.4 193.65,154.2 193.90,153.8 194.15,153.4 194.40,153.0 194.65,152.9 194.70,152.9 194.90,153.1 195.15,153.5 195.40,153.9 195.65,154.4 195.90,154.8 196.15,155.1 196.40,155.3 196.65,155.5 196.90,155.5 197.15,155.5 197.40,155.4 197.65,155.3 197.90,155.0 198.15,154.7 198.40,154.2 198.65,153.6 198.90,153.1 199.15,152.7 199.30,152.7 199.40,152.5 199.65,152.9 199.90,153.4 200.15,154.0 200.40,154.4 200.65,154.8 200.90,155.0 201.15,155.1 201.40,155.3 201.65,155.5 201.90,155.6 202.15,155.7 202.40,155.7 202.65,155.7 202.90,155.7 203.15,155.7 203.40,155.8 203.65,155.8 203.90,155.9 204.15,156.0 204.40,156.1 204.65,156.1 204.90,156.2 205.15,156.1 205.40,155.9 205.65,155.8 205.90,155.7 206.15,155.8 206.40,155.8 206.65,155.8 206.90,155.7 207.15,155.6 207.40,155.4 207.65,155.4 207.90,155.3 208.15,155.3 208.40,155.2 208.65,155.1 208.90,155.1 209.15,154.9 209.40,154.8 209.65,154.4 209.90,154.0 210.15,153.3 210.40,152.6 210.65,151.5 210.90,150.3 211.15,148.7 211.40,147.5 211.60,147.1 211.65,147.0 211.90,147.7 212.15,149.1 212.40,150.5 212.65,151.7 212.90,152.8 213.15,153.4 213.40,154.0 213.65,154.4 213.90,154.7 214.15,154.9 214.40,155.1 214.65,155.2 214.90,155.3 215.15,155.4 215.40,155.6 215.65,155.6 215.90,155.6 216.15,155.7 216.40,155.6 216.65,155.7 216.90,155.7 217.15,155.6 217.40,155.6 217.65,155.7 217.90,155.6 218.15,155.7 218.40,155.7 218.65,155.6 218.90,155.5 219.15,155.4 219.40,155.1 219.65,154.9 219.90,154.6 220.15,154.2 220.40,153.7 220.65,153.1 220.90,152.3 221.15,151.3 221.40,150.7 221.60,150.4 221.65,150.3 221.90,150.8 222.15,151.6 222.40,152.5 222.65,153.3 222.90,153.9 223.15,154.2 223.40,154.4 223.65,154.5 223.90,154.7 224.15,154.7 224.40,154.6 224.65,154.5 224.90,154.2 225.15,153.9 225.40,153.4 225.65,152.8 225.90,152.5 226.00,152.5 226.15,152.5 226.40,152.9 226.65,153.4 226.90,154.0 227.15,154.2 227.40,154.4 227.65,154.5 227.90,154.6 228.15,154.7 228.40,154.8 228.65,154.6 228.90,154.3 229.15,154.0 229.40,153.5 229.65,152.9 229.90,152.0 230.15,151.1 230.40,150.4 230.60,150.1 230.65,150.2 230.90,150.7 231.15,151.5 231.40,152.4 231.65,153.2 231.90,153.8 232.15,154.3 232.40,154.7 232.65,155.1 232.90,155.2 233.15,155.4 233.40,155.3 233.65,155.3 233.90,155.4 234.15,155.4 234.40,155.5 234.65,155.5 234.90,155.6 235.15,155.5 235.40,155.4 235.65,155.4 235.90,155.4 236.15,155.2 236.40,155.1 236.65,155.0 236.90,155.1 237.15,154.9 237.40,154.7 237.65,154.4 237.90,153.9 238.15,153.4 238.40,152.7 238.65,152.1 238.90,151.7 239.00,151.7 239.15,151.7 239.40,152.2 239.65,153.0 239.90,153.7 240.15,154.2 240.40,154.6 240.65,154.9 240.90,155.1 241.15,155.3 241.40,155.4 241.65,155.5 241.90,155.6 242.15,155.6 242.40,155.5 242.65,155.6 242.90,155.8 243.15,155.9 243.40,155.9 243.65,155.9 243.90,155.9 244.15,155.8 244.40,156.0 244.65,156.0 244.90,156.0 245.15,156.0 245.40,156.0 245.65,156.1 245.90,156.1 246.15,155.9 246.40,155.8 246.65,155.7 246.90,155.6 247.15,155.4 247.40,155.3 247.65,155.1 247.90,154.7 248.15,154.3 248.40,153.8 248.65,153.3 248.90,153.0 249.00,152.9 249.15,152.9 249.40,153.3 249.65,153.6 249.90,153.9 250.15,154.0 250.40,154.0 250.65,153.9 250.90,153.6 251.15,153.1 251.40,152.9 251.60,152.9 251.65,153.0 251.90,153.3 252.15,153.7 252.40,154.1 252.65,154.5 252.90,154.8 253.15,155.0 253.40,155.2 253.65,155.4 253.90,155.5 254.15,155.7 254.40,155.8 254.65,155.9 254.90,155.7 255.15,155.6 255.40,155.6 255.65,155.6 255.90,155.6 256.15,155.4 256.40,155.5 256.65,155.5 256.90,155.5 257.15,155.3 257.40,155.2 257.65,154.9 257.90,154.7 258.15,154.4 258.40,154.1 258.65,153.7 258.90,153.4 259.00,153.5 259.15,153.5 259.40,153.7 259.65,154.0 259.90,154.3 260.15,154.4 260.40,154.5 260.65,154.6 260.90,154.6 261.15,154.6 261.40,154.6 261.65,154.5 261.90,154.4 262.15,154.2 262.40,153.9 262.65,153.5 262.90,153.1 263.15,152.5 263.40,151.7 263.65,150.9 263.90,150.4 264.00,150.1 264.15,150.1 264.40,150.3 264.65,150.6 264.90,150.7 265.15,150.6 265.40,150.3 265.65,149.8 265.90,149.0 266.15,147.9 266.40,147.1 266.50,146.8 266.65,146.6 266.90,146.8 267.15,147.1 267.40,147.1 267.65,146.7 267.90,145.8 268.15,144.3 268.40,142.3 268.65,139.1 268.90,134.8 269.15,129.2 269.40,122.2 269.65,115.3 269.90,110.9 270.00,110.5 270.15,111.5 270.40,116.8 270.65,124.0 270.90,130.9 271.15,136.4 271.40,140.6 271.65,143.6 271.90,146.0 272.15,147.9 272.40,149.2 272.65,150.3 272.90,151.1 273.15,151.7 273.40,152.2 273.65,152.7 273.90,153.0 274.15,153.2 274.40,153.3 274.65,153.3 274.90,153.4 275.15,153.5 275.40,153.4 275.65,153.1 275.90,152.7 276.15,152.3 276.40,151.6 276.65,151.0 276.90,150.6 277.00,150.5 277.15,150.7 277.40,151.3 277.65,152.1 277.90,152.9 278.15,153.5 278.40,154.0 278.65,154.3 278.90,154.7 279.15,154.9 279.40,155.0 279.65,155.1 279.90,155.2 280.15,155.3 280.40,155.3 280.65,155.3 280.90,155.4 281.15,155.5 281.40,155.6 281.65,155.7 281.90,155.6 282.15,155.5 282.40,155.5 282.65,155.4 282.90,155.4 283.15,155.5 283.40,155.4 283.65,155.4 283.90,155.3 284.15,155.3 284.40,155.2 284.65,155.2 284.90,155.1 285.15,155.0 285.40,155.0 285.65,154.9 285.90,154.8 286.15,154.5 286.40,154.3 286.65,154.0 286.90,153.8 287.00,153.7 287.15,153.7 287.40,153.6 287.65,153.5 287.90,153.5 288.15,153.3 288.40,153.1 288.65,152.8 288.90,152.6 289.15,152.1 289.40,151.8 289.65,151.2 289.90,150.6 290.15,149.8 290.40,149.0 290.65,147.9 290.90,146.7 291.15,145.0 291.40,143.0 291.65,140.4 291.90,136.9 292.15,132.1 292.40,125.7 292.65,117.3 292.90,106.1 293.15,92.4 293.40,77.8 293.65,67.1 293.80,65.2 293.90,66.0 294.15,75.1 294.40,89.2 294.65,103.3 294.90,115.0 295.15,123.9 295.40,130.7 295.65,135.8 295.90,139.5 296.15,142.4 296.40,144.6 296.65,146.4 296.90,147.9 297.15,149.0 297.40,150.0 297.65,150.8 297.90,151.4 298.15,151.9 298.40,152.2 298.65,152.7 298.90,153.0 299.15,153.3 299.40,153.6 299.65,153.9 299.90,154.0 300.15,154.1 300.40,154.3 300.65,154.4 300.90,154.4 301.15,154.5 301.40,154.7 301.65,154.8 301.90,155.0 302.15,155.1 302.40,155.1 302.65,155.3 302.90,155.4 303.15,155.4 303.40,155.6 303.65,155.7 303.90,155.6 304.15,155.7 304.40,155.7 304.65,155.9 304.90,155.9 305.15,156.0 305.40,156.0 305.65,156.0 305.90,156.0 306.15,156.0 306.40,156.0 306.65,156.0 306.90,156.0 307.15,156.0 307.40,156.1 307.65,156.2 307.90,156.2 308.15,156.3 308.40,156.3 308.65,156.4 308.90,156.4 309.15,156.4 309.40,156.4 309.65,156.4 309.90,156.5 310.15,156.4 310.40,156.5 310.65,156.5 310.90,156.4 311.15,156.3 311.40,156.4 311.65,156.3 311.90,156.3 312.15,156.1 312.40,156.0 312.65,155.9 312.90,155.8 313.15,155.5 313.40,155.1 313.65,154.8 313.90,154.2 314.15,153.9 314.40,153.7 314.65,153.7 314.90,154.0 315.15,154.3 315.40,154.5 315.65,154.7 315.90,154.8 316.15,154.9 316.40,154.8 316.65,154.7 316.90,154.5 317.15,154.1 317.40,153.5 317.65,152.7 317.90,151.8 318.15,150.8 318.40,150.0 318.60,149.8 318.65,149.8 318.90,150.4 319.15,151.3 319.40,152.3 319.65,153.1 319.90,153.8 320.15,154.3 320.40,154.9 320.65,155.2 320.90,155.4 321.15,155.7 321.40,155.8 321.65,155.9 321.90,156.0 322.15,156.0 322.40,156.0 322.65,156.1 322.90,156.1 323.15,156.2 323.40,156.3 323.65,156.3 323.90,156.3 324.15,156.4 324.40,156.4 324.65,156.4 324.90,156.5 325.15,156.5 325.40,156.5 325.65,156.5 325.90,156.6 326.15,156.6 326.40,156.7 326.65,156.7 326.90,156.8 327.15,156.7 327.40,156.8 327.65,156.7 327.90,156.7 328.15,156.7 328.40,156.7 328.65,156.7 328.90,156.7 329.15,156.7 329.40,156.8 329.65,156.7 329.90,156.6 330.15,156.6 330.40,156.5 330.65,156.6 330.90,156.6 331.15,156.7 331.40,156.7 331.65,156.7 331.90,156.7 332.15,156.7 332.40,156.7 332.65,156.6 332.90,156.6 333.15,156.7 333.40,156.6 333.65,156.6 333.90,156.7 334.15,156.6 334.40,156.5 334.65,156.3 334.90,156.3 335.15,156.2 335.40,156.1 335.65,156.0 335.90,156.0 336.15,156.0 336.40,155.8 336.65,155.6 336.90,155.5 337.15,155.2 337.40,154.9 337.65,154.7 337.90,154.5 338.00,154.7 338.15,154.8 338.40,154.9 338.65,155.2 338.90,155.5 339.15,155.6 339.40,155.9 339.65,156.1 339.90,156.2 340.15,156.4 340.40,156.5 340.65,156.6 340.90,156.7 341.15,156.9 341.40,156.8 341.65,156.7 341.90,156.8 342.15,156.8 342.40,156.7 342.65,156.7 342.90,156.7 343.15,156.6 343.40,156.7 343.65,156.6 343.90,156.6 344.15,156.7 344.40,156.6 344.65,156.6 344.90,156.7 345.15,156.8 345.40,156.7 345.65,156.7 345.90,156.6 346.15,156.7 346.40,156.7 346.65,156.8 346.90,156.8 347.15,156.8 347.40,156.8 347.65,156.8 347.90,156.9 348.15,156.8 348.40,156.7 348.65,156.6 348.90,156.6 349.15,156.6 349.40,156.7 349.65,156.6 349.90,156.4 350.15,156.3 350.40,156.2 350.65,156.0 350.90,155.8 351.15,155.5 351.40,155.3 351.65,155.2 351.90,155.1 352.00,155.1 352.15,155.2 352.40,155.3 352.65,155.5 352.90,155.8 353.15,156.0 353.40,156.0 353.65,156.2 353.90,156.3 354.15,156.4 354.40,156.5 354.65,156.5 354.90,156.6 355.15,156.7 355.40,156.7 355.65,156.6 355.90,156.6 356.15,156.5 356.40,156.5 356.65,156.5 356.90,156.5 357.15,156.5 357.40,156.6 357.65,156.5 357.90,156.5 358.15,156.5 358.40,156.3 358.65,156.3 358.90,156.3 359.15,156.3 359.40,156.3 359.65,156.0 359.90,155.9 360.15,155.8 360.40,155.6 360.65,155.4 360.90,155.1 361.15,154.6 361.40,154.1 361.65,153.4 361.90,152.5 362.15,151.3 362.40,149.3 362.65,147.0 362.90,144.3 363.15,142.1 363.40,141.1 363.65,141.9 363.90,144.2 364.15,146.6 364.40,148.9 364.65,150.7 364.90,152.1 365.15,153.0 365.40,153.7 365.65,154.1 365.90,154.6 366.15,155.0 366.40,155.4 366.65,155.6 366.90,155.9 367.15,156.0 367.40,156.0 367.65,156.1 367.90,156.1 368.15,156.0 368.40,156.0 368.65,156.0 368.90,156.0 369.15,156.0 369.40,155.9 369.65,155.8 369.90,155.6 370.15,155.4 370.40,155.2 370.65,154.9 370.90,154.7 371.15,154.2 371.40,153.7 371.65,153.1 371.90,152.2 372.15,150.9 372.40,149.4 372.65,147.3 372.90,144.9 373.15,142.9 373.40,141.9 373.65,142.9 373.90,145.0 374.15,147.4 374.40,149.5 374.65,151.2 374.90,152.4 375.15,153.3 375.40,154.0 375.65,154.5 375.90,154.9 376.15,155.2 376.40,155.3 376.65,155.3 376.90,155.4 377.15,155.3 377.40,155.2 377.65,155.2 377.90,155.1 378.00,155.1 378.15,155.1 378.40,155.3 378.65,155.3 378.90,155.5 379.15,155.5 379.40,155.7 379.65,155.9 379.90,156.0 380.15,156.2 380.40,156.3 380.65,156.4 380.90,156.3 381.15,156.4 381.40,156.5 381.65,156.5 381.90,156.4 382.15,156.5 382.40,156.5 382.65,156.5 382.90,156.5 383.15,156.5 383.40,156.6 383.65,156.6 383.90,156.6 384.15,156.7 384.40,156.8 384.65,156.8 384.90,156.8 385.15,156.9 385.40,157.0 385.65,157.1 385.90,157.1 386.15,157.1 386.40,157.1 386.65,157.2 386.90,157.2 387.15,157.2 387.40,157.1 387.65,157.1 387.90,157.2 388.15,157.2 388.40,157.1 388.65,157.1 388.90,157.0 389.15,157.0 389.40,157.1 389.65,157.1 389.90,157.1 390.15,157.0 390.40,157.1 390.65,157.1 390.90,157.1 391.15,157.1 391.40,157.0 391.65,157.0 391.90,157.0 392.15,157.0 392.40,157.0 392.65,157.0 392.90,156.9 393.15,156.9 393.40,156.9 393.65,156.9 393.90,156.8 394.15,156.9 394.40,157.0 394.65,157.0 394.90,156.9 395.15,156.9 395.40,156.8 395.65,156.8 395.90,156.8 396.15,156.8 396.40,156.7 396.65,156.6 396.90,156.5 397.15,156.2 397.40,156.1 397.65,155.8 397.90,155.6 398.15,155.3 398.40,155.1 398.65,154.9 398.90,154.9 399.00,154.8 399.15,154.8 399.40,154.9 399.65,155.1 399.90,155.4 400.15,155.6 400.40,155.9 400.65,156.1 400.90,156.3 401.15,156.3 401.40,156.5 401.65,156.5 401.90,156.6 402.15,156.6 402.40,156.6 402.65,156.8 402.90,156.8 403.15,156.9 403.40,157.0 403.65,157.0 403.90,157.1 404.15,157.1 404.40,157.1 404.65,157.1 404.90,157.2 405.15,157.3 405.40,157.3 405.65,157.3 405.90,157.3 406.15,157.3 406.40,157.4 406.65,157.3 406.90,157.2 407.15,157.1 407.40,157.0 407.65,157.0 407.90,156.9 408.15,156.9 408.40,156.9 408.65,156.9 408.90,157.0 409.15,156.9 409.40,156.9 409.65,156.8 409.90,156.5 410.15,156.5 410.40,156.4 410.65,156.2 410.90,156.1 411.15,155.9 411.40,155.7 411.65,155.4 411.90,155.0 412.15,154.7 412.40,154.4 412.65,154.0 412.90,153.7 413.00,153.7 413.15,153.8 413.40,153.9 413.65,154.0 413.90,154.3 414.15,154.4 414.40,154.4 414.65,154.2 414.90,153.9 415.15,153.3 415.40,152.5 415.65,151.7 415.90,151.3 416.00,151.3 416.15,151.4 416.40,152.1 416.65,153.1 416.90,154.0 417.15,154.6 417.40,155.1 417.65,155.5 417.90,155.8 418.15,156.0 418.40,156.3 418.65,156.4 418.90,156.5 419.15,156.5 419.40,156.5 419.65,156.6 419.90,156.7 420.15,156.7 420.40,156.7 420.65,156.7 420.90,156.8 421.15,156.9 421.40,156.8 421.65,156.9 421.90,156.8 422.15,156.8 422.40,156.8 422.65,156.9 422.90,156.8 423.15,156.8 423.40,156.8 423.65,156.8 423.90,156.6 424.15,156.6 424.40,156.6 424.65,156.5 424.90,156.5 425.15,156.4 425.40,156.4 425.65,156.4 425.90,156.4 426.15,156.4 426.40,156.4 426.65,156.3 426.90,156.0 427.15,155.8 427.40,155.7 427.65,155.5 427.90,155.1 428.15,154.7 428.40,154.2 428.65,153.6 428.90,152.7 429.15,151.5 429.40,150.0 429.65,147.8 429.90,145.3 430.15,142.4 430.40,140.3 430.60,139.7 430.65,139.7 430.90,141.2 431.15,143.9 431.40,146.6 431.65,149.0 431.90,150.8 432.15,152.2 432.40,153.3 432.65,154.0 432.90,154.5 433.15,154.9 433.40,155.3 433.65,155.6 433.90,155.9 434.15,156.0 434.40,156.0 434.65,156.2 434.90,156.3 435.15,156.3 435.40,156.5 435.65,156.5 435.90,156.5 436.15,156.5 436.40,156.6 436.65,156.7 436.90,156.7 437.15,156.7 437.40,156.6 437.65,156.7 437.90,156.8 438.15,156.8 438.40,156.9 438.65,157.0 438.90,157.0 439.15,157.0 439.40,157.0 439.65,157.0 439.90,157.0 440.15,157.0 440.40,157.1 440.65,157.0 440.90,156.9 441.15,157.0 441.40,156.8 441.65,156.8 441.90,156.7 442.15,156.5 442.40,156.5 442.65,156.5 442.90,156.6 443.15,156.4 443.40,156.4 443.65,156.1 443.90,155.9 444.15,155.6 444.40,155.3 444.65,155.1 444.90,155.1 445.00,155.1 445.15,155.0 445.40,155.1 445.65,155.2 445.90,155.4 446.15,155.5 446.40,155.7 446.65,155.8 446.90,155.8 447.15,155.9 447.40,156.0 447.65,156.1 447.90,156.0 448.15,156.0 448.40,155.9 448.65,155.8 448.90,155.7 449.15,155.6 449.40,155.3 449.65,155.0 449.90,154.7 450.15,154.4 450.40,154.3 450.60,154.3 450.65,154.3 450.90,154.3 451.15,154.6 451.40,154.9 451.65,155.2 451.90,155.5 452.15,155.7 452.40,155.9 452.65,156.1 452.90,156.4 453.15,156.5 453.40,156.6 453.65,156.8 453.90,156.7 454.15,156.8 454.40,157.0 454.65,157.0 454.90,157.1 455.15,157.2 455.40,157.4 455.65,157.4 455.90,157.5 456.15,157.4 456.40,157.4 456.65,157.3 456.90,157.4 457.15,157.4 457.40,157.5 457.65,157.5 457.90,157.5 458.15,157.6 458.40,157.6 458.65,157.6 458.90,157.5 459.15,157.6 459.40,157.5 459.65,157.5 459.90,157.5 460.15,157.5 460.40,157.5 460.65,157.3 460.90,157.4 461.15,157.4 461.40,157.5 461.65,157.5 461.90,157.5 462.15,157.3 462.40,157.3 462.65,157.3 462.90,157.3 463.15,157.4 463.40,157.4 463.65,157.4 463.90,157.4 464.15,157.4 464.40,157.3 464.65,157.3 464.90,157.1 465.15,157.2 465.40,157.2 465.65,157.2 465.90,157.2 466.15,157.1 466.40,157.3 466.65,157.3 466.90,157.3 467.15,157.3 467.40,157.4 467.65,157.5 467.90,157.5 468.15,157.5 468.40,157.5 468.65,157.5 468.90,157.4 469.15,157.4 469.40,157.4 469.65,157.4 469.90,157.3 470.15,157.4 470.40,157.5 470.65,157.4 470.90,157.4 471.15,157.3 471.40,157.3 471.65,157.3 471.90,157.2 472.15,157.2 472.40,157.3 472.65,157.3 472.90,157.5 473.15,157.6 473.40,157.5 473.65,157.4 473.90,157.3 474.15,157.4 474.40,157.3 474.65,157.2 474.90,157.0 475.15,156.9 475.40,156.7 475.65,156.6 475.90,156.4 476.15,156.1 476.40,155.8 476.65,155.5 476.90,155.4 477.00,155.4 477.15,155.4 477.40,155.5 477.65,155.7 477.90,156.0 478.15,156.3 478.40,156.6 478.65,156.8 478.90,157.1 479.15,157.2 479.40,157.2 479.65,157.4 479.90,157.5 480.15,157.6 480.40,157.5 480.65,157.6 480.90,157.5 481.15,157.5 481.40,157.5 481.65,157.4 481.90,157.5 482.15,157.5 482.40,157.4 482.65,157.4 482.90,157.3 483.15,157.3 483.40,157.4 483.65,157.4 483.90,157.5 484.15,157.4 484.40,157.5 484.65,157.5 484.90,157.5 485.15,157.5 485.40,157.6 485.65,157.6 485.90,157.5 486.15,157.5 486.40,157.5 486.65,157.6 486.90,157.6 487.15,157.6 487.40,157.5 487.65,157.5 487.90,157.5 488.15,157.5 488.40,157.4 488.65,157.4 488.90,157.4 489.15,157.4 489.40,157.3 489.65,157.4 489.90,157.4 490.15,157.3 490.40,157.3 490.65,157.3 490.90,157.4 491.15,157.4 491.40,157.5 491.65,157.5 491.90,157.5 492.15,157.5 492.40,157.4 492.65,157.4 492.90,157.5 493.15,157.5 493.40,157.6 493.65,157.7 493.90,157.7 494.15,157.7 494.40,157.7 494.65,157.7 494.90,157.6 495.15,157.6 495.40,157.6 495.65,157.5 495.90,157.5 496.15,157.5 496.40,157.4 496.65,157.4 496.90,157.4 497.15,157.3 497.40,157.3 497.65,157.3 497.90,157.2 498.15,157.3 498.40,157.4 498.65,157.4 498.90,157.3 499.15,157.4 499.40,157.4 499.65,157.4 499.90,157.4 500.15,157.5 500.40,157.4 500.65,157.4 500.90,157.3 501.15,157.3 501.40,157.4 501.65,157.3 501.90,157.3 502.15,157.3 502.40,157.3 502.65,157.3 502.90,157.4 503.15,157.4 503.40,157.4 503.65,157.3 503.90,157.2 504.15,157.1 504.40,157.1 504.65,156.9 504.90,156.7 505.15,156.7 505.40,156.5 505.65,156.5 505.90,156.3 506.15,156.0 506.40,155.7 506.65,155.5 506.90,155.4 507.00,155.3 507.15,155.4 507.40,155.5 507.65,155.7 507.90,156.0 508.15,156.2 508.40,156.4 508.65,156.6 508.90,156.5 509.15,156.7 509.40,156.9 509.65,157.0 509.90,157.1 510.15,157.2 510.40,157.2 510.65,157.3 510.90,157.4 511.15,157.3 511.40,157.3 511.65,157.2 511.90,157.2 512.15,157.1 512.40,157.1 512.65,157.1 512.90,157.0 513.15,156.9 513.40,156.9 513.65,156.8 513.90,156.8 514.15,156.8 514.40,156.6 514.65,156.6 514.90,156.5 515.15,156.4 515.40,156.2 515.65,156.0 515.90,155.8 516.15,155.6 516.40,155.3 516.65,155.1 516.90,154.9 517.00,154.9 517.15,154.8 517.40,154.8 517.65,155.0 517.90,155.1 518.15,155.3 518.40,155.6 518.65,155.8 518.90,156.1 519.15,156.2 519.40,156.3 519.65,156.4 519.90,156.4 520.15,156.3 520.40,156.2 520.65,156.2 520.90,156.1 521.15,156.0 521.40,155.8 521.65,155.5 521.90,155.1 522.15,154.6 522.40,154.2 522.65,153.8 522.90,153.6 523.00,153.5 523.15,153.6 523.40,153.8 523.65,154.2 523.90,154.7 524.15,155.0 524.40,155.3 524.65,155.6 524.90,156.0 525.15,156.2 525.40,156.4 525.65,156.5 525.90,156.6 526.15,156.6 526.40,156.9 526.65,156.9 526.90,156.9 527.15,157.0 527.40,157.1 527.65,157.2 527.90,157.3 528.15,157.3 528.40,157.3 528.65,157.3 528.90,157.3 529.15,157.4 529.40,157.5 529.65,157.6 529.90,157.5 530.15,157.5 530.40,157.5 530.65,157.4 530.90,157.5 531.15,157.5 531.40,157.4 531.65,157.3 531.90,157.4 532.15,157.4 532.40,157.5 532.65,157.5 532.90,157.5 533.15,157.6 533.40,157.6 533.65,157.6 533.90,157.7 534.15,157.7 534.40,157.6 534.65,157.6 534.90,157.7 535.15,157.7 535.40,157.7 535.65,157.7 535.90,157.7 536.15,157.7 536.40,157.7 536.65,157.6 536.90,157.6"/>
</g>
<g stroke="#000" stroke-width="1.9" fill="none">
<rect x="45.9" y="6.0" width="491.1" height="362.9"/>
<line x1="45.9" y1="368.9" x2="45.9" y2="375.8"/>
<line x1="116.0" y1="368.9" x2="116.0" y2="375.8"/>
<line x1="186.2" y1="368.9" x2="186.2" y2="375.8"/>
<line x1="256.3" y1="368.9" x2="256.3" y2="375.8"/>
<line x1="326.5" y1="368.9" x2="326.5" y2="375.8"/>
<line x1="396.6" y1="368.9" x2="396.6" y2="375.8"/>
<line x1="466.8" y1="368.9" x2="466.8" y2="375.8"/>
<line x1="536.9" y1="368.9" x2="536.9" y2="375.8"/>
</g>
<g font-family="'Liberation Sans', Arial, sans-serif" font-weight="bold" fill="#000">
<g font-size="15.6" text-anchor="middle">
<text transform="translate(45.9,392.9) scale(1,0.94)">5</text>
<text transform="translate(116.0,392.9) scale(1,0.94)">10</text>
<text transform="translate(186.2,392.9) scale(1,0.94)">15</text>
<text transform="translate(256.3,392.9) scale(1,0.94)">20</text>
<text transform="translate(326.5,392.9) scale(1,0.94)">25</text>
<text transform="translate(396.6,392.9) scale(1,0.94)">30</text>
<text transform="translate(466.8,392.9) scale(1,0.94)">35</text>
<text transform="translate(536.9,392.9) scale(1,0.94)">40</text>
</g>
<text x="250.6" y="420" font-size="20">2θ</text>
<text x="281.9" y="420" font-size="20">(deg)</text>
<text transform="translate(24.3,250.2) rotate(-90)" font-size="20.15">Intensity (a.u.)</text>
<rect x="178.4" y="7.2" width="353.8" height="96.9" fill="#fff" stroke="#222" stroke-width="1.25"/>
<g font-size="17">
<line x1="209.3" x2="249" y1="25.1" y2="25.1" stroke="#000000" stroke-width="1.9"/>
<text transform="translate(254.6,30.7) scale(1,0.95)">1(Simulated)</text>
<line x1="361.4" x2="401.8" y1="25.1" y2="25.1" stroke="#ff0000" stroke-width="1.9"/>
<text transform="translate(407.2,30.7) scale(1,0.95)">1(Experiment)</text>
<line x1="209.3" x2="249" y1="48.2" y2="48.2" stroke="#00ff00" stroke-width="1.9"/>
<text transform="translate(254.6,53.8) scale(1,0.95)">2(Simulated)</text>
<line x1="361.4" x2="401.8" y1="48.2" y2="48.2" stroke="#0000ff" stroke-width="1.9"/>
<text transform="translate(407.2,53.8) scale(1,0.95)">2(Experiment)</text>
<line x1="209.3" x2="249" y1="71.3" y2="71.3" stroke="#00ffff" stroke-width="1.9"/>
<text transform="translate(254.6,76.9) scale(1,0.95)">3(Simulated)</text>
<line x1="361.4" x2="401.8" y1="71.3" y2="71.3" stroke="#ff00ff" stroke-width="1.9"/>
<text transform="translate(407.2,76.9) scale(1,0.95)">3(Experiment)</text>
<line x1="209.3" x2="249" y1="94.4" y2="94.4" stroke="#ffff00" stroke-width="1.9"/>
<text transform="translate(254.6,100.0) scale(1,0.95)">4(Simulated)</text>
<line x1="361.4" x2="401.8" y1="94.4" y2="94.4" stroke="#808000" stroke-width="1.9"/>
<text transform="translate(407.2,100.0) scale(1,0.95)">4(Experiment)</text>
</g>
</g>
</svg>
</body></html>
